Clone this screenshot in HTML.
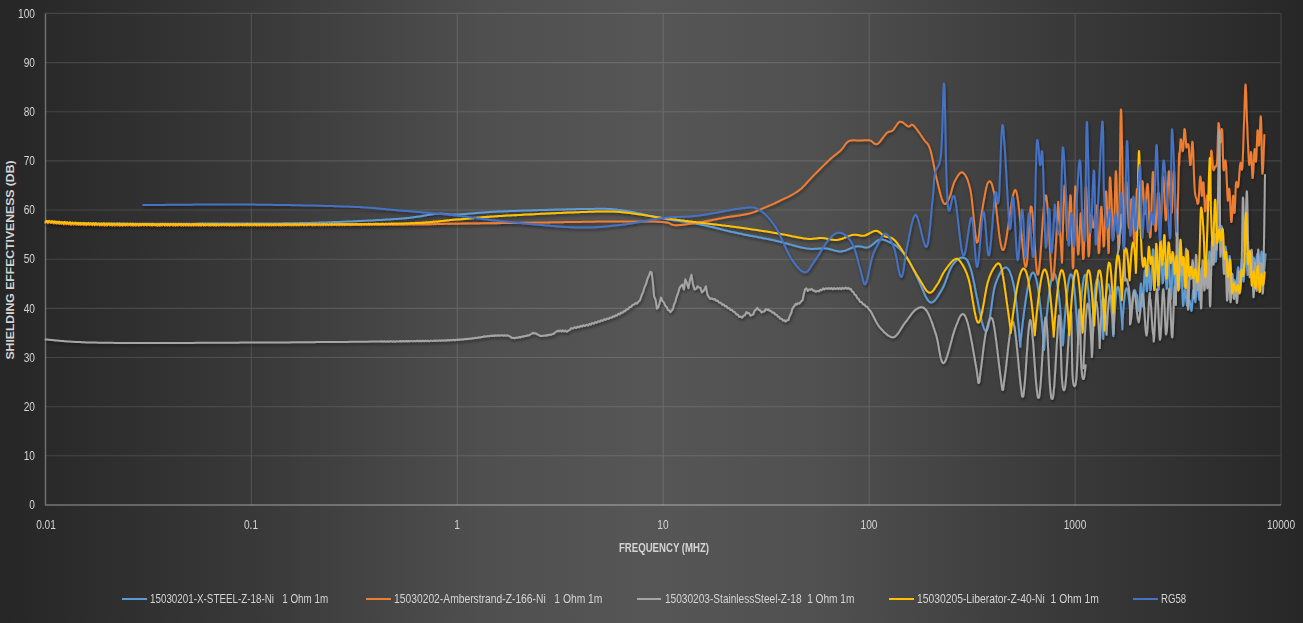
<!DOCTYPE html>
<html><head><meta charset="utf-8"><style>
html,body{margin:0;padding:0;}
body{width:1303px;height:623px;overflow:hidden;position:relative;font-family:"Liberation Sans",sans-serif;color:#d4d4d4;
background:linear-gradient(to right,#262626 0%,#393939 20%,#4f4f4f 37%,#565656 50%,#505050 63%,#3b3b3b 80%,#272727 100%);}
svg{position:absolute;left:0;top:0;}
.yl{position:absolute;left:-65px;width:100px;text-align:right;font-size:13px;line-height:16px;transform:scaleX(0.78);transform-origin:100% 50%;}
.xl{position:absolute;top:516.5px;width:100px;text-align:center;font-size:13px;line-height:16px;transform:scaleX(0.78);}
.xt{position:absolute;left:563.5px;top:539.75px;width:200px;text-align:center;font-size:13px;font-weight:bold;line-height:16px;transform:scaleX(0.74);}
.yt{position:absolute;left:-90.3px;top:251.5px;width:200px;height:16px;text-align:center;font-size:12.2px;font-weight:bold;line-height:16px;transform:rotate(-90deg) scaleY(0.9);}
.lgl{position:absolute;top:597.5px;height:2px;}
.lgt{position:absolute;top:590.5px;font-size:13.5px;line-height:16px;white-space:nowrap;transform:scaleX(0.78);transform-origin:0 50%;}
</style></head><body>
<svg width="1303" height="623" viewBox="0 0 1303 623">
<path d="M45.5 455.8H1281M45.5 406.7H1281M45.5 357.5H1281M45.5 308.4H1281M45.5 259.2H1281M45.5 210.0H1281M45.5 160.9H1281M45.5 111.7H1281M45.5 62.6H1281M45.5 13.4H1281M251.4 13.4V505M457.3 13.4V505M663.2 13.4V505M869.2 13.4V505M1075.1 13.4V505M1281.0 13.4V505" stroke="#fff" stroke-opacity="0.13" stroke-width="1.1" fill="none"/>
<path d="M45.5 13.4V505.5M45 505H1281" stroke="#fff" stroke-opacity="0.35" stroke-width="1.4" fill="none"/>
<defs><filter id="sh" x="-5%" y="-5%" width="110%" height="110%"><feGaussianBlur in="SourceAlpha" stdDeviation="1.6"/><feOffset dx="0.5" dy="2" result="b"/><feComponentTransfer><feFuncA type="linear" slope="0.45"/></feComponentTransfer><feMerge><feMergeNode/><feMergeNode in="SourceGraphic"/></feMerge></filter></defs>
<g fill="none" stroke-width="2" stroke-linejoin="round" stroke-linecap="round" filter="url(#sh)"><path d="M45.5 221.5l1 0 1.1 .1 1 0 1.2 .1 1.1 .1 1.2 0 .6 .1 .7 0 .6 .1 .7 0 .7 0 .7 .1 .7 0 .8 .1 .7 0 .8 .1 .8 0 .8 .1 .9 0 .9 .1 .9 0 .9 0 1 .1 .9 0 1 .1 1.1 0 1.1 .1 1.1 0 1.1 .1 1.1 0 1.2 .1 1.3 0 1.2 0 1.3 .1 1.4 0 1.3 .1 1.4 0 1.5 0 1.5 .1 1.5 0 1.5 0 1.7 .1 1.6 0 1.7 0 1.7 0 1.8 .1 1.8 0 1.9 0 .7 0 .7 0 .7 0 .7 0 .8 0 .7 0 .8 0 .7 0 .8 .1 .8 0 .8 0 .8 0 .8 0 .9 0 .8 0 .8 0 .9 0 .9 0 .8 0 .9 0 .9 0 .9 0 .9 0 1 0 .9 0 .9 0 1 0 .9 0 1 0 1 0 .9 0 1 0 1 .1 1 0 1 0 1 0 1 0 1.1 0 1 0 1 0 1.1 0 1 0 1.1 0 1 0 1.1 0 1.1 0 1 0 1.1 0 1.1 0 1.1 0 1.1 0 1.1 0 1.1 0 1.1 0 1.1 0 1.1 0 1.1 0 1.1 0 1.1 0 1.2 0 1.1 0 1.1 0 1.1 0 1.2 0 1.1 0 1.1 0 1.2 0 1.1 0 1.2 0 1.1 0 1.2 0 1.1 0 1.1 0 1.2 0 1.1 0 1.2 0 1.1 0 1.2 0 1.1 0 1.2 0 1.1 0 1.2 0 1.1 0 1.1 0 1.2 0 1.1 0 1.2 0 1.1 0 1.1 0 1.2 0 1.1 0 1.1 0 1.2 0 1.1 0 1.1 0 1.1-.1 1.2 0 1.1 0 1.1 0 1.1 0 1.1 0 1.1 0 1.1 0 1.1 0 1.1 0 1.1 0 1 0 1.1 0 1.1 0 1 0 1.1 0 1.1 0 1 0 1.1 0 1 0 1 0 1.1 0 1 0 1 0 1 0 1 0 1 0 1 0 1 0 .9 0 1 0 .9 0 1 0 .9 0 1 0 .9 0 .9 0 .9 0 .9-.1 .9 0 .9 0 .9 0 .8 0 .9 0 .8 0 .9 0 .8 0 .8 0 .8 0 .8 0 .8 0 .7 0 .8 0 .8 0 .7 0 1.6 0 1.5 0 1.5 0 1.4 0 1.4 0 1.4 0 1.4 0 1.3 0 1.3-.1 1.3 0 1.3 0 1.2 0 1.2 0 1.2 0 1.1 0 1.1 0 1.1 0 1.1 0 1.1 0 1 0 1.1 0 1 0 1 0 .9 0 1 0 .9 0 1 0 .9-.1 .9 0 .9 0 .9 0 .8 0 .9 0 .8 0 .9 0 .8 0 .8 0 .9 0 .8 0 .8-.1 .8 0 .8 0 .8 0 .8 0 .8 0 .8 0 .9 0 .8-.1 .8 0 .8 0 .8 0 .9 0 .8-.1 .8 0 .9 0 .8 0 .9 0 .9-.1 .9 0 .9 0 .9 0 .9-.1 1 0 .9 0 1 0 1-.1 1 0 1 0 1-.1 1.1 0 .9 0 1-.1 1 0 .9 0 1-.1 1 0 1 0 1-.1 1 0 1 0 1-.1 1.1 0 1-.1 1 0 1.1 0 1-.1 1.1 0 1.1-.1 1 0 1.1 0 1.1-.1 1.1 0 1-.1 1.1 0 1.1-.1 1.1 0 1.1-.1 1.1 0 1.1-.1 1.1 0 1.1 0 1-.1 1.1 0 1.1-.1 1.1 0 1.1-.1 1.1 0 1.1-.1 1.1 0 1.1-.1 1-.1 1.1 0 1.1-.1 1.1 0 1-.1 1.1 0 1.1-.1 1 0 1.1-.1 1 0 1-.1 1.1 0 1-.1 1-.1 1 0 1-.1 1 0 1-.1 1 0 1-.1 1 0 .9-.1 1-.1 .9 0 .9-.1 .9 0 .9-.1 .9 0 .9-.1 .9 0 .8-.1 .9-.1 .8 0 .9-.1 .8 0 .8-.1 .7 0 .8-.1 .8 0 .7-.1 1.6-.1 1.5-.1 1.4-.2 1.4-.1 1.4-.2 1.3-.1 1.3-.1 1.3-.2 1.2-.1 1.1-.2 1.2-.2 1.1-.1 1.1-.2 1-.1 1-.2 1-.1 1-.2 .9-.2 .9-.1 .9-.2 .9-.1 .8-.2 .9-.1 .8-.2 .8-.1 .8-.1 .8-.2 .7-.1 .8-.1 .8-.1 .7-.1 .8-.1 .8-.1 .7-.1 .8-.1 .7 0 .8-.1 1.4-.1 1.2 0 1.1-.1 1 0 1 .1 .8 0 .8 .1 .8 .1 .8 0 .7 .1 .8 .1 .8 .1 .8 .1 .8 .1 1 .1 1 0 1.1 0 1.2 .1 1.4-.1 1.5 0 .7 0 .8-.1 .7 0 .8 0 .7-.1 .8 0 .7-.1 .8 0 .8-.1 .8-.1 .8 0 .8-.1 .8-.1 .8 0 .9-.1 .8-.1 .9 0 .9-.1 .9-.1 .9-.1 .9-.1 1 0 .9-.1 1-.1 1-.1 1.1-.1 1-.1 1.1 0 1-.1 1.1-.1 1.2-.1 1.1-.1 1.2-.1 1.2 0 1.2-.1 1.3-.1 1.3-.1 1.3-.1 1.3 0 1.4-.1 1.4-.1 1.4 0 1.5-.1 .8 0 .7-.1 .8 0 .9 0 .8-.1 .9 0 .8 0 .9-.1 .9 0 .9 0 .9-.1 1 0 .9 0 1-.1 1 0 .9-.1 1 0 1.1 0 1-.1 1 0 1 0 1.1-.1 1 0 1.1-.1 1.1 0 1.1 0 1-.1 1.1 0 1.1 0 1.1-.1 1.2 0 1.1 0 1.1-.1 1.1 0 1.1-.1 1.2 0 1.1 0 1.1-.1 1.1 0 1.2 0 1.1-.1 1.1 0 1.2 0 1.1-.1 1.1 0 1.2 0 1.1-.1 1.1 0 1.1 0 1.1-.1 1.2 0 1.1 0 1.1-.1 1.1 0 1.1 0 1 0 1.1-.1 1.1 0 1 0 1.1-.1 1 0 1.1 0 1 0 1-.1 1 0 1 0 1 0 1 0 1-.1 .9 0 .9 0 1 0 .9 0 .9-.1 .8 0 .9 0 .9 0 .8 0 .8 0 .8-.1 .8 0 .7 0 .8 0 .7 0 1.6 0 1.6 0 1.5-.1 1.4 0 1.3 0 1.3 0 1.2 0 1.2-.1 1.1 0 1.1 0 1 0 1 0 .9 0 1 0 .8 0 .9 0 .8 0 .9 0 .8 0 .8 0 .7 .1 .8 0 .8 0 .8 .1 .7 0 .8 .1 .8 0 .9 .1 .8 .1 .9 .1 .8 0 1 .1 .9 .1 1 .2 1 .1 1.1 .1 .9 .1 1 .1 .9 .2 1 .1 .9 .2 1 .1 1 .2 1 .2 1 .1 1 .2 1 .2 1 .2 1 .2 1 .2 1.1 .2 1 .2 1 .3 1.1 .2 1 .2 1.1 .2 1 .2 1.1 .3 1 .2 1 .2 1.1 .3 1 .2 1 .2 1.1 .3 1 .2 1 .2 1 .2 1.1 .2 1 .3 1 .2 1 .2 1 .2 .9 .2 1 .2 1 .2 .9 .2 1 .2 .9 .1 .9 .2 1.1 .2 1.1 .2 1.1 .2 1.1 .2 1 .1 1.1 .2 1 .2 1.1 .1 1 .2 1 .1 1 .2 1 .1 1 .1 1 .2 1 .1 1 .2 .9 .1 1 .1 1 .2 1 .1 .9 .2 1 .1 1 .1 1 .2 1 .1 .9 .2 1 .2 1 .1 1 .2 1 .2 1.1 .1 1 .2 1 .2 1 .2 1.1 .2 1 .2 .9 .2 1 .2 .9 .2 1 .2 1 .2 .9 .2 1 .2 1 .3 1 .2 .9 .2 1 .2 1 .3 1 .2 1 .2 1 .3 1 .2 1 .3 1 .2 1 .2 1 .3 1 .2 .9 .3 1 .2 1 .3 1 .2 1 .2 1 .3 1 .2 1 .3 1 .2 1 .2 1 .3 1 .2 1 .2 1 .2 1 .3 1 .2 1 .2 1 .2 1 .2 1 .2 1 .2 1 .2 1 .3 1 .2 1 .2 1.1 .2 1 .2 1 .2 1 .2 1 .2 1.1 .2 1 .1 1 .2 1 .2 1.1 .2 1 .2 1 .2 1 .2 1 .2 1 .2 1 .2 1 .2 1 .2 1 .2 1 .2 1 .2 .9 .1 1 .2 .9 .2 1 .2 .9 .2 1 .2 .9 .2 .9 .2 .9 .2 .9 .2 1.1 .3 1.1 .2 1.1 .3 1.1 .2 1.1 .3 1.1 .3 1.1 .3 1.1 .3 1.1 .3 1 .3 1.1 .2 1 .3 1.1 .3 1 .3 1 .3 1 .3 1 .2 1 .3 1 .3 .9 .2 1 .3 .9 .2 1 .3 .9 .2 .9 .2 .9 .2 .8 .2 .9 .2 .9 .1 .8 .2 .8 .1 1.3 .2 1.2 .1 1.2 .1 1.2 .1 1.1 0 1.1 0 1-.1 1 0 1-.1 1 0 .9-.1 1-.1 .9-.1 .9 0 .9-.1 .9 0 .9 0 .9 0 .9 .1 1.1 .1 1.1 .2 1.1 .2 1.1 .3 1 .3 1 .3 1 .3 1 .3 1 .2 1 .3 1 .2 1 .2 1 .1 1 0 1 0 1-.1 1-.2 .9-.2 1-.3 1-.4 1-.3 1-.4 1-.5 1-.4 1-.4 1-.4 .9-.4 .9-.3 1-.3 .8-.2 .9-.2 1.2-.1 1.1 0 1.1 .1 1.1 .2 1 .2 1 .3 1 .2 1 .1 1 .1 1.1-.1 1-.2 .9-.3 .9-.5 .9-.6 .9-.6 .9-.7 .9-.8 .9-.7 .9-.8 .9-.7 .9-.6 .8-.5 .9-.4 .8-.3 1.1-.2 1.2 0 1 .1 1.1 .3 1 .3 1.1 .5 1 .4 1 .5 1.1 .5 .9 .4 .9 .4 .8 .4 .9 .5 .9 .4 .9 .6 .9 .5 .9 .6 .8 .7 .9 .7 .9 .8 .6 .6 .7 .7 .6 .6 .7 .7 .6 .7 .6 .8 .7 .7 .6 .8 .7 .9 .6 .8 .6 .9 .7 .9 .6 1 .7 1 .6 1 .5 .8 .4 .7 .4 .8 .5 .9 .4 .8 .5 .9 .4 .8 .4 .9 .5 .9 .4 1 .5 .9 .4 .9 .5 1 .4 1 .5 .9 .4 1 .5 1 .5 1 .5 1 .5 1 .5 1 .4 .9 .5 .9 .4 1 .5 1 .5 1.1 .4 1.1 .5 1.2 .5 1.1 .5 1.2 .5 1.1 .5 1.2 .5 1.1 .4 1.1 .5 1.1 .5 1.1 .5 1 .5 .9 .5 .9 .5 .8 .5 .8 .5 .6 1 1.1 1 .6 .7 .2 .7 0 .8-.3 .7-.3 .7-.6 .7-.6 .8-.8 .7-.9 .7-1 .7-1 .7-1.1 .7-1.2 .7-1.2 .7-1.1 .7-1.2 .7-1.1 .6-1.1 .4-.8 .5-.8 .4-.9 .4-.9 .4-1 .4-1 .4-1 .4-1 .4-1.1 .4-1.1 .4-1 .4-1.1 .4-1.1 .3-1 .4-1.1 .4-1 .4-1 .4-1 .4-.9 .4-.9 .4-.9 .4-.8 .4-.7 .4-.7 .8-1.2 .8-1.1 .9-1.1 .8-.9 .9-.9 .8-.9 .9-.7 .9-.6 .8-.5 .8-.3 .9-.3 .7-.1 .8 .1 .7 .1 .6 .1 1.1 .3 1 .7 1.1 1.2 .5 .9 .6 1.2 .6 1.4 .7 1.7 .7 2.1 .8 2.4 .2 .6 .2 .7 .2 .7 .2 .8 .2 .8 .2 .8 .2 .9 .2 1 .2 1 .2 1 .3 1 .2 1.1 .2 1.1 .3 1.1 .2 1.2 .2 1.2 .3 1.2 .2 1.2 .3 1.2 .2 1.3 .2 1.3 .3 1.3 .2 1.3 .3 1.3 .2 1.3 .3 1.3 .3 1.3 .2 1.3 .3 1.3 .2 1.4 .3 1.3 .2 1.3 .3 1.3 .2 1.2 .3 1.3 .3 1.2 .2 1.3 .3 1.2 .2 1.2 .3 1.2 .2 1.1 .3 1.1 .2 1.1 .3 1.1 .2 1 .3 1 .2 .9 .2 .9 .3 .9 .2 .8 .2 .8 .3 .7 .2 .7 .2 .7 .5 1.1 .4 .9 .4 .6 .7 .5 .7-.3 .5-.7 .4-1 .3-.7 .2-.7 .2-.8 .2-.9 .2-.9 .2-1 .2-1.1 .3-1.1 .2-1.1 .2-1.2 .1-1.2 .2-1.3 .2-1.3 .2-1.3 .2-1.4 .2-1.4 .2-1.3 .2-1.4 .2-1.4 .2-1.4 .2-1.4 .2-1.4 .1-1.4 .2-1.4 .2-1.3 .2-1.4 .2-1.3 .2-1.2 .2-1.3 .2-1.2 .2-1.1 .2-1.1 .2-1.1 .2-1 .2-.9 .3-.9 .2-.8 .2-.7 .5-1.5 .5-1.5 .5-1.4 .5-1.3 .6-1.4 .5-1.2 .5-1.2 .6-1.2 .5-1 .6-1 .5-1 .5-.8 .6-.8 .5-.7 1-1 1.1-.7 .9-.3 .9 .1 .8 .5 .8 .8 .8 1.1 .4 .7 .4 .7 .4 .8 .3 .9 .4 1 .3 1 .4 1.1 .4 1.1 .3 1.3 .3 1.3 .4 1.4 .3 1.4 .3 1.5 .4 1.6 .3 1.6 .3 1.7 .1 .7 .1 .7 .2 .8 .1 .8 .1 .9 .1 .9 .2 .9 .1 .9 .1 1 .1 .9 .2 1.1 .1 1 .1 1 .1 1.1 .2 1.1 .1 1.1 .1 1.1 .1 1.2 .2 1.1 .1 1.2 .1 1.2 .1 1.2 .1 1.1 .2 1.2 .1 1.2 .1 1.2 .1 1.2 .1 1.2 .1 1.2 .1 1.2 .1 1.2 .2 1.2 .1 1.2 .1 1.2 .1 1.1 .1 1.2 .1 1.1 .1 1.1 .1 1.1 .1 1.1 .1 1.1 0 1 .1 1.1 .1 1 .1 .9 .1 1 .1 .9 0 .9 .1 .9 .1 .8 .1 .8 0 .8 .1 .7 .1 .7 0 .6 .1 .6 .1 1.1 0-2.4 .3-3.4 .3-3 .3-2.8 .3-2.7 .3-2.7 .3-2.6 .3-2.5 .3-2.5 .3-2.5 .3-2.4 .3-2.4 .3-2.4 .3-2.3 .3-2.2 .3-2.2 .3-2.2 .3-2.1 .3-2 .3-2 .3-1.9 .3-1.9 .3-1.8 .3-1.8 .3-1.6 .3-1.6 .3-1.6 .3-1.4 .3-1.4 .3-1.3 .3-1.2 .3-1.2 .3-1 .3-1 .3-.8 .3-.8 .3-.7 .6-1.1 .6-.6 .9-.2 .9 .8 .6 1.1 .3 .7 .3 .9 .3 .9 .3 1.1 .3 1.2 .3 1.3 .3 1.4 .3 1.5 .3 1.7 .3 1.8 .3 1.9 .3 2 .3 2.1 .3 2.2 .3 2.4 .3 2.4 .3 2.6 .3 2.6 .3 2.8 .3 2.9 .3 3 .3 3.1 .3 3.2 .3 3.3 .3 3.4 .3 3.4 .3 3.6 .3 3.7 .3 3.8 .3 4.1 .3 4.5 .3-6.8 .3-4 .3-3.8 .3-3.7 .3-3.5 .3-3.5 .3-3.3 .3-3.3 .3-3.1 .3-3.1 .3-3 .3-2.9 .3-2.8 .3-2.7 .3-2.6 .3-2.5 .3-2.4 .3-2.2 .3-2.2 .3-2 .3-1.9 .3-1.7 .3-1.6 .3-1.5 .3-1.3 .3-1.2 .3-1.1 .3-.8 .3-.8 .6-.9 .9-.3 .6 .7 .6 1.4 .3 .9 .3 1.2 .3 1.2 .3 1.5 .3 1.6 .3 1.8 .3 1.9 .3 2.1 .3 2.3 .3 2.4 .3 2.6 .3 2.7 .3 2.9 .3 3 .3 3.1 .3 3.3 .3 3.5 .3 3.5 .3 3.7 .3 3.9 .3 4 .3 4.1 .3 4.4 .3 4.7 .3 3.4 .3-5.1 .3-4.7 .3-4.4 .3-4.3 .3-4.1 .3-4 .3-3.8 .3-3.8 .3-3.5 .3-3.5 .3-3.3 .3-3.1 .3-3 .3-2.7 .3-2.7 .3-2.4 .3-2.2 .3-2.1 .3-1.8 .3-1.6 .3-1.4 .3-1.2 .3-.9 .3-.8 .6-.7 .9 .7 .3 .8 .3 .9 .3 1.3 .3 1.4 .3 1.7 .3 2 .3 2.2 .3 2.4 .3 2.6 .3 2.9 .3 3.1 .3 3.3 .3 3.5 .3 3.7 .3 3.9 .3 4.1 .3 4.3 .3 4.5 .3 4.7 .3 4.9 .3 5.2 .3 5.8 .3-5.3 .3-5.3 .3-5 .3-4.8 .3-4.5 .3-4.4 .3-4.2 .3-4 .3-3.9 .3-3.6 .3-3.4 .3-3.2 .3-2.9 .3-2.8 .3-2.4 .3-2.2 .3-1.9 .3-1.7 .3-1.3 .3-1.1 .3-.8 .6-.6 .9 1.4 .3 1 .3 1.4 .3 1.7 .3 2 .3 2.2 .3 2.6 .3 2.8 .3 3.1 .3 3.4 .3 3.6 .3 3.8 .3 4.1 .3 4.4 .3 4.6 .3 4.8 .3 5 .3 5.3 .3 5.9 .3-3.2 .3-5.6 .3-5.3 .3-4.9 .3-4.6 .3-4.4 .3-4.2 .3-3.9 .3-3.7 .3-3.3 .3-3.1 .3-2.8 .3-2.4 .3-2.2 .3-1.8 .3-1.4 .3-1.1 .3-.8 .9-.1 .3 .6 .3 1.1 .3 1.4 .3 1.7 .3 2 .3 2.4 .3 2.8 .3 3 .3 3.3 .3 3.6 .3 3.8 .3 4.1 .3 4.3 .3 4.6 .3 4.8 .3 5.1 .3 5.5 .3 5.8 .3-6.2 .3-5.6 .3-5.3 .3-5 .3-4.7 .3-4.3 .3-4.1 .3-3.7 .3-3.4 .3-3 .3-2.6 .3-2.2 .3-1.8 .3-1.4 .3-.9 .6-.6 .6 1.1 .3 1.2 .3 1.6 .3 2.1 .3 2.4 .3 2.7 .3 3.2 .3 3.5 .3 3.8 .3 4.2 .3 4.5 .3 4.7 .3 5.1 .3 5.4 .3 5.8 .3 .7 .3-6.3 .3-5.7 .3-5.3 .3-5 .3-4.6 .3-4.2 .3-3.8 .3-3.4 .3-2.9 .3-2.6 .3-2.1 .3-1.6 .3-1.2 .3-.7 .9 .6 .3 1.1 .3 1.5 .3 1.9 .3 2.4 .3 2.6 .3 3.1 .3 3.3 .3 3.6 .3 3.9 .3 4.1 .3 4.4 .3 4.7 .3 5.4 .3-10.1 .3-4.4 .3-4.1 .3-3.8 .3-3.4 .3-3.1 .3-2.9 .3-2.4 .3-2.1 .3-1.8 .3-1.3 .3-1 .6-.8 .6 .7 .3 1 .3 1.3 .3 1.6 .3 1.9 .3 2.2 .3 2.6 .3 2.7 .3 3 .3 3.2 .3 3.4 .3 3.6 .3 4 .3-4.5 .3-4.1 .3-3.7 .3-3.4 .3-3 .3-2.7 .3-2.4 .3-1.9 .3-1.6 .3-1.2 .3-.8 .9 .1 .3 .8 .3 1.1 .3 1.5 1.1 1.5 .1 1.2 .1 .9 .1 1 0 1 .1 1.2 .1 1.2 .1 1.2 .1 1.3 .1 1.2 .1 1.2 .1 1 .1 1 .1 .9 .1 .7 .3 .8 .3-.6 .1-1 .1-.6 0-.8 .1-.7 0-.9 .1-.9 .1-1 0-1 .1-1.1 .1-1 0-1.2 .1-1.1 .1-1.1 0-1.2 .1-1.1 .1-1.2 0-1.1 .1-1.1 0-1 .1-1.1 .1-.9 0-.9 .1-.9 .1-.8 0-.7 .1-.7 .1-1 .2-.7 .2 .6 .1 1.3 .1 .8 0 .9 .1 1 .1 1.2 0 1.1 .1 1.3 0 1.3 .1 1.3 .1 1.3 0 1.3 .1 1.3 0 1.2 .1 1.2 .1 1.2 0 1 .1 1 0 .8 .1 .7 .1 1.1 .4-1.1 .1-1 .1-.6 0-.7 .1-.8 0-.8 0-.8 .1-.9 0-.9 .1-1 0-1 .1-1 0-1 .1-1.1 0-1.1 .1-1.1 0-1.1 .1-1.1 0-1.1 .1-1.1 0-1.2 .1-1.1 0-1.1 .1-1 0-1.1 .1-1 0-1 .1-1 0-.9 .1-.9 0-.9 .1-.8 0-.7 .1-.7 0-.7 .1-1.1 .1-.8 .2-.7 .2 .8 .1 .6 .1 .8 .1 1 .1 1 .1 1.2 .1 1.2 .1 1.3 .1 1.3 0 1.3 .1 1.4 .1 1.3 .1 1.2 .1 1.3 .1 1.1 .1 1 0 .9 .1 .8 .1 .6 .2 .7 .2-.8 .2-1.2 0-.8 .1-.8 0-.9 .1-1 0-1 .1-1.1 .1-1.2 0-1.1 .1-1.2 0-1.2 .1-1.2 0-1.2 .1-1.2 0-1.2 .1-1.1 .1-1.1 0-1 .1-.9 0-.9 .1-.8 0-.7 .1-1.1 .2-.7 .2 .7 .1 1.2 .1 .8 .1 .8 0 1 .1 1 0 1.1 .1 1.2 .1 1.2 0 1.2 .1 1.3 0 1.3 .1 1.2 .1 1.3 0 1.2 .1 1.2 .1 1.1 0 1.1 .1 1 .1 1 0 .8 .1 .7 .1 1.1 .5-.9 .1-1.1 0-.6 0-.6 .1-.7 0-.8 .1-.8 0-.9 .1-.8 0-1 .1-.9 0-1 .1-1.1 0-1 .1-1.1 0-1.1 0-1.1 .1-1.1 0-1.1 .1-1.2 0-1.1 .1-1.1 0-1.2 .1-1.1 0-1.1 .1-1.2 0-1.1 .1-1 0-1.1 .1-1 0-1.1 0-.9 .1-1 0-.9 .1-.9 0-.8 .1-.8 0-.8 .1-.6 0-.7 .1-1.1 .1-.8 .1-.8 .3 .9 .1 1.3 0 .8 .1 .9 0 .9 .1 1 0 1.1 .1 1.2 0 1.2 .1 1.2 0 1.3 .1 1.2 0 1.3 .1 1.3 0 1.2 .1 1.3 0 1.2 .1 1.1 0 1.1 .1 1.1 0 1 0 .9 .1 .8 0 .7 .1 1 .2 .7 .2-.7 .1-1.1 0-.7 .1-.8 0-.8 .1-1 0-1 .1-1.1 .1-1.2 0-1.1 .1-1.3 0-1.2 .1-1.3 0-1.2 .1-1.3 0-1.2 .1-1.3 .1-1.2 0-1.2 .1-1.1 0-1 .1-1.1 0-.9 .1-.8 .1-.8 0-.7 .1-1 .4 .8 .1 1 0 .6 0 .7 .1 .7 0 .8 0 .8 .1 .9 0 .9 .1 1 0 1 0 1 .1 1.1 0 1.1 0 1.1 .1 1.1 0 1.2 0 1.1 .1 1.2 0 1.2 0 1.2 .1 1.2 0 1.1 0 1.2 .1 1.2 0 1.1 .1 1.2 0 1.1 0 1.1 .1 1.1 0 1 0 1 .1 1 0 .9 0 .9 .1 .8 0 .8 .1 .7 0 .7 0 .6 .1 1.1 .1 .7 .4-1 .1-1.1 0-.6 0-.7 .1-.7 0-.8 .1-.8 0-.9 0-.9 .1-1 0-1 .1-1 0-1.1 0-1 .1-1.1 0-1.2 .1-1.1 0-1.2 .1-1.2 0-1.1 0-1.2 .1-1.2 0-1.2 .1-1.2 0-1.2 .1-1.2 0-1.1 0-1.2 .1-1.1 0-1.1 .1-1.1 0-1.1 0-1 .1-1.1 0-.9 .1-1 0-.9 .1-.8 0-.8 0-.8 .1-.7 0-.6 .1-1.1 .1-.9 .1-.8 .2 .7 .1 .9 .1 1.2 0 .7 .1 .8 0 .8 0 .8 .1 .9 0 1 .1 1 0 1 0 1 .1 1.1 0 1.1 0 1.2 .1 1.1 0 1.2 0 1.2 .1 1.1 0 1.2 .1 1.2 0 1.2 0 1.1 .1 1.2 0 1.1 0 1.1 .1 1.1 0 1 0 1.1 .1 .9 0 1 .1 .9 0 .8 0 .8 .1 .8 0 .6 .1 .7 0 1 .1 .7 .4-.8 .1-.8 .1-.9 .1-1.1 .1-1.1 0-1.3 .1-1.2 .1-1.4 .1-1.3 .1-1.3 0-1.4 .1-1.3 .1-1.2 .1-1.1 .1-1.1 .1-.9 0-.7 .1-.7 .2-.6 .3 .9 .1 1.2 .1 .7 .1 .9 0 .9 .1 1 .1 1.1 0 1.1 .1 1.2 .1 1.2 0 1.2 .1 1.2 .1 1.2 .1 1.2 0 1.3 .1 1.1 .1 1.2 0 1.1 .1 1.1 .1 .9 .1 1 0 .8 .1 .7 .1 .7 .1 .9 .4-.8 .1-1.2 0-.7 .1-.8 0-.8 .1-1 0-.9 0-1.1 .1-1.1 0-1.1 .1-1.1 0-1.2 .1-1.2 0-1.2 0-1.2 .1-1.2 0-1.3 .1-1.2 0-1.2 .1-1.1 0-1.1 0-1.1 .1-1.1 0-1 .1-1 0-.8 .1-.9 0-.7 .1-.7 .1-1.1 .1-.7 .3 .9 0 .9 .1 1.3 .1 .7 0 .7 .1 .9 0 .8 0 .9 .1 1 0 1 .1 1 0 1 .1 1.1 0 1.1 .1 1.2 0 1.1 0 1.2 .1 1.1 0 1.2 .1 1.2 0 1.2 .1 1.2 0 1.2 .1 1.1 0 1.2 .1 1.2 0 1.1 0 1.1 .1 1.1 0 1 .1 1 0 1 .1 .9 0 .9 .1 .9 0 .8 .1 .7 0 .7 0 .7 .1 1 .1 .8 .2 .6 .2-.7 0-.8 .1-1.1 .1-.6 0-.7 0-.8 .1-.8 0-.8 .1-.9 0-.9 0-1 .1-1 0-1.1 .1-1 0-1.1 0-1.2 .1-1.1 0-1.2 .1-1.1 0-1.2 0-1.2 .1-1.2 0-1.2 .1-1.2 0-1.2 0-1.1 .1-1.2 0-1.2 .1-1.1 0-1.1 0-1.1 .1-1 0-1.1 0-1 .1-.9 0-.9 .1-.9 0-.8 0-.8 .1-.7 0-.7 .1-.6 0-1 .1-.7 .4 .8 .1 1.1 0 .7 .1 .8 0 .8 .1 .8 0 .9 .1 1 0 1 0 1.1 .1 1 0 1.1 .1 1.2 0 1.1 .1 1.2 0 1.2 .1 1.2 0 1.2 0 1.2 .1 1.2 0 1.2 .1 1.2 0 1.2 .1 1.1 0 1.1 .1 1.1 0 1 0 1.1 .1 .9 0 .9 .1 .9 0 .8 .1 .7 0 .7 .1 .6 0 1 .1 .7 .4-.9 .1-1.2 .1-.7 0-.7 .1-.9 0-.9 .1-1 0-1 .1-1 0-1.2 .1-1.1 0-1.2 .1-1.2 .1-1.2 0-1.2 .1-1.2 0-1.2 .1-1.3 0-1.2 .1-1.2 0-1.1 .1-1.2 0-1.1 .1-1 0-1 .1-1 0-.9 .1-.8 .1-.8 0-.7 .1-.6 .1-.9 .1-.6 .2 .8 .1 1.1 .1 .7 0 .7 .1 .9 0 .9 .1 1 0 1 .1 1.1 0 1.1 .1 1.2 0 1.2 .1 1.2 0 1.2 .1 1.3 0 1.2 .1 1.2 0 1.2 0 1.2 .1 1.1 0 1.1 .1 1.1 0 1 .1 .9 0 .9 .1 .8 0 .7 .1 .6 .1 .9 .4-1 0-.7 .1-.7 0-.9 .1-.9 0-1 0-1 .1-1.1 0-1.1 .1-1.2 0-1.2 .1-1.3 0-1.2 .1-1.3 0-1.2 .1-1.3 0-1.2 .1-1.3 0-1.2 .1-1.1 0-1.1 .1-1.1 0-1 .1-.9 0-.9 .1-.8 0-.7 .1-.6 .1-.9 .3 .8 0 .8 .1 1.1 0 .6 .1 .7 0 .7 0 .7 .1 .8 0 .8 0 .9 .1 .8 0 .9 0 1 .1 .9 0 1 0 1 .1 1.1 0 1 0 1.1 .1 1 0 1.1 0 1.1 .1 1.1 0 1.1 0 1.1 .1 1.1 0 1.1 0 1.1 .1 1.1 0 1.1 0 1.1 .1 1.1 0 1 0 1 .1 1 0 1 0 1 .1 .9 0 .9 0 .9 .1 .9 0 .8 0 .8 .1 .7 0 .7 0 .6 .1 .7 0 1 .1 .9 .1 .6 .1 .8 .3-1.2 .1-.8 .1-1.1 .1-1.2 .1-1.3 .1-1.4 .1-1.4 .1-1.4 .1-1.4 .1-1.3 .1-1.3 .1-1 .1-.9 .1-.7 .6 .9 .1 .7 .1 .9 .1 .9 .1 1 .1 1.1 .1 1.1 .1 1.1 .1 1.1 .1 1.1 .1 1.1 .2 1 .1 1 .1 .8 .1 .8 .1 .7 .2 .8 .6-.6 .4-1.3 .3-1.5 .3-1.4 .4-1 .6 .9 .2 1 .2 1.1 .1 1.3 .2 1.3 .2 1.3 .1 1.2 .2 1.1 .2 .9 .3 .8 .3-.8 .1-1.2 .1-.7 .1-.8 .1-.9 0-.9 .1-1.1 .1-1 0-1.1 .1-1.1 .1-1.1 0-1.2 .1-1.1 .1-1.1 0-1 .1-1 .1-1 0-.8 .1-.8 .1-.8 0-.6 .2-.8 .5 .6 .1 1 .1 1.1 .2 1.3 .1 1.4 .1 1.4 .2 1.3 .1 1.3 .2 1.1 .1 .8 .3 .9 .2-.9 .1-1.1 .1-.7 0-.8 .1-.8 .1-1 0-1 .1-1 0-1.1 .1-1.1 0-1.2 .1-1.1 .1-1.2 0-1.2 .1-1.1 0-1.1 .1-1.1 0-1 .1-1 0-.9 .1-.9 .1-.8 0-.7 .1-1 .2-.7 .3 .6 .1 1.3 .1 .9 .1 .9 .1 1 .1 1.2 0 1.1 .1 1.3 .1 1.2 .1 1.3 .1 1.3 .1 1.3 .1 1.2 0 1.2 .1 1.1 .1 1.1 .1 1 .1 .8 .1 .8 .1 .6 .1 .8 .4-.8 .1-1 .1-1.2 0-.7 .1-.8 0-.9 .1-.9 0-.9 .1-1 .1-1 0-1 .1-1.1 0-1.1 .1-1.1 0-1.1 .1-1.1 0-1.1 .1-1.2 0-1.1 .1-1.1 0-1.1 .1-1 0-1.1 .1-1 0-.9 .1-1 .1-.8 0-.9 .1-.7 0-.8 .1-.6 .1-1.1 .1-.7 .5 1 .1 .9 .1 1 .1 1.2 .1 1.2 .1 1.3 .1 1.3 .1 1.3 .1 1.2 .1 1.2 .1 1.1 .1 1 .1 .9 .1 .7 .2 .7 .4-1 .1-.9 .2-1 .2-1.2 .1-1.3 .2-1.2 .1-1.2 .2-1.2 .1-1 .2-.8 .2-.8 .4 1 .2 1.2 .2 1.5 .1 1.6 .2 1.5 .2 1.2 .2 .8 .4-.7 .1-1 .1-1.2 .1-.7 .1-.8 0-.8 .1-.9 0-.9 .1-1 .1-1 0-1 .1-1.1 0-1.1 .1-1 .1-1.1 0-1.1 .1-1.1 .1-1.1 0-1.1 .1-1.1 0-1 .1-1 .1-1 0-.9 .1-.9 0-.8 .1-.8 .1-.7 0-.7 .2-1.1 .1-.7 .5 1 .2 1 .1 1.1 .1 1.4 .1 1.4 .2 1.4 .1 1.5 .1 1.4 .1 1.3 .1 1.1 .2 1 .1 .7 .5-.8 .1-1.1 0-.7 0-.8 .1-.8 0-.9 .1-.9 0-1 .1-1 0-1 .1-1.1 0-1.1 0-1.2 .1-1.1 0-1.2 .1-1.1 0-1.2 .1-1.1 0-1.2 0-1.1 .1-1.1 0-1.1 .1-1 0-1 .1-.9 0-.9 0-.9 .1-.8 0-.7 .1-.6 .1-1.1 .1-.7 .4 1.1 .1 .7 0 .8 .1 .8 .1 1 0 1 .1 1 .1 1.2 0 1.1 .1 1.3 .1 1.2 .1 1.2 0 1.3 .1 1.3 .1 1.2 0 1.2 .1 1.2 .1 1.2 .1 1.1 0 1.1 .1 1 .1 .9 0 .8 .1 .7 .1 .7 .1 .9 .4-.7 0-1 .1-.6 0-.7 .1-.7 0-.8 .1-.8 0-.9 0-.9 .1-1 0-1 .1-1 0-1.1 .1-1.1 0-1.1 0-1.1 .1-1.1 0-1.1 .1-1.2 0-1.1 0-1.1 .1-1.2 0-1.1 .1-1 0-1.1 0-1 .1-1 0-1 .1-.9 0-.9 0-.9 .1-.8 0-.7 .1-.7 0-.6 .1-1 .1-.7 .3-.6 .3 1.1 .1 1.1 .2 1.2 .1 1.4 .2 1.4 .2 1.5 .1 1.3 .2 1.2 .1 .9 .3 .8 .3-.8 .1-.9 .2-1 .1-1.3 .1-1.4 .1-1.4 .2-1.3 .1-1.3 .1-1.2 .2-1 .1-.6 .5 .8 .1 .9 .1 1.3 .1 .7 0 .7 .1 .8 0 .8 .1 .9 0 .9 .1 1 0 1 .1 1 0 1 .1 1.1 0 1 .1 1.1 0 1.1 .1 1.1 0 1.1 .1 1 .1 1.1 0 1.1 .1 1 0 1.1 .1 1 0 .9 .1 1 0 .9 .1 .9 0 .8 .1 .8 0 .7 .1 .7 0 .6 .1 1.1 .1 .8 .2 .6 .3-1.4 .2-1 .1-1.3 .1-1.4 .1-1.5 .1-1.5 .1-1.5 .1-1.4 .1-1.2 .1-1.1 .2-.7 .4 1 .1 1.1 .1 .7 0 .7 .1 .7 0 .9 .1 .8 0 .9 .1 1 0 1 .1 1 0 1 .1 1.1 0 1.1 .1 1.1 0 1.1 .1 1.2 0 1.1 .1 1.1 0 1.2 0 1.1 .1 1.1 0 1.1 .1 1.1 0 1 .1 1.1 0 1 .1 .9 0 .9 .1 .9 0 .9 .1 .7 0 .8 .1 .6 0 .6 .1 1.1 .1 .7 .4-.9 0-.6 .1-.8 0-.8 .1-1 0-1 .1-1.1 0-1.1 .1-1.2 0-1.2 .1-1.3 0-1.2 .1-1.3 0-1.3 .1-1.2 0-1.3 .1-1.2 0-1.1 .1-1.1 0-1.1 .1-.9 .1-.9 0-.8 .1-.6 .1-1 .3 .6 .1 1 .1 .6 0 .7 .1 .8 0 .8 .1 .8 0 .9 .1 .9 0 1 .1 1 0 1.1 .1 1 .1 1.1 0 1.1 .1 1.1 0 1.2 .1 1.1 0 1.1 .1 1.1 0 1.1 .1 1.1 0 1.1 .1 1 0 1.1 .1 1 0 .9 .1 .9 .1 .9 0 .8 .1 .7 0 .7 .1 .7 .1 1 .1 .8 .2 .7 .4-.6 .2-1.1 .2-1.3 .3-1.5 .2-1.6 .2-1.4 .2-1.2 .2-.9 .6 .6 .1 1.1 .2 1.3 .2 1.4 .2 1.4 .1 1.1 .2 .8 .6-.7 .2-1.3 0-.7 .1-.9 .1-.9 .1-1 .1-1.1 .1-1 .1-1.2 .1-1.1 .1-1.1 .1-1.1 .1-1.1 .1-1.1 0-1 .1-1 .1-.9 .1-.8 .1-.8 .1-.6 .2-.9 .4 1.1 .1 .8 .1 .9 .1 1.1 0 1.1 .1 1.2 .1 1.3 .1 1.3 0 1.3 .1 1.2 .1 1.3 0 1.1 .1 1.1 .1 1 0 .9 .1 .7 .2 1 .3-.8 .1-1.1 .1-.8 0-.8 .1-.9 0-.9 .1-1 .1-1.1 0-1.1 .1-1.1 0-1.2 .1-1.2 .1-1.1 0-1.2 .1-1.2 0-1.2 .1-1.1 .1-1.1 0-1 .1-1 0-.9 .1-.9 0-.8 .1-.7 .1-1.1 .1-.6 .3 1 .1 .7 .1 .8 0 .9 .1 1.1 .1 1.1 0 1.1 .1 1.2 0 1.3 .1 1.3 .1 1.3 0 1.2 .1 1.3 0 1.2 .1 1.1 .1 1.1 0 1 .1 .9 .1 .8 0 .7 .2 .8 .3-.6 .1-1 .1-.7 0-.7 .1-.8 0-.9 .1-.9 .1-1 0-1 .1-1 .1-1.1 0-1.1 .1-1.2 0-1.1 .1-1.2 .1-1.1 0-1.2 .1-1.1 .1-1.1 0-1.1 .1-1.1 .1-1 0-1 .1-.9 0-.8 .1-.8 .1-.7 0-.7 .2-1 .1-.6 .3 .6 .2 1.3 .1 .8 0 .9 .1 .9 .1 1 .1 1.1 0 1.2 .1 1.1 .1 1.2 .1 1.2 0 1.2 .1 1.2 .1 1.1 .1 1.1 0 1.1 .1 1 .1 .9 .1 .8 0 .8 .1 .6 .1 .9 .5-1.2 .1-.9 .1-1 .1-1.2 .1-1.2 .1-1.3 .1-1.3 .1-1.2 .1-1.3 .1-1.1 .1-1 .1-.8 .1-.7 .6 1.3 .1 1 .1 1 .1 1.2 .1 1.2 .1 1.2 .2 1.2 .1 1.2 .1 1.1 .1 1.1 .1 .8 .1 .8 .2 .8 .4-.9 .1-.7 .1-.8 .1-.9 0-1 .1-1.1 .1-1.1 .1-1.1 .1-1.2 .1-1.2 .1-1.1 .1-1.1 .1-1.1 .1-.9 .1-.9 .1-.8 .1-.6 .2-.8 .6 1.1 .2 1.2 .2 1.3 .2 1.3 .2 1.3 .2 1 .2 .6 .5-.8 .1-.8 .1-1 .2-1.1 .1-1.2 .1-1.3 .2-1.2 .1-1.2 .2-1 .1-.9 .1-.6 .6 .8 .1 .8 .1 .8 .2 1 .1 1.1 .1 1.1 .1 1.2 .1 1.2 .1 1.2 .1 1.1 .1 1.1 .1 1 .1 .9 .1 .8 .1 .6 .3 .8 .3-1 .1-.6 .1-.8 .1-.9 .1-1 .1-1.1 .1-1.2 .1-1.1 .1-1.2 .1-1.2 .1-1.2 .1-1.2 .1-1.1 .1-1 .1-1 0-.8 .1-.7 .2-1 .4 .7 .1 1.3 .1 .8 .1 .9 0 1 .1 1.1 .1 1.1 0 1.1 .1 1.2 0 1.2 .1 1.2 .1 1.2 0 1.2 .1 1.1 .1 1.1 0 1.1 .1 1 .1 .8 0 .8 .1 .7 .1 1 .5-.7 .1-.6 .1-.7 .1-.8 .1-1 .1-1 .2-1 .1-1.1 .1-1.2 .1-1.1 .1-1.2 .1-1.1 .1-1.2 .1-1.1 0-1 .1-1 .1-.9 .1-.8 0-.8 .1-.6" stroke="#5B9BD5"/><path d="M45.5 223.0l1.4-1.8 1.1 1.9 1.6-1.7 1.4 1.6 1.4-1.3 1.3 1.8 1.4-1.7 1.5 1.8 1.1-1.6 1.5 2 1-1.7 1.2 1.7 1.5-1.5 1 1.9 1.5-2 1.1 1.8 1.1-1.7 1.1 1.8 1.2-1.6 1.1 2.1 1.2-1.9 1.2 1.7 1.5-1.8 1.1 1.9 1.1-1.4 1.2 1.6 1.4-1.6 1.1 1.7 1.2-1.6 1.6 1.7 1-1.9 1.5 1.9 1.6-1.4 1.5 1.3 1.5-1.5 1.5 1.7 1.4-1.7 1.1 1.7 1.4-1.3 1 1.2 1.2-1.4 1.3 1.7 1.1-1.4 1.3 1.3 1.1-1.2 1.3 1.6 1.3-1.6 1.2 1.5 1.4-1.5 1.3 1.2 1.3-1.5 1.3 1.8 1.2-1.7 1.3 1.7 1.1-1.6 1.3 1.4 1.4-1.2 1.2 1.6 1.4-1.7 1.5 1.6 1.3-1.6 1.5 1.5 1.3-1.4 1.1 1.3 1.3-1.4 1.5 1.5 1.2-1.5 1.2 1.7 1.4-1.6 1.3 1.6 1.5-1.7 1.5 1.7 1.2-1.6 1.3 1.3 1.4-1.3 1.4 1.4 1.6-1.5 1.3 1.4 1.5-1.3 1.4 1.3 1.1-1.1 1.5 1.2 1.5-1.4 1.4 1.4 1.2-1.5 1.1 1.8 1.2-1.4 1.2 1.3 1.3-1.4 1 1.1 1.4-1.1 1.4 1.1 1.2-1.2 1.2 1.4 1.2-1.5 1.3 1.4 1.4-1.2 1.6 1.4 1.1-1.6 1.4 1.6 1.4-1.6 1.3 1.4 1.5-1.4 1.3 1.5 1.3-1.3 1.2 1.3 1.1-1.3 1.5 1.2 1.2-1.4 1.4 1.5 1.1-1.4 1.2 1.4 1.6-1.4 1.1 1.5 1.4-1.3 1.1 1.1 1.3-1.2 1.1 1.4 1-1.5 1.3 1.4 1.5-1.4 1.2 1.3 1.2-1.1 1 1.1 1.5-1.3 1.1 1.3 1.3-1.2 1.3 1.3 1.1-1.3 1.4 1 1.1-.9 1.4 1.2 1.5-1.4 1.3 1.3 1.4-1.1 1.3 1 1.2-1 1.5 1 1.3-.9 1.1 1 1.3-1.2 1.6 1.2 1.4-1.3 1.1 1.4 1.1-1.4 1.4 1.4 1.5-1.1 1.1 .9 1.1-1.2 1.1 1.2 1.4-.9 1.5 .9 1.3-1.2 1.1 1.2 1.2-1.1 1.2 1.1 1.2-1.1 1.2 1.2 1.1-1.2 1.5 1.1 1.2-1.1 1.1 1.1 1.2-.9 1.2 1 1.4-1.1 1.4 1.2 1.1-1.3 1.1 1 1.1-1 1.4 1.2 1.3-1.2 1.2 1 1.1-1.1 1.1 1.3 1.2-1.2 1.3 1.2 1.4-1.2 1.1 1.1 1-1.1 1.3 1 1.2-.9 1.3 1 1.1-1 1.3 1.1 1.5-1.1 1.2 .9 1.3-1 1.4 .9 1.5-.9 1.5 1 1-1 1.2 1.1 1.1-1 1.1 .9 1.1-.8 1.5 .9 1.4-1 1.2 .9 1.2-1 1.1 .9 1.2-.8 1.3 .9 1.4-.9 1.5 .9 1.3-.9 1.4 .7 1.4-.8 1.6 1 1.3-1 1.3 .9 1.5-.8 1.4 .7 1.1-.8 1.4 .9 1.3-.8 1.3 .8 1.3-1 1.3 1 1.4-.8 1.5 .7 1.6-.9 1.2 1 1.4-.9 1.1 .7 1.2-.6 1.5 .7 1.4-.9 1.1 .9 1.6-.8 1.4 .8 1.5-.7 1.3 .7 1.2-.7 1.4 .6 1.4-.8 1.5 .9 1.1-.8 1.4 .7 1.4-.8 1.6 .8 1.4-.8 1.3 .8 1.2-.6 1.5 .7 1.3-.9 1.5 .7 1.2-.7 1.4 .7 1.3-.6 1.1 .7 1.4-.9 1.4 .8 1.4-.6 1.2 .5 1.3-.6 1.3 .6 1.1-.6 1.4 .7 1.1-.6 1.4 .5 1.3-.7 1.1 .8 1.2-.8 1.4 .7 1.5-.7 1.5 .6 1.4-.5 1.2 .6 1.2-.7 1.2 .6 1-.6 1.5 .7 1.3-.7 1.3 .5 1.1-.5 1.4 .5 1.3-.5 1 .5 1.2-.6 1.5 .6 1.3-.6 1.3 .5 1.5-.5 1.4 .6 1.6-.6 1.2 .4 1.1-.4 1.2 .5 1.2-.6 1.2 .5 1-.5 1.6 .5 1.2-.5 1.5 .5 1.5-.5 1.1 .5 1.2-.5 1.4 .3 1.1-.4 1.2 .4 1.1-.5 1.4 .4 1.2-.5 1.1 .5 1.2-.5 1.5 .4 1.3-.4 1.4 .3 1.2-.4 1.3 .3 1.2-.3 1.5 .4 1.2-.5 1.6 .4 1-.4 1.5 .4 1.2-.4 1.2 .3 1.5-.3 1.2 .2 1.1-.3 1.4 .3 1.1-.4 1.1 .4 1.5-.4 1.2 .4 1.2-.4 1.2 .3 1.4-.4 1.4 .4 1.2-.4 1.1 .3 1.3-.3 1.1 .3 1.2-.3 1.5 .2 1.4-.3 1.2 .3 1.2-.3 1.4 .2 1.4-.2 1.2 .2 1.3-.2 1.5 .2 1.4-.3 1.4 .3 1.2-.3 1.3 .2 1.3-.2 1.2 .2 1.1-.3 1.1 .3 1.3-.3 1.4 .2 1.6-.3 1.1 .3 1.3-.3 1.2 .2 1.3-.2 1.5 .2 1.1-.2 1.2 .2 1.5-.3 1.5 .2 1.6-.2 1.2 .2 1.5-.2 1.2 .1 1.3-.1 1.5 .1 1.4-.2 1.2 .1 1.2-.1 1.3 .1 1.4-.1 1.3 .1 1.1-.1 1.1 0 1.5-.1 1.5 .1 1.5-.1 1.5 0 1.1-.1 1.1 .1 1.3-.1 1.5 .1 1.2-.1 1.4 0 1.1-.1 1.2 .1 1.6-.1 1.4 0 1.1 0 1.2 0 1.5-.1 1.3 0 1.2 0 .6 0 1.1 0 1.1 0 1 0 1.1-.1 1.1 0 1.1 0 1 0 1.1 0 1.1-.1 1.1 0 1 0 1.1 0 1.1 0 1.1 0 1-.1 1.1 0 1.1 0 1 0 1.1 0 1 0 1.1-.1 1.1 0 1 0 1 0 1.1 0 1 0 1.1-.1 1 0 1 0 1 0 1 0 1.1 0 1 0 1-.1 .9 0 1 0 1 0 1 0 1 0 .9 0 1 0 .9-.1 1 0 .9 0 .9 0 .9 0 .9 0 .9 0 .9 0 .9 0 .9 0 .9-.1 .8 0 .9 0 .8 0 .8 0 .8 0 .8 0 .8 0 .8 0 .8 0 1.4 0 1.4 0 1.4 0 1.3 0 1.4 0 1.3 0 1.3 0 1.2 0 1.3 0 1.2 0 1.2 0 1.1 0 1.2 0 1.1 0 1.1 0 1.1 0 1.1 0 1.1 0 1 0 1 0 1 0 1 0 1 0 .9 .1 .9 0 1 0 .9 0 .8 0 .9 .1 .8 0 .9 0 .8 0 .8 0 .7 .1 .8 0 .8 0 .7 .1 .7 0 .7 0 .7 .1 .7 0 .6 .1 .7 0 2.1 .2 1.6 .3 1.3 .3 1 .3 .8 .3 .6 .4 1.2 .7 .7 .3 .8 .2 1 .1 1.3 .1 .8 0 .8 0 .9 0 .8-.1 .9-.1 1 0 .9-.1 1-.1 1-.1 1-.1 1-.2 1.1-.1 1-.2 1.1-.1 1.1-.2 1-.1 1.1-.2 1.1-.2 1.1-.1 1.1-.2 1.1-.2 1.1-.1 1.1-.2 .9-.1 1-.2 1-.2 .9-.1 1-.2 1-.2 1-.2 1-.1 1.1-.2 1-.2 1-.2 1-.2 1.1-.2 1-.2 1.1-.2 1-.2 1-.2 1-.2 1.1-.2 1-.2 1-.2 1-.2 1-.2 .9-.2 1-.2 1-.1 .9-.2 1.1-.2 1.1-.2 1.1-.1 1-.2 1.1-.2 1.1-.1 1.1-.2 1-.1 1.1-.2 1-.1 1.1-.2 1-.1 1-.2 1-.1 1-.2 1-.1 .9-.2 1-.2 .9-.1 .9-.2 .9-.2 .9-.2 .8-.2 1.2-.3 1.1-.3 1.1-.3 1-.4 1-.3 .9-.4 1-.3 .9-.4 .9-.4 .9-.4 .8-.3 .9-.4 .9-.4 .9-.4 .9-.4 1-.4 1-.4 .9-.4 .9-.4 1-.4 .9-.4 .9-.4 1-.4 .9-.4 1-.4 .9-.4 1-.4 1-.5 1-.5 1-.5 1-.5 1.1-.5 .8-.4 .9-.4 .9-.5 .9-.4 .9-.4 .9-.5 1-.4 .9-.5 1-.4 .9-.5 1-.5 1-.5 .9-.5 1-.5 .9-.6 .9-.5 .9-.5 .9-.6 .9-.6 .9-.6 .8-.6 .8-.6 .8-.7 .8-.6 .8-.7 .7-.7 .7-.8 .8-.7 .7-.7 .7-.8 .7-.8 .7-.7 .7-.8 .7-.8 .7-.8 .7-.7 .7-.8 .7-.8 .7-.7 .7-.8 .8-.8 .7-.7 .7-.7 .8-.8 .7-.8 .8-.7 .8-.8 .8-.8 .7-.8 .8-.7 .8-.8 .8-.8 .7-.8 .8-.7 .8-.8 .7-.7 .7-.7 .8-.7 .7-.7 .7-.7 .7-.7 .6-.6 .7-.6 1-.9 .9-.8 .9-.8 .9-.7 .8-.7 .9-.7 .8-.6 .8-.6 .8-.7 .7-.6 .8-.6 .7-.6 .7-.6 .7-.7 .8-.9 .8-.9 .7-.9 .6-.9 .7-1 .6-.8 .6-.9 .7-.8 .7-.7 .8-.6 .8-.5 .9-.4 1-.2 1-.2 1.1-.1 1.1 0 1.1 0 1.2 .1 1.1 0 1.1 .1 1 0 1 0 1.2-.1 1.1 0 1.1-.1 1.1 0 1.1-.1 1.1 0 1 0 .9 .1 1 .2 1 .4 .9 .6 .9 .7 .8 .8 .8 .7 .9 .4 .9 .2 1-.2 .6-.4 .7-.5 .7-.7 .7-.7 .7-.9 .7-1 .8-1 .7-1 .7-.9 .7-1 .7-.9 .7-.8 .6-.7 1.8-1.5 1.1-.4 .9-.3 .9-.2 1-.3 1-.7 .6-.6 .6-.8 .6-.9 .6-.9 .7-1 .6-1 .7-.9 .6-.9 .7-.7 .7-.5 .7-.3 .9 0 1 .3 1 .5 1 .8 1 .7 1 .9 .9 .7 .9 .6 .8 .3 1.3-.2 1-1 1-.7 1.5 .7 1 .9 .5 .7 .6 .7 .6 .7 .6 .9 .7 .8 .6 .9 .7 1 .7 .9 .7 1 .6 .9 .7 1 .6 .9 .6 .9 .6 .8 .5 .8 .5 .7 .7 1 .7 .8 .6 .6 1.1 1.2 1 1.2 .4 .9 .5 1 .5 1.3 .6 1.6 .2 .7 .2 .7 .2 .8 .2 .8 .3 .9 .2 .9 .2 .9 .2 1 .2 .9 .2 1.1 .2 1 .3 1.1 .2 1 .2 1.1 .2 1.1 .2 1.1 .2 1.1 .3 1.1 .2 1.2 .2 1.1 .2 1.1 .2 1.1 .3 1 .2 1.1 .2 1.1 .2 1 .2 1 .3 .9 .2 1 .2 .9 .3 1.1 .3 1.2 .2 1.1 .3 1.2 .3 1.2 .3 1.2 .3 1.2 .3 1.2 .3 1.2 .3 1.1 .3 1.2 .3 1.1 .2 1.1 .3 1 .3 1 .3 1 .3 .9 .3 .9 .3 .8 .2 .8 .3 .6 .3 .6 .5 1 .9 .9 .8 .2 .8-.4 .8-.9 .7-1.3 .8-1.5 .8-1.5 .3-.7 .3-.8 .4-.8 .3-1 .3-1 .3-1.1 .3-1.1 .3-1.1 .3-1.1 .3-1.2 .4-1.1 .3-1.1 .3-1.1 .4-1 .3-1 .4-.9 .4-.8 .6-1.2 .7-1.3 .7-1.3 .7-1.2 .7-1.1 .8-1.1 .7-.8 .8-.7 .7-.4 .8-.1 .7 .2 .8 .6 .9 .8 .8 1.1 .5 .7 .4 .7 .4 .9 .5 .9 .4 1 .4 1 .4 1.2 .4 1.3 .4 1.3 .4 1.5 .4 1.6 .4 1.6 .4 1.8 .1 .7 .2 .7 .1 .8 .1 .9 .2 .9 .1 .9 .1 1 .2 1 .1 1.1 .1 1 .2 1.1 .1 1.2 .1 1.2 .1 1.1 .2 1.2 .1 1.3 .1 1.2 .2 1.3 .1 1.2 .1 1.3 .1 1.3 .2 1.3 .1 1.3 .1 1.2 .1 1.3 .1 1.3 .2 1.3 .1 1.2 .1 1.3 .1 1.2 .1 1.2 .2 1.2 .1 1.1 .1 1.2 .1 1.1 .1 1.1 .1 1 .1 1 .2 1 .1 .9 .1 .9 .1 .8 .1 .8 .1 .8 .1 .7 .1 .6 .3 1.1 .2 .8 .4 .9 .7-.5 .3-1.2 .2-.8 .2-.9 .1-.9 .2-1.1 .2-1.2 .1-1.2 .2-1.3 .1-1.3 .2-1.4 .1-1.5 .2-1.4 .2-1.5 .1-1.5 .2-1.4 .2-1.5 .1-1.4 .2-1.4 .2-1.3 .1-1.3 .2-1.3 .2-1.1 .2-1.1 .2-1 .2-1 .2-1.1 .1-1.1 .2-1.1 .2-1.1 .2-1.2 .2-1.2 .2-1.1 .2-1.2 .2-1.2 .2-1.2 .3-1.2 .2-1.2 .2-1.2 .2-1.1 .2-1.2 .2-1.1 .2-1 .2-1.1 .2-.9 .2-1 .3-.9 .2-.9 .2-.7 .2-.8 .2-.7 .2-.6 .4-.9 .8-1.2 1-.6 1 .6 .5 .8 .6 1.2 .5 1.6 .6 2 .6 2.5 .7 2.8 .1 .6 .2 .7 .1 .7 .1 .8 .2 .8 .1 .9 .1 1 .2 1 .1 1 .1 1 .2 1.2 .1 1.1 .2 1.2 .1 1.2 .1 1.2 .2 1.3 .1 1.2 .2 1.3 .1 1.3 .2 1.4 .1 1.3 .2 1.4 .1 1.3 .1 1.4 .2 1.4 .1 1.3 .2 1.4 .2 1.3 .1 1.4 .2 1.3 .1 1.4 .2 1.3 .1 1.3 .2 1.2 .1 1.3 .2 1.2 .2 1.2 .1 1.2 .2 1.1 .2 1.1 .1 1 .2 1.1 .2 .9 .1 1 .2 .8 .2 .9 .1 .7 .2 .8 .2 .6 .3 1.2 .4 .8 .5 .8 .8-.1 .3-.7 .4-.9 .2-.6 .2-.7 .2-.7 .2-.9 .2-.8 .2-1 .2-1 .2-1.1 .2-1.1 .2-1.2 .2-1.2 .2-1.2 .2-1.3 .2-1.4 .2-1.3 .2-1.4 .2-1.4 .2-1.5 .3-1.4 .2-1.5 .2-1.5 .2-1.5 .2-1.5 .2-1.5 .2-1.5 .3-1.5 .2-1.5 .2-1.5 .2-1.5 .2-1.4 .2-1.5 .2-1.4 .3-1.3 .2-1.4 .2-1.3 .2-1.3 .2-1.2 .2-1.2 .2-1.1 .2-1.1 .2-1.1 .2-.9 .3-1 .2-.8 .2-.8 .2-.7 .2-.6 .4-1.1 .3-.6 .8-.3 .4 .6 .3 .8 .3 1 .3 1.2 .2 .7 .1 .7 .1 .8 .2 .8 .1 .9 .2 .9 .1 1 .2 1 .1 1.1 .2 1.1 .1 1.1 .1 1.1 .2 1.2 .1 1.2 .2 1.3 .1 1.3 .2 1.2 .1 1.4 .1 1.3 .2 1.4 .1 1.3 .1 1.4 .2 1.4 .1 1.4 .2 1.5 .1 1.4 .1 1.4 .2 1.5 .1 1.4 .1 1.5 .2 1.4 .1 1.5 .1 1.4 .2 1.4 .1 1.4 .1 1.5 .2 1.4 .1 1.3 .1 1.4 .2 1.4 .1 1.3 .1 1.3 .1 1.3 .2 1.3 .1 1.2 .1 1.2 .1 1.2 .2 1.2 .1 1.1 .1 1.1 .1 1 .1 1 .2 1 .1 .9 .1 .9 .1 .8 .1 .8 .1 .8 .1 .7 .1 .6 .3 1.1 .2 .8 .2 .7 .7 0 .2-.7 .2-1.1 .2-.7 .1-.7 .1-.8 .1-.9 .1-1 .1-1 .1-1.1 .1-1.1 .1-1.2 0-1.2 .1-1.3 .1-1.3 .1-1.4 .1-1.4 .1-1.4 .1-1.4 .1-1.5 0-1.5 .1-1.5 .1-1.5 .1-1.6 .1-1.5 0-1.5 .1-1.6 .1-1.5 .1-1.6 .1-1.5 0-1.5 .1-1.5 .1-1.4 .1-1.5 .1-1.4 0-1.4 .1-1.3 .1-1.3 .1-1.3 .1-1.2 0-1.2 .1-1.1 .1-1 .1-1 .1-.9 .1-.9 .1-.8 0-.7 .1-.6 .2-1.1 .2-.6 .7 .6 .2 .9 .1 1.3 .1 .7 .1 .7 .1 .9 .1 .9 .1 .9 .1 1 .1 1.1 .1 1.1 .1 1.1 .1 1.2 .1 1.3 .1 1.2 .1 1.3 .1 1.4 .1 1.3 .1 1.4 .1 1.5 .1 1.4 .1 1.5 .1 1.4 .1 1.5 .1 1.5 .1 1.5 .1 1.5 .1 1.6 .1 1.5 .1 1.5 .1 1.5 .1 1.5 .1 1.5 .1 1.5 .1 1.5 .1 1.4 .1 1.5 .1 1.4 .1 1.3 .1 1.4 .1 1.3 .1 1.3 .1 1.2 .1 1.3 .1 1.1 .1 1.2 .1 1 .1 1.1 .1 .9 .1 1 .1 .8 .1 .8 .1 .8 .1 .6 .1 .6 .3 1 .2 .7 .6 .1 .3-.9 .1-1 .2-1.1 .1-.7 .1-.7 .1-.8 .1-.8 .1-.9 .1-.9 .1-1 .1-1 .1-1.1 .1-1.1 .1-1.1 .1-1.2 .1-1.2 .1-1.2 .1-1.2 .1-1.3 .1-1.3 .1-1.4 .1-1.3 .1-1.4 .1-1.4 .1-1.4 .1-1.5 .1-1.4 .1-1.5 .1-1.4 .1-1.5 .1-1.5 .1-1.5 .1-1.5 .1-1.5 .1-1.4 .1-1.5 .1-1.5 .1-1.5 .1-1.4 .1-1.5 .1-1.4 .1-1.5 .1-1.4 .1-1.4 .1-1.3 .1-1.4 .1-1.3 .1-1.3 .1-1.3 .1-1.2 .1-1.3 .1-1.1 .1-1.2 .1-1.1 .1-1.1 .1-1 .1-1 .1-.9 .1-.9 .1-.9 .1-.8 .1-.8 .1-.7 .1-.6 .2-1.1 .1-.9 .2-.7 .7 0 .2 1 .2 .9 .2 1.2 0 .7 .1 .7 .1 .7 .1 .8 .1 .9 .1 .9 0 .9 .1 1 .1 1.1 .1 1 .1 1.1 .1 1.2 0 1.1 .1 1.2 .1 1.3 .1 1.2 .1 1.3 .1 1.3 0 1.3 .1 1.4 .1 1.4 .1 1.4 .1 1.4 0 1.4 .1 1.4 .1 1.5 .1 1.4 .1 1.5 .1 1.5 0 1.5 .1 1.5 .1 1.4 .1 1.5 .1 1.5 0 1.5 .1 1.5 .1 1.5 .1 1.4 .1 1.5 0 1.5 .1 1.4 .1 1.4 .1 1.4 .1 1.4 0 1.4 .1 1.4 .1 1.3 .1 1.3 0 1.3 .1 1.2 .1 1.3 .1 1.2 .1 1.1 0 1.2 .1 1.1 .1 1.1 .1 1 0 1 .1 .9 .1 .9 .1 .9 0 .8 .1 .8 .1 .7 .1 .7 0 .6 .2 1 .1 .9 .3 .8 .6-.7 .2-.8 .1-1 .2-1.2 .1-.6 .1-.8 0-.7 .1-.8 .1-.9 .1-.9 .1-.9 .1-1 0-1 .1-1 .1-1.1 .1-1.1 .1-1.1 .1-1.2 0-1.2 .1-1.2 .1-1.3 .1-1.2 .1-1.3 .1-1.3 0-1.3 .1-1.4 .1-1.3 .1-1.4 .1-1.4 0-1.4 .1-1.4 .1-1.4 .1-1.4 .1-1.4 0-1.4 .1-1.4 .1-1.4 .1-1.4 0-1.4 .1-1.5 .1-1.3 .1-1.4 0-1.4 .1-1.4 .1-1.3 0-1.4 .1-1.3 .1-1.3 0-1.3 .1-1.3 .1-1.2 0-1.2 .1-1.2 0-1.2 .1-1.1 0-1.1 .1-1.1 .1-1.1 0-1 .1-1 0-.9 .1-.9 0-.9 .1-.8 0-.7 0-.8 .1-.7 0-.6 .1-1.1 3.8 61 0-.8 .1-1 0-1.1 0-1.2 0-.7 .1-.6 0-.7 0-.7 0-.8 0-.7 .1-.8 0-.8 0-.8 0-.9 .1-.8 0-.9 0-.9 0-.9 .1-.9 0-1 0-.9 0-1 .1-1 0-1 0-1 0-1 .1-1 0-1 0-1.1 0-1 .1-1.1 0-1 0-1.1 .1-1.1 0-1.1 0-1 0-1.1 .1-1.1 0-1.1 0-1.1 .1-1.1 0-1 0-1.1 .1-1.1 0-1.1 0-1.1 .1-1 0-1.1 0-1.1 .1-1 0-1.1 0-1 0-1 .1-1 0-1 0-1 .1-1 0-1 0-1 .1-.9 0-.9 0-1 .1-.9 0-.9 0-.8 .1-.9 0-.8 0-.8 .1-.8 0-.8 0-.7 .1-.8 0-.7 0-.6 .1-.7 0-.6 0-.6 .1-1.2 .1-1 0-.9 .1-.8 0-.6 .1-.8 .4 .7 .1 .9 .1 1.1 0 .7 .1 .6 0 .8 .1 .7 0 .9 0 .8 .1 .9 0 .9 .1 1 0 1 .1 1 0 1.1 .1 1.1 0 1.1 0 1.1 .1 1.2 0 1.1 .1 1.2 0 1.2 .1 1.2 0 1.2 0 1.2 .1 1.2 0 1.3 .1 1.2 0 1.2 .1 1.2 0 1.3 0 1.2 .1 1.1 0 1.2 .1 1.2 0 1.1 .1 1.2 0 1.1 .1 1.1 0 1 0 1.1 .1 1 0 .9 .1 1 0 .9 .1 .8 0 .9 0 .8 .1 .7 0 .7 .1 .6 .1 1.1 .1 1 0 .6 .5-.6 .1-1.1 .1-.6 0-.7 .1-.8 0-.8 .1-.9 0-1 .1-1 0-1 .1-1.1 .1-1.1 0-1.2 .1-1.2 0-1.2 .1-1.2 0-1.3 .1-1.2 0-1.3 .1-1.3 0-1.3 .1-1.3 .1-1.3 0-1.3 .1-1.3 0-1.2 .1-1.3 0-1.2 .1-1.2 0-1.2 .1-1.1 0-1.1 .1-1.1 .1-1 0-1 .1-.9 0-.8 .1-.8 0-.8 .1-.7 0-.6 .1-.9 .1-.7 .3 .6 .1 .7 .1 .8 0 1 .1 1.2 0 .6 0 .7 .1 .7 0 .7 0 .7 0 .8 .1 .8 0 .9 0 .9 0 .8 .1 1 0 .9 0 1 .1 1 0 1 0 1 0 1 .1 1.1 0 1.1 0 1.1 0 1.1 .1 1.1 0 1.1 0 1.2 0 1.1 .1 1.2 0 1.1 0 1.2 0 1.2 .1 1.1 0 1.2 0 1.2 0 1.2 .1 1.2 0 1.1 0 1.2 0 1.2 .1 1.2 0 1.1 0 1.2 0 1.1 .1 1.2 0 1.1 0 1.1 0 1.1 .1 1.1 0 1.1 0 1 0 1.1 .1 1 0 1 0 1 0 .9 .1 1 0 .9 0 .9 0 .9 .1 .8 0 .8 0 .8 0 .7 .1 .8 0 .7 0 .6 0 .6 .1 1.2 0 1 .1 .8 0 .6 .1 .7 .3-.8 0-.7 .1-.8 0-1 0-1 .1-1.2 0-.7 0-.7 .1-.7 0-.7 0-.8 0-.8 0-.8 .1-.8 0-.9 0-.9 0-.9 .1-.9 0-.9 0-1 0-1 0-1 .1-1 0-1 0-1.1 0-1 .1-1.1 0-1.1 0-1.1 0-1.1 0-1.1 .1-1.1 0-1.2 0-1.1 0-1.2 .1-1.1 0-1.2 0-1.2 0-1.1 0-1.2 .1-1.2 0-1.1 0-1.2 0-1.2 .1-1.2 0-1.1 0-1.2 0-1.1 .1-1.2 0-1.1 0-1.2 0-1.1 0-1.1 .1-1.2 0-1.1 0-1.1 0-1 .1-1.1 0-1.1 0-1 0-1 0-1 .1-1 0-1 0-.9 0-1 .1-.9 0-.9 0-.9 0-.8 .1-.8 0-.8 0-.8 0-.8 .1-.7 0-.7 0-.6 0-.7 0-.6 .1-1.1 0-1 .1-.8 0-.7 .1-.8 .3 .7 .1 .7 .1 1 0 1.1 0 .6 .1 .6 0 .7 0 .7 .1 .8 0 .8 0 .8 .1 .8 0 .9 0 .9 .1 .9 0 1 0 1 .1 1 0 1 0 1 .1 1.1 0 1.1 0 1.1 .1 1.1 0 1.1 0 1.1 .1 1.2 0 1.1 0 1.2 0 1.2 .1 1.2 0 1.1 0 1.2 .1 1.2 0 1.2 0 1.2 .1 1.2 0 1.2 0 1.2 .1 1.1 0 1.2 0 1.2 .1 1.1 0 1.2 0 1.1 .1 1.1 0 1.1 0 1.1 .1 1.1 0 1 0 1 .1 1.1 0 .9 0 1 .1 1 0 .9 0 .9 .1 .8 0 .9 0 .8 .1 .7 0 .8 0 .7 .1 .6 0 .6 .1 1.2 0 1 .1 .8 .1 .6 .1 .6 .3-1 .1-1.1 .1-.6 0-.8 .1-.8 .1-.8 0-.9 .1-1 0-1.1 .1-1 0-1.1 .1-1.2 .1-1.2 0-1.2 .1-1.3 0-1.2 .1-1.3 0-1.3 .1-1.3 .1-1.3 0-1.3 .1-1.3 0-1.2 .1-1.3 0-1.2 .1-1.3 .1-1.1 0-1.2 .1-1.1 0-1.1 .1-1 0-1 .1-.9 0-.8 .1-.8 .1-.8 0-.6 .1-1.1 .1-.7 .4 .9 .1 1.1 0 .6 .1 .6 0 .8 .1 .8 0 .8 .1 .9 0 .9 0 1 .1 1 0 1.1 .1 1.1 0 1.1 .1 1.1 0 1.2 .1 1.2 0 1.2 0 1.2 .1 1.3 0 1.2 .1 1.3 0 1.2 0 1.3 .1 1.2 0 1.2 .1 1.3 0 1.2 .1 1.2 0 1.1 0 1.2 .1 1.1 0 1.1 .1 1 0 1.1 0 .9 .1 1 0 .9 .1 .8 0 .8 .1 .7 0 .7 0 .6 .1 1.1 .1 .7 .4-.7 0-.7 .1-.9 0-1.1 .1-1.1 0-.7 0-.7 .1-.7 0-.7 0-.8 .1-.8 0-.8 0-.8 0-.9 .1-.9 0-.9 0-1 0-.9 .1-1 0-1 0-1 0-1.1 .1-1 0-1.1 0-1.1 .1-1.1 0-1.1 0-1.1 0-1.1 .1-1.2 0-1.1 0-1.2 0-1.1 .1-1.2 0-1.1 0-1.2 .1-1.2 0-1.1 0-1.2 0-1.2 .1-1.1 0-1.2 0-1.1 0-1.2 .1-1.1 0-1.1 0-1.2 0-1.1 .1-1.1 0-1.1 0-1 .1-1.1 0-1 0-1 0-1.1 .1-.9 0-1 0-1 0-.9 .1-.9 0-.9 0-.8 .1-.9 0-.8 0-.7 0-.8 .1-.7 0-.7 0-.6 .1-.7 0-1.1 .1-1 0-.8 .1-.7 .1-.7 .3 .9 0 .7 .1 .9 0 1 .1 1.2 0 .7 .1 .7 0 .7 0 .8 .1 .8 0 .8 0 .8 .1 .9 0 .9 0 .9 .1 .9 0 1 0 1 0 1 .1 1 0 1.1 0 1 .1 1.1 0 1.1 0 1.1 .1 1.1 0 1.1 0 1.2 .1 1.1 0 1.2 0 1.1 .1 1.2 0 1.1 0 1.2 .1 1.2 0 1.1 0 1.2 .1 1.2 0 1.1 0 1.2 .1 1.2 0 1.1 0 1.2 0 1.1 .1 1.1 0 1.1 0 1.1 .1 1.1 0 1.1 0 1 .1 1.1 0 1 0 1 .1 1 0 .9 0 1 .1 .9 0 .9 0 .8 .1 .9 0 .8 0 .7 0 .8 .1 .7 0 .7 0 .6 .1 .6 0 1.1 .1 1 0 .8 .1 .6 .1 .7 .3-.7 .1-.9 .1-1.2 0-.7 .1-.8 0-.8 .1-.9 0-.9 .1-1 0-1 .1-1.1 0-1.1 .1-1.1 0-1.2 0-1.2 .1-1.2 0-1.2 .1-1.2 0-1.2 .1-1.3 0-1.2 .1-1.2 0-1.3 0-1.2 .1-1.2 0-1.2 .1-1.1 0-1.1 .1-1.1 0-1.1 .1-1 0-1 .1-.9 0-.9 .1-.8 0-.8 0-.7 .1-.6 .1-1 .1-.8 .1-.6 .5 1.1 .2 1.1 .2 1.3 .1 1.5 .2 1.6 .2 1.5 .1 1.5 .2 1.3 .2 1.1 .2 .8 .6-.9 .1-.7 .2-.8 .1-1 .1-1 .1-1.1 .1-1.2 .1-1.2 .1-1.2 .1-1.3 .1-1.3 .1-1.3 .1-1.2 .2-1.2 .1-1.2 .1-1.1 .1-1 .1-.9 .1-.8 .1-.7 .2-1 .5 .8 .1 .8 .1 1 .1 1.2 0 .7 0 .8 .1 .7 0 .9 .1 .8 0 .9 .1 .9 0 1 0 1 .1 1 0 1 .1 1.1 0 1 0 1.1 .1 1.1 0 1.2 .1 1.1 0 1.1 0 1.2 .1 1.1 0 1.2 .1 1.1 0 1.1 0 1.2 .1 1.1 0 1.1 0 1.1 .1 1.1 0 1.1 .1 1.1 0 1 0 1 .1 1 0 .9 .1 1 0 .8 0 .9 .1 .8 0 .8 0 .7 .1 .7 0 .7 .1 1.1 .1 .9 .1 .7 .4-.7 0-1 .1-1.2 .1-.7 0-.7 0-.8 .1-.8 0-.9 .1-.9 0-1 0-1 .1-1 0-1 .1-1.1 0-1.1 0-1.1 .1-1.1 0-1.2 .1-1.1 0-1.2 0-1.2 .1-1.2 0-1.1 .1-1.2 0-1.2 0-1.2 .1-1.2 0-1.1 .1-1.2 0-1.1 0-1.1 .1-1.1 0-1.1 .1-1 0-1 .1-1 0-.9 0-.9 .1-.9 0-.8 .1-.8 0-.7 0-.7 .1-.6 .1-1.1 .1-.8 .1-.7 .3 .8 .1 1 0 .6 .1 .7 0 .7 .1 .9 0 .9 .1 .9 0 1 .1 1 .1 1.1 0 1.1 .1 1.2 0 1.1 .1 1.2 0 1.3 .1 1.2 0 1.3 .1 1.2 0 1.3 .1 1.2 0 1.3 .1 1.2 0 1.3 .1 1.2 .1 1.2 0 1.1 .1 1.2 0 1 .1 1.1 0 1 .1 1 0 .9 .1 .8 0 .8 .1 .7 0 .6 .1 1.1 .1 .7 .4-.7 0-.8 .1-1.1 .1-1.2 0-.7 0-.7 .1-.8 0-.8 0-.8 .1-.9 0-.9 0-1 .1-.9 0-1 0-1.1 .1-1 0-1.1 0-1.1 .1-1.1 0-1.1 0-1.2 0-1.1 .1-1.2 0-1.1 0-1.2 .1-1.2 0-1.2 0-1.2 .1-1.2 0-1.2 0-1.1 .1-1.2 0-1.2 0-1.1 0-1.1 .1-1.2 0-1.1 0-1.1 .1-1 0-1.1 0-1 .1-1 0-1 0-.9 .1-.9 0-.9 0-.8 .1-.8 0-.7 0-.7 .1-.7 0-.6 .1-1.1 0-.9 .1-.7 .1-.6 .2 .7 0 .6 .1 .9 .1 1.1 0 .6 0 .6 .1 .7 0 .8 0 .7 .1 .8 0 .9 0 .9 .1 .9 0 .9 0 1 .1 1 0 1 .1 1.1 0 1 0 1.1 .1 1.2 0 1.1 0 1.1 .1 1.2 0 1.2 0 1.1 .1 1.2 0 1.2 0 1.2 .1 1.3 0 1.2 0 1.2 .1 1.2 0 1.2 .1 1.2 0 1.2 0 1.2 .1 1.2 0 1.2 0 1.1 .1 1.2 0 1.1 0 1.1 .1 1.1 0 1.1 0 1 .1 1 0 1 0 1 .1 .9 0 1 0 .8 .1 .9 0 .8 0 .7 0 .8 .1 .7 0 .6 0 .6 .1 1.1 .1 .8 0 .7 .1 .6 .1-.7 .1-.9 0-.9 .1-.9 0-1.1 0-.6 0-.7 0-.6 0-.7 .1-.8 0-.7 0-.8 0-.8 0-.8 0-.9 0-.9 0-.9 .1-.9 0-1 0-.9 0-1 0-1 0-1 0-1.1 0-1 0-1.1 0-1.1 .1-1.1 0-1.1 0-1.1 0-1.1 0-1.1 0-1.2 0-1.1 0-1.1 0-1.2 0-1.2 .1-1.1 0-1.2 0-1.1 0-1.2 0-1.2 0-1.1 0-1.2 0-1.1 0-1.2 0-1.1 .1-1.1 0-1.1 0-1.2 0-1.1 0-1.1 0-1 0-1.1 0-1.1 0-1 .1-1 0-1 0-1 0-1 0-.9 0-1 0-.9 0-.9 .1-.8 0-.9 0-.8 0-.8 0-.7 0-.8 .1-.7 0-.6 0-.7 0-.6 0-1.1 .1-1 0-.8 .1-.7 0-.7 .4 .6 0 .8 .1 1 .1 1.3 .1 .7 0 .7 .1 .8 0 .8 0 .9 .1 .9 0 .9 .1 1 0 1 .1 1 0 1.1 .1 1.1 0 1.1 .1 1.1 .1 1.2 0 1.1 .1 1.2 0 1.2 .1 1.2 0 1.3 .1 1.2 0 1.2 .1 1.3 0 1.2 .1 1.3 0 1.2 .1 1.3 .1 1.2 0 1.3 .1 1.2 0 1.2 .1 1.2 0 1.2 .1 1.2 0 1.1 .1 1.1 0 1.1 .1 1.1 .1 1.1 0 1 .1 1 0 1 .1 .9 0 .9 .1 .9 0 .8 .1 .8 0 .7 .1 .7 0 .7 .1 1.1 .1 .9 .1 .7 .2 .7 .2-.6 0-.7 .1-.8 .1-1 0-1.2 .1-.6 0-.7 0-.8 0-.7 .1-.8 0-.9 0-.8 .1-.9 0-1 0-.9 .1-1 0-1 0-1.1 0-1 .1-1.1 0-1.1 0-1.1 .1-1.1 0-1.2 0-1.1 0-1.2 .1-1.2 0-1.2 0-1.2 .1-1.2 0-1.2 0-1.2 0-1.2 .1-1.2 0-1.2 0-1.2 0-1.2 .1-1.2 0-1.2 0-1.2 0-1.2 .1-1.1 0-1.2 0-1.1 .1-1.1 0-1.1 0-1.1 0-1.1 .1-1 0-1 0-1 0-1 .1-.9 0-.9 0-.9 0-.9 .1-.8 0-.8 0-.7 .1-.7 0-.7 0-.6 .1-1.1 0-.9 .1-.8 .1-.7 .2 .8 .1 .7 0 .9 .1 1.1 0 .6 .1 .7 0 .6 0 .8 0 .7 .1 .8 0 .8 0 .9 0 .9 .1 .9 0 1 0 1 .1 1 0 1 0 1 0 1.1 .1 1.1 0 1.1 0 1.2 .1 1.1 0 1.2 0 1.2 0 1.2 .1 1.2 0 1.3 0 1.2 .1 1.2 0 1.3 0 1.3 .1 1.2 0 1.3 0 1.3 0 1.3 .1 1.3 0 1.2 0 1.3 .1 1.3 0 1.3 0 1.2 0 1.3 .1 1.2 0 1.3 0 1.2 .1 1.2 0 1.3 0 1.2 0 1.1 .1 1.2 0 1.1 0 1.2 .1 1.1 0 1.1 0 1 0 1.1 .1 1 0 1 0 1 .1 .9 0 .9 0 .9 0 .8 .1 .8 0 .8 0 .7 .1 .8 0 .6 0 .6 .1 1.2 0 .9 .1 .8 .1 .8 .2-.7 .1-.7 0-.9 0-.7 .1-.8 0-.9 0-.9 0-1.1 .1-1.1 0-1.1 0-.6 0-.7 0-.6 0-.7 .1-.6 0-.7 0-.7 0-.8 0-.7 0-.8 0-.7 .1-.8 0-.8 0-.8 0-.8 0-.9 0-.8 0-.9 0-.9 .1-.9 0-.9 0-.9 0-.9 0-.9 0-1 0-.9 0-1 .1-1 0-.9 0-1 0-1 0-1 0-1.1 0-1 .1-1 0-1.1 0-1 0-1.1 0-1 0-1.1 0-1.1 0-1.1 .1-1.1 0-1.1 0-1.1 0-1.1 0-1.1 0-1.1 0-1.1 0-1.1 .1-1.2 0-1.1 0-1.1 0-1.2 0-1.1 0-1.1 0-1.2 0-1.1 .1-1.2 0-1.1 0-1.2 0-1.1 0-1.2 0-1.1 0-1.1 0-1.2 .1-1.1 0-1.2 0-1.1 0-1.2 0-1.1 0-1.2 0-1.1 0-1.1 .1-1.2 0-1.1 0-1.1 0-1.1 0-1.1 0-1.1 0-1.2 0-1.1 .1-1.1 0-1 0-1.1 0-1.1 0-1.1 0-1 0-1.1 0-1.1 .1-1 0-1 0-1.1 0-1 0-1 0-1 0-1 0-1 .1-1 0-.9 0-1 0-.9 0-1 0-.9 0-.9 .1-.9 0-.9 0-.9 0-.8 0-.9 0-.8 0-.9 0-.8 .1-.8 0-.8 0-.7 0-.8 0-.7 0-.8 0-.7 .1-.7 0-.7 0-.6 0-.7 0-.6 0-.6 0-1.2 .1-1.1 0-1 0-1 .1-.9 0-.8 0-.7 0-.6 .1-.8 0-.7 .3 .8 0 .9 .1 .7 0 .7 0 .9 .1 1 0 1.1 0 1.1 .1 .6 0 .6 0 .7 0 .6 0 .7 0 .7 .1 .7 0 .8 0 .7 0 .8 0 .8 .1 .8 0 .8 0 .8 0 .8 0 .9 0 .9 .1 .9 0 .9 0 .9 0 .9 0 .9 .1 1 0 1 0 .9 0 1 0 1 0 1 .1 1.1 0 1 0 1 0 1.1 0 1 .1 1.1 0 1.1 0 1 0 1.1 0 1.1 .1 1.1 0 1.1 0 1.1 0 1.2 0 1.1 0 1.1 .1 1.2 0 1.1 0 1.1 0 1.2 0 1.1 .1 1.2 0 1.1 0 1.2 0 1.1 0 1.2 0 1.2 .1 1.1 0 1.2 0 1.2 0 1.1 0 1.2 .1 1.1 0 1.2 0 1.1 0 1.2 0 1.2 .1 1.1 0 1.2 0 1.1 0 1.1 0 1.2 0 1.1 .1 1.1 0 1.1 0 1.2 0 1.1 0 1.1 .1 1.1 0 1.1 0 1 0 1.1 0 1.1 .1 1 0 1.1 0 1 0 1 0 1.1 0 1 .1 1 0 1 0 .9 0 1 0 1 .1 .9 0 .9 0 .9 0 1 0 .8 0 .9 .1 .9 0 .8 0 .9 0 .8 0 .8 .1 .8 0 .7 0 .8 0 .7 0 .7 0 .7 .1 .7 0 .7 0 .6 0 .6 0 .6 .1 1.2 0 1.1 0 .9 .1 .9 0 .8 0 .7 .1 .6 0 1.1 .1 .6 .3-.8 .1-1 0-.6 .1-.7 0-.7 .1-.8 0-.9 0-.9 .1-.9 0-1 0-1.1 .1-1 0-1.1 0-1.2 .1-1.2 0-1.2 .1-1.2 0-1.3 0-1.3 .1-1.3 0-1.3 0-1.3 .1-1.4 0-1.3 0-1.4 .1-1.3 0-1.3 .1-1.4 0-1.3 0-1.3 .1-1.3 0-1.3 0-1.3 .1-1.2 0-1.2 0-1.2 .1-1.2 0-1.1 .1-1.1 0-1 0-1 .1-1 0-.9 0-.9 .1-.8 0-.7 .1-.7 0-.6 .1-1 0-.8 .5 1 .1 1 0 .6 .1 .7 0 .7 .1 .7 0 .9 .1 .8 0 .9 .1 .9 0 1 .1 1 0 1 .1 1.1 0 1.1 .1 1.1 0 1.1 .1 1.1 0 1.2 .1 1.2 0 1.2 0 1.1 .1 1.2 0 1.2 .1 1.2 0 1.2 .1 1.2 0 1.1 .1 1.2 0 1.1 .1 1.1 0 1.1 .1 1.1 0 1.1 .1 1 0 1 .1 .9 0 1 .1 .8 0 .9 .1 .8 0 .7 .1 .7 0 .6 .1 1.1 .1 .9 .2 .8 .3-.7 .2-1.3 .1-.8 0-.9 .1-.9 .1-1.1 .1-1.1 0-1.2 .1-1.2 .1-1.3 .1-1.3 0-1.3 .1-1.3 .1-1.3 .1-1.3 0-1.3 .1-1.3 .1-1.2 0-1.2 .1-1.1 .1-1.1 .1-1 0-.9 .1-.8 .1-.7 .2-1 .5 .9 .1 1 .1 1.2 0 .7 .1 .7 0 .8 .1 .9 0 .9 .1 .9 0 1 .1 1 0 1 .1 1.1 0 1.1 .1 1.1 0 1.1 .1 1.2 0 1.1 .1 1.2 0 1.2 .1 1.2 0 1.2 .1 1.2 0 1.2 .1 1.1 0 1.2 .1 1.2 .1 1.1 0 1.2 .1 1.1 0 1.1 .1 1 0 1.1 .1 1 0 1 .1 .9 0 .9 .1 .8 0 .9 .1 .7 0 .7 .1 .7 .1 1.1 .1 .9 0 .6 .4-.8 .1-.8 .1-1.1 0-1.2 .1-.7 0-.7 0-.7 .1-.8 0-.8 0-.9 .1-.9 0-.9 0-1 .1-1 0-1 0-1 .1-1 0-1.1 0-1.1 .1-1.1 0-1.1 0-1.1 .1-1.2 0-1.1 0-1.2 .1-1.1 0-1.2 0-1.2 .1-1.1 0-1.2 0-1.2 .1-1.1 0-1.2 0-1.1 .1-1.1 0-1.1 0-1.1 .1-1.1 0-1.1 0-1 .1-1 0-1 0-1 .1-1 0-.9 0-.9 .1-.8 0-.8 0-.8 .1-.8 0-.7 0-.6 .1-.7 0-1.1 .1-.9 .1-.7 .1-.6 .3 .9 .1 1 .1 .7 0 .7 .1 .8 0 .8 .1 .9 .1 1 0 1 .1 1.1 0 1.1 .1 1.1 0 1.2 .1 1.2 .1 1.2 0 1.3 .1 1.2 0 1.3 .1 1.2 0 1.3 .1 1.3 .1 1.2 0 1.2 .1 1.3 0 1.2 .1 1.1 0 1.2 .1 1 .1 1.1 0 1 .1 .9 0 .9 .1 .9 0 .7 .1 .7 .1 .7 .1 1 .1 .6 .3-.6 .1-.8 .1-1 .1-.6 0-.7 0-.7 .1-.7 0-.8 .1-.9 0-.8 .1-.9 0-1 .1-1 0-1 0-1 .1-1 0-1.1 .1-1.1 0-1.1 .1-1.2 0-1.1 .1-1.1 0-1.2 .1-1.2 0-1.1 0-1.2 .1-1.1 0-1.2 .1-1.1 0-1.2 .1-1.1 0-1.1 0-1.1 .1-1 0-1.1 .1-1 0-1 .1-1 0-.9 .1-.9 0-.9 0-.8 .1-.8 0-.7 .1-.7 0-.6 .1-1.1 .1-.9 .1-.7 .4 .7 .1 1.2 .1 .7 0 .8 .1 .9 0 .9 .1 1 0 1 .1 1.1 .1 1.1 0 1.1 .1 1.2 0 1.2 .1 1.2 0 1.2 .1 1.3 0 1.2 .1 1.2 0 1.2 .1 1.2 .1 1.2 0 1.1 .1 1.1 0 1.1 .1 1 0 .9 .1 .9 .1 .9 0 .7 .1 .7 0 .6 .2 1 .2 .6 .3-.9 .1-1.3 .1-.7 .1-.9 0-.9 .1-1.1 .1-1 .1-1.2 .1-1.2 .1-1.2 0-1.3 .1-1.3 .1-1.3 .1-1.3 .1-1.3 .1-1.3 0-1.3 .1-1.2 .1-1.2 .1-1.2 .1-1.1 .1-1 0-1 .1-.9 .1-.8 .1-.7 .1-1 .3-.7 .2 .8 .1 .8 .1 .9 .1 1.2 0 .7 0 .7 .1 .7 0 .8 .1 .8 0 .9 0 .9 .1 1 0 .9 .1 1.1 0 1 0 1 .1 1.1 0 1.1 .1 1.2 0 1.1 0 1.1 .1 1.2 0 1.2 0 1.2 .1 1.2 0 1.2 .1 1.2 0 1.2 0 1.2 .1 1.2 0 1.1 0 1.2 .1 1.2 0 1.1 .1 1.2 0 1.1 0 1.1 .1 1.1 0 1.1 .1 1 0 1 0 1 .1 .9 0 .9 0 .9 .1 .8 0 .8 .1 .8 0 .7 0 .7 .1 .6 .1 1.1 0 .8 .1 .6 .4-.6 0-.8 .1-.9 .1-1.1 0-.6 0-.7 .1-.7 0-.7 0-.7 .1-.8 0-.9 0-.8 0-.9 .1-.9 0-.9 0-1 .1-1 0-1 0-1 .1-1.1 0-1 0-1.1 .1-1.1 0-1.1 0-1.2 .1-1.1 0-1.2 0-1.1 .1-1.2 0-1.1 0-1.2 .1-1.2 0-1.2 0-1.2 .1-1.1 0-1.2 0-1.2 .1-1.2 0-1.1 0-1.2 .1-1.2 0-1.1 0-1.1 .1-1.1 0-1.1 0-1.1 .1-1.1 0-1.1 0-1 .1-1 0-1 0-1 .1-.9 0-.9 0-.9 .1-.9 0-.8 0-.8 .1-.8 0-.7 0-.7 .1-.7 0-.6 .1-1.2 0-.9 .1-.8 .1-.8 .3 .7 .1 .9 .1 1 .1 1.2 0 .7 0 .7 .1 .7 0 .8 0 .8 .1 .9 0 .9 .1 .9 0 .9 0 1 .1 1 0 1 0 1.1 .1 1 0 1.1 0 1.1 .1 1.2 0 1.1 .1 1.1 0 1.2 0 1.2 .1 1.1 0 1.2 0 1.2 .1 1.2 0 1.2 0 1.2 .1 1.1 0 1.2 .1 1.2 0 1.2 0 1.1 .1 1.2 0 1.1 0 1.1 .1 1.1 0 1.1 .1 1.1 0 1 0 1 .1 1 0 1 0 1 .1 .9 0 .9 0 .8 .1 .8 0 .8 0 .8 .1 .7 0 .6 .1 .7 0 1.1 .1 .9 .1 .7 .1 .7 .4-1 .1-1.1 0-.7 .1-.7 0-.8 .1-.8 0-.9 .1-1 0-.9 .1-1.1 0-1.1 .1-1.1 0-1.1 .1-1.2 .1-1.2 0-1.2 .1-1.2 0-1.2 .1-1.2 0-1.3 .1-1.2 0-1.2 .1-1.2 0-1.2 .1-1.2 0-1.1 .1-1.1 0-1.1 .1-1 0-1 .1-1 0-.9 .1-.8 0-.8 .1-.7 0-.7 .1-1.1 .2-.7 .4 .7 .1 .6 .1 .8 0 .8 .1 1 .1 1 0 1.1 .1 1.2 .1 1.2 0 1.2 .1 1.3 .1 1.3 .1 1.3 0 1.3 .1 1.3 .1 1.3 0 1.3 .1 1.2 .1 1.2 0 1.2 .1 1 .1 1 0 .9 .1 .8 .1 .7 .1 1.1 .5-.8 .1-1 .1-1.2 0-.7 0-.8 .1-.8 0-.8 .1-.9 0-.9 .1-1 0-1 .1-1 0-1.1 0-1.1 .1-1.1 0-1.1 .1-1.1 0-1.2 .1-1.2 0-1.1 0-1.2 .1-1.2 0-1.2 .1-1.1 0-1.2 .1-1.1 0-1.2 .1-1.1 0-1.1 0-1.1 .1-1.1 0-1 .1-1 0-1 .1-.9 0-.9 .1-.9 0-.8 0-.7 .1-.7 0-.7 .1-1.1 .1-.9 .1-.6 .4 .7 .1 .9 .1 1.3 .1 .7 0 .7 .1 .9 0 .8 .1 .9 0 1 .1 1 0 1 .1 1.1 0 1.1 .1 1.1 0 1.2 .1 1.2 0 1.1 .1 1.3 0 1.2 .1 1.2 .1 1.2 0 1.2 .1 1.3 0 1.2 .1 1.2 0 1.2 .1 1.2 0 1.1 .1 1.2 0 1.1 .1 1.1 0 1 .1 1 0 1 .1 1 .1 .8 0 .9 .1 .8 0 .7 .1 .7 0 .6 .1 1 .1 .8 .5-1 .1-1 .1-1.3 .1-.6 0-.8 .1-.7 0-.9 .1-.8 0-.9 .1-.9 0-1 .1-1 0-1 .1-1.1 0-1.1 .1-1.1 0-1.1 .1-1.1 0-1.2 .1-1.1 0-1.2 .1-1.2 0-1.1 .1-1.2 0-1.2 .1-1.2 0-1.2 0-1.1 .1-1.2 0-1.1 .1-1.2 0-1.1 .1-1.1 0-1.1 .1-1 0-1.1 .1-1 0-.9 .1-1 0-.9 .1-.9 0-.8 .1-.8 0-.7 .1-.7 0-.6 .1-1.2 .1-.9 .1-.6 .4 .7 .1 1 .1 .6 0 .7 .1 .8 0 .8 .1 .8 0 .9 .1 1 0 1 .1 1 0 1.1 .1 1.1 0 1.1 .1 1.2 0 1.1 .1 1.2 0 1.2 .1 1.3 0 1.2 .1 1.2 0 1.2 .1 1.3 0 1.2 0 1.2 .1 1.2 0 1.1 .1 1.2 0 1.1 .1 1.1 0 1.1 .1 1 0 1 .1 .9 0 .9 .1 .8 0 .8 .1 .8 0 .6 .1 .6 0 1 .1 .7 .4-.7 .1-1 .1-.7 0-.7 0-.7 .1-.8 0-.9 .1-.9 0-1 .1-1 0-1.1 .1-1.1 0-1.1 0-1.2 .1-1.2 0-1.2 .1-1.2 0-1.3 .1-1.2 0-1.3 .1-1.2 0-1.3 .1-1.2 0-1.3 0-1.2 .1-1.2 0-1.2 .1-1.2 0-1.1 .1-1.1 0-1.1 .1-1 0-1 .1-.9 0-.9 0-.8 .1-.7 0-.7 .1-.7 .1-1 .1-.7 .3 .8 .1 .8 .1 1 0 1.1 0 .7 .1 .7 0 .7 0 .7 .1 .8 0 .8 0 .9 .1 .9 0 .9 0 1 .1 .9 0 1 0 1.1 .1 1 0 1.1 0 1 .1 1.1 0 1.2 0 1.1 .1 1.1 0 1.2 0 1.2 .1 1.1 0 1.2 0 1.2 .1 1.2 0 1.2 0 1.2 .1 1.2 0 1.2 0 1.2 .1 1.2 0 1.2 0 1.2 0 1.2 .1 1.1 0 1.2 0 1.1 .1 1.2 0 1.1 0 1.1 .1 1.1 0 1 0 1 .1 1.1 0 1 0 .9 .1 1 0 .9 0 .8 .1 .9 0 .8 0 .8 .1 .7 0 .7 0 .7 .1 .6 0 1.2 .1 .9 .1 .8 .1 .8 .2-.7 .1-.9 .1-.8 0-.8 .1-1 0-1.1 .1-1.2 0-.6 0-.7 .1-.7 0-.7 0-.7 .1-.7 0-.8 0-.8 0-.8 .1-.8 0-.8 0-.9 .1-.9 0-.8 0-.9 0-1 .1-.9 0-.9 0-1 .1-1 0-1 0-.9 0-1 .1-1.1 0-1 0-1 .1-1.1 0-1 0-1.1 0-1 .1-1.1 0-1 0-1.1 .1-1.1 0-1.1 0-1.1 0-1 .1-1.1 0-1.1 0-1.1 0-1.1 .1-1.1 0-1.1 0-1 0-1.1 .1-1.1 0-1.1 0-1 0-1.1 .1-1 0-1.1 0-1 0-1 .1-1.1 0-1 0-1 0-1 .1-.9 0-1 0-1 0-.9 0-.9 .1-.9 0-.9 0-.9 0-.9 0-.8 .1-.9 0-.8 0-.8 0-.8 0-.7 .1-.8 0-.7 0-.7 0-.6 0-.7 0-.6 .1-.6 0-1.1 0-1.1 0-.9 .1 12.3 0-.9 .1-1.3 0-.7 .1-.8 0-.9 0-.8 .1-1 0-.9 .1-1 0-1 .1-1.1 0-1 .1-1.1 0-1 .1-1.1 .1-1.1 0-1 .1-1 0-1 .1-1 0-.9 .1-.9 .1-.8 0-.8 .1-.7 0-.7 .2-1.1 .1-.8 .6 1.2 .1 1.1 .1 1.3 .2 1.5 .1 1.4 .2 1.4 .1 1.4 .1 1.1 .2 1 .1 .7 .5-1 0-.6 .1-.7 .1-.9 0-.8 .1-1 .1-1 0-1.1 .1-1.1 0-1.2 .1-1.1 .1-1.2 0-1.1 .1-1.2 .1-1.1 0-1.1 .1-1 0-1 .1-.9 .1-.8 0-.8 .1-.6 .1-1 .5 .7 0 .6 .1 .8 .1 .9 .1 1 .1 1 .1 1.1 0 1.2 .1 1.1 .1 1.2 .1 1.2 .1 1.1 .1 1.2 0 1 .1 1 .1 .9 .1 .9 .1 .7 .1 .9 1-1.7 .4-1.8 .6 .8 .1 1.2 .1 .7 .1 .9 .1 .9 .1 1 0 1.1 .1 1.1 .1 1.1 .1 1.2 .1 1.1 0 1.2 .1 1.1 .1 1.1 .1 1.1 .1 1 0 1 .1 .9 .1 .8 .1 .7 .1 1.1 .6-.9 0-.8 .1-.8 .1-.9 0-1.1 .1-1 .1-1.2 .1-1.2 0-1.3 .1-1.2 .1-1.3 0-1.3 .1-1.3 .1-1.2 .1-1.2 0-1.2 .1-1.1 .1-1 0-.9 .1-.8 .1-.7 .1-1 .4 .8 .1 .8 .1 .9 0 1.2 .1 .6 0 .6 0 .7 .1 .7 0 .8 0 .8 .1 .8 0 .8 0 .9 .1 .9 0 .9 0 .9 .1 1 0 .9 0 1 .1 1 0 1 .1 1 0 1 0 1 .1 1.1 0 1 0 1 .1 1.1 0 1 0 1 .1 1.1 0 1 0 1 .1 1 0 1 0 1 .1 1 0 .9 0 .9 .1 1 0 .8 0 .9 .1 .9 0 .8 0 .8 .1 .7 0 .8 .1 .7 0 .6 0 .7 .1 1.1 .2 2.4 .1 1.6 .2 1.4 .1 1.1 .2 .9 .1 .7 .3 1.1 .3 .8 .3 .7 .3 .9 .3 1.7 .3 1.8 .4 1.3 .6-1 .2-.9 .1-1.2 0-.7 .1-.8 .1-.9 0-.9 .1-.9 0-1 .1-1 .1-1.1 0-1.1 .1-1 .1-1.1 0-1.1 .1-1.1 0-1.1 .1-1.1 .1-1 0-1.1 .1-.9 .1-1 0-.9 .1-.8 0-.8 .1-.7 .1-.6 .1-1 .1-.6 .3 .8 .1 .7 .1 .8 0 .9 .1 1 .1 1.1 0 1.1 .1 1.2 .1 1.3 0 1.2 .1 1.2 .1 1.3 0 1.1 .1 1.1 0 1.1 .1 .9 .1 .8 0 .7 .2 1 .3-.8 .1-.9 .1-1.1 .1-1.3 0-1.3 .1-1.4 .1-1.4 .1-1.4 .1-1.2 .1-1.2 .1-.9 0-.7 .5 .7 .1 1.1 0 .7 .1 .7 0 .8 0 .8 .1 .9 0 1 .1 1 0 1 .1 1 0 1.1 .1 1.1 0 1 .1 1.2 0 1.1 .1 1.1 0 1 .1 1.1 .1 1.1 0 1 .1 1 0 1 .1 .9 0 .9 .1 .8 0 .8 .1 .7 0 .6 .1 1.1 .1 .7 .5-1.1 .1-.8 .1-1 .1-1.1 .1-1.2 .1-1.2 .1-1.2 .1-1.3 .1-1.2 .1-1.3 .1-1.1 .1-1 .1-1 .1-.8 .1-.6 .6 .1 .5 2.9 .6 2 .5-2.3 0-.9 .1-1 .1-1.2 0-.6 0-.7 .1-.7 0-.8 0-.8 .1-.8 0-.8 0-.9 .1-.9 0-.9 0-.9 .1-1 0-.9 0-1 .1-1 0-1 0-1 .1-1.1 0-1 0-1 .1-1.1 0-1 0-1.1 .1-1 0-1.1 0-1 .1-1 0-1.1 0-1 .1-1 0-1 0-.9 .1-1 0-.9 0-1 .1-.9 0-.8 0-.9 .1-.8 0-.8 0-.8 .1-.7 0-.7 0-.6 .1-.7 0-1.1 .1-1 .1-.7 .1-1.1 .5 1.2 .1 .8 .1 .9 0 1.1 .1 1.1 .1 1.3 .1 1.2 .1 1.3 .1 1.4 .1 1.3 .1 1.3 .1 1.2 .1 1.1 0 1.1 .1 .9 .1 .8 .1 .6 .5 1.3 .5-.9 .4-1.5 .5-1.4 .8 .2 .8-1.2 .4-3.1 0-1 .1-1.2 0-.7 .1-.7 0-.7 0-.8 .1-.8 0-.9 0-.9 .1-.9 0-.9 0-1 0-1 .1-1 0-1 0-1 .1-1 0-1.1 0-1 0-1.1 .1-1 0-1.1 0-1.1 .1-1 0-1 0-1.1 0-1 .1-1 0-1 0-.9 .1-.9 0-.9 0-.9 .1-.9 0-.8 0-.8 0-.7 .1-.7 0-.7 0-.6 .1-1.1 .1-.9 0-.6 .5 1.2 .1 .8 .1 .9 .1 1.1 .1 1.1 .1 1.2 0 1.2 .1 1.3 .1 1.2 .1 1.3 .1 1.3 .1 1.2 0 1.1 .1 1.1 .1 1 .1 .8 .1 .7 .1 1 .4-1 .1-1 .1-1.3 .1-1.4 .1-1.5 .1-1.5 .1-1.5 .1-1.4 0-1.2 .1-1 .1-.7 .3 .6 .1 .8 .1 1 0 1.1 0 .7 .1 .7 0 .8 0 .8 0 .8 .1 .8 0 .9 0 .9 .1 1 0 .9 0 1 0 1 .1 1 0 1.1 0 1 .1 1.1 0 1 0 1.1 0 1 .1 1.1 0 1.1 0 1 0 1.1 .1 1 0 1 0 1 .1 1 0 .9 0 1 .1 .9 0 .9 0 .8 0 .8 .1 .8 0 .7 0 .7 .1 .7 0 .6 .1 1.1 0 .8 .3 1.3 .3-1 .2-1.5 .2-1.7 .2-1.9 .2-1.8 .2-1.4 .2-.9 .4 .6 .1 .8 .1 1 .1 1.1 0 .7 .1 .7 0 .7 .1 .8 0 .8 .1 .9 0 .8 0 .9 .1 1 0 .9 .1 1 0 1 .1 1 0 1 .1 1.1 0 1 .1 1.1 0 1 0 1.1 .1 1 0 1.1 .1 1 0 1 .1 1 0 1.1 .1 .9 0 1 0 1 .1 .9 0 .9 .1 .8 0 .9 0 .8 .1 .7 0 .8 .1 .6 0 .7 .1 1.1 .1 .9 0 .7 .2 .7 .2-.7 .2-1.1 .1-1.5 .1-1.6 .1-1.8 .1-1.7 .1-1.5 .2-1.3 .1-.8 .3 1 .1 1 .1 .7 0 .7 .1 .7 0 .8 .1 .9 0 .9 .1 .9 0 1 .1 1.1 0 1 .1 1.1 0 1.1 0 1.1 .1 1.1 0 1.2 .1 1.1 0 1.1 .1 1.2 0 1.1 .1 1.1 0 1 .1 1.1 0 1 .1 1 0 1 .1 .9 0 .8 .1 .8 0 .8 .1 .7 0 .6 .1 1 .1 .7 .4-.8 .1-1.3 .1-.8 0-.8 .1-1 0-1 .1-1 0-1.1 .1-1.2 0-1.1 .1-1.2 0-1.2 .1-1.2 0-1.2 .1-1.2 0-1.2 .1-1.1 0-1.1 .1-1 0-1 .1-.9 0-.9 .1-.7 0-.7 .1-1 .2-.6 .2 .6 0 .7 .1 .9 .1 1 0 1.2 .1 1.2 .1 1.3 0 1.4 .1 1.4 .1 1.3 .1 1.3 0 1.2 .1 1.2 .1 .9 0 .9 .1 .6 .4-1 0-1.1 .1-.7 0-.7 0-.8 .1-.8 0-.9 0-.9 .1-.9 0-1 0-1 .1-1 0-1.1 .1-1 0-1.1 0-1.1 .1-1 0-1.1 0-1.1 .1-1 0-1 .1-1 0-1 0-1 .1-.9 0-.9 .1-.8 0-.8 0-.7 .1-.6 0-.6 .1-1 .5-1.4 .4 1.4 .4 2.3 .5 1.6 .5-.8 .1-1 .1-.7 .1-.7 .1-.8 0-.9 .1-.9 .1-.9 .1-1 0-1 .1-1 .1-1.1 .1-1.1 0-1 .1-1.1 .1-1 .1-1.1 0-1 .1-.9 .1-1 .1-.9 0-.8 .1-.8 .1-.7 .1-.6 .1-1 .4-.7 .2 1.2 .3 2.1 .3 2.2 .3 1.6 .5-1.4 .1-.8 0-.9 .1-1 .1-1.1 0-.6 0-.7 .1-.6 0-.7 0-.7 .1-.7 0-.8 0-.8 0-.7 .1-.8 0-.9 0-.8 .1-.8 0-.9 0-.9 .1-.9 0-.9 0-.9 .1-.9 0-.9 0-1 .1-.9 0-1 0-.9 0-1 .1-.9 0-1 0-.9 .1-1 0-1 0-.9 .1-1 0-.9 0-1 0-.9 .1-.9 0-.9 0-1 .1-.9 0-.9 0-.8 .1-.9 0-.9 0-.8 0-.8 .1-.8 0-.8 0-.8 .1-.8 0-.7 0-.9 .1-1 0-.9 0-1 .1-1 0-1.1 0-1 .1-1.1 0-1 0-1.1 .1-1.1 0-1 0-1.1 .1-1.1 0-1.1 0-1.1 .1-1.1 0-1 0-1.1 .1-1 0-1 0-1.1 .1-1 0-.9 0-1 .1-.9 0-.9 0-.9 0-.8 .1-.9 0-.7 0-.8 .1-.7 0-.7 0-.6 .1-1.1 .1-.9 0-.7 .1-.7 .3 .7 0 .8 .1 .9 0 1.2 .1 .6 0 .7 0 .8 .1 .7 0 .8 0 .9 .1 .8 0 .9 0 1 0 .9 .1 1 0 1 0 1 .1 1 0 1.1 0 1.1 .1 1 0 1.1 0 1.1 .1 1.1 0 1.1 0 1 .1 1.1 0 1.1 0 1.1 .1 1 0 1.1 0 1 .1 1.1 0 1 0 .9 .1 1 0 .9 .1 1 0 .8 0 .8 .1 .8 0 .8 0 .9 .1 .8 0 .9 .1 .9 0 .9 0 1 .1 .9 0 .9 0 1 .1 1 0 .9 .1 1 0 1 0 1 .1 1 0 1 .1 .9 0 1 .1 1 0 1 0 1 .1 .9 0 1 .1 1 0 .9 0 .9 .1 .9 0 .9 .1 .9 0 .9 .1 .8 0 .9 0 .8 .1 .8 0 .7 .1 .8 0 .7 .1 .7 0 .6 0 .7 .1 1.1 .1 1.1 .1 .9 .1 .7 .1 1 .4-1.1 .2-1.1 .1-1.4 .2-1.5 .1-1.6 .1-1.6 .2-1.5 .1-1.4 .1-1.1 .1-.7 .4 1 .1 1.3 .1 .8 0 .8 .1 .9 0 1 0 1 .1 1.1 0 1.1 .1 1.1 0 1.1 .1 1.2 0 1.1 0 1.2 .1 1.1 0 1.2 .1 1.1 0 1 .1 1.1 0 .9 0 .9 .1 .9 0 .7 .1 .7 .1 1.1 .1 .7 .3-.9 .1-1.1 0-.6 .1-.8 0-.8 .1-.9 .1-.9 0-1 .1-1 0-1.1 .1-1.1 0-1.1 .1-1.1 .1-1.2 0-1.1 .1-1.2 0-1.1 .1-1.1 .1-1.2 0-1 .1-1.1 0-1 .1-1 0-.9 .1-.9 0-.8 .1-.7 .1-.6 .1-1.1 .1-.7 .4 1.5 .1 1.2 .1 1.4 .1 1.5 .1 1.5 0 1.5 .1 1.3 .1 1.2 .1 .9 .2 .7 .1-.6 .1-.9 .1-1.1 0-.6 .1-.8 0-.7 .1-.9 0-.8 0-1 .1-.9 0-1 0-1 .1-1.1 0-1 .1-1.1 0-1.1 0-1.1 .1-1.1 0-1.1 .1-1 0-1.1 0-1.1 .1-1 0-1 0-1 .1-.9 0-.9 .1-.9 0-.8 0-.7 .1-.7 0-.6 .1-1.1 .1-.7 .3 .7 .1 .8 .1 1 0 1.2 .1 1.2 .1 1.4 .1 1.3 0 1.4 .1 1.3 .1 1.3 .1 1.2 0 1 .1 .9 .1 .6 .4-.7 .1-1.3 0-.8 .1-.8 0-1 .1-1 0-1.1 .1-1.1 0-1.1 .1-1.2 0-1.3 .1-1.2 0-1.3 .1-1.2 0-1.3 .1-1.2 0-1.3 .1-1.2 0-1.1 .1-1.2 0-1 0-1 .1-1 0-.9 .1-.8 0-.7 .1-.6 .1-.9 .3 .9 0 .8 .1 1 0 1.2 0 .6 .1 .7 0 .7 0 .7 0 .8 .1 .8 0 .9 0 .9 0 .9 0 .9 .1 .9 0 1 0 1 0 1 0 1.1 .1 1 0 1.1 0 1.1 0 1.1 0 1.1 .1 1.1 0 1.1 0 1.1 0 1.2 0 1.1 .1 1.1 0 1.2 0 1.1 0 1.1 0 1.2 .1 1.1 0 1.1 0 1.1 0 1.1 0 1.1 .1 1 0 1.1 0 1 0 1 .1 1 0 1 0 .9 0 1 0 .8 .1 .9 0 .9 0 .8 0 .7 .1 .8 0 .7 0 .6 0 .7 .1 1.1 0 1 .1 .7 0 .8 .3-.7 .1-1 .1-1.2 .1-.7 0-.8 .1-.8 0-.9 0-.9 .1-.9 0-1 .1-1 0-1.1 .1-1.1 0-1.1 .1-1.1 0-1.1 .1-1.2 0-1.2 .1-1.1 0-1.2 .1-1.2 0-1.1 0-1.2 .1-1.2 0-1.1 .1-1.1 0-1.1 .1-1.1 0-1.1 0-1 .1-1 0-.9 0-.9 .1-.9 0-.8 0-.7 .1-.7 0-.7 0-1" stroke="#ED7D31"/><path d="M45.5 339.5l1 .1 1.1 0 1 .1 1.2 .1 1.1 .1 1.2 .2 .6 0 .7 .1 .6 0 .7 .1 .7 .1 .7 .1 .7 0 .8 .1 .7 .1 .8 0 .8 .1 .8 .1 .9 .1 .9 0 .9 .1 .9 .1 1 .1 .9 0 1 .1 1.1 .1 1.1 0 1.1 .1 1.1 .1 1.1 .1 1.2 0 1.3 .1 1.2 .1 1.3 0 1.4 .1 1.3 0 1.4 .1 1.5 .1 1.5 0 1.5 .1 1.5 0 1.7 .1 1.6 0 1.7 .1 1.7 0 1.8 0 1.8 .1 1.9 0 .7 0 .7 0 .7 0 .7 0 .7 0 .7 .1 .8 0 .7 0 .8 0 .7 0 .8 0 .8 0 .7 0 .8 0 .8 0 .8 0 .8 0 .9 0 .8 .1 .8 0 .9 0 .8 0 .9 0 .8 0 .9 0 .8 0 .9 0 .9 0 .9 0 .9 0 .9 0 .9 0 .9 0 .9 0 1 0 .9 0 .9 0 1 0 .9 0 1 0 .9 0 1 0 .9 0 1 0 1 .1 1 0 .9 0 1 0 1 0 1 0 1 0 1 0 1 0 1.1 0 1 0 1 0 1 0 1.1 0 1 0 1 0 1.1 0 1 0 1.1 0 1 0 1.1 0 1-.1 1.1 0 1 0 1.1 0 1.1 0 1 0 1.1 0 1.1 0 1.1 0 1 0 1.1 0 1.1 0 1.1 0 1.1 0 1.1 0 1 0 1.1 0 1.1 0 1.1 0 1.1 0 1.1 0 1.1 0 1.1 0 1.1 0 1.1 0 1.1 0 1.1 0 1.1 0 1.1 0 1.1 0 1.1 0 1.1 0 1.2 0 1.1-.1 1.1 0 1.1 0 1.1 0 1.1 0 1.1 0 1.1 0 1.1 0 1.1 0 1.1 0 1.1 0 1.1 0 1.1 0 1.1 0 1.1 0 1.1 0 1.1 0 1.1 0 1.1 0 1.1 0 1.1 0 1.1-.1 1.1 0 1 0 1.1 0 1.1 0 1.1 0 1.1 0 1 0 1.1 0 1.1 0 1.1 0 1 0 1.1 0 1.1 0 1 0 1.1 0 1 0 1.1 0 1 0 1.1 0 1-.1 1 0 1.1 0 1 0 1 0 1 0 1.1 0 1 0 1 0 1 0 1 0 1 0 1 0 1 0 1 0 1.1 0 1 0 1 0 1 0 1.1 0 1-.1 1 0 1.1 0 1 0 1.1 0 1 0 1.1 0 1.1 0 1 0 1.1 0 1.1 0 1 0 1.1 0 1.1 0 1.1 0 1.1 0 1-.1 1.1 0 1.1 0 1.1 0 1.1 0 1.1 0 1.1 0 1.1 0 1.1 0 1.1 0 1.1 0 1.1 0 1.1 0 1.1-.1 1.1 0 1.1 0 1.1 0 1.1 0 1.1 0 1.1 0 1.2 0 1.1 0 1.1 0 1.1 0 1.1-.1 1.1 0 1.1 0 1.1 0 1.1 0 1.2 0 1.1 0 1.1 0 1.1 0 1.1 0 1.1 0 1.1-.1 1.1 0 1.1 0 1.1 0 1.1 0 1.1 0 1.1 0 1.1 0 1.1 0 1.1 0 1.1 0 1.1-.1 1.1 0 1.1 0 1 0 1.1 0 1.1 0 1.1 0 1.1 0 1 0 1.1 0 1.1-.1 1 0 1.1 0 1.1 0 1 0 1.1 0 1 0 1.1 0 1 0 1 0 1.1-.1 1 0 1 0 1.1 0 1 0 1 0 1 0 1 0 1 0 1 0 1-.1 1 0 1 0 1 0 .9 0 1 0 1 0 .9 0 1 0 .9 0 1-.1 .9 0 .9 0 1 0 .9 0 .9 0 .9 0 .9 0 .9 0 .9 0 .9-.1 .9 0 .8 0 1.7-.3 1.3 .5 1.5-.5 1.7 .5 1.7-.5 1.3 .5 1.7-.6 1.3 .6 1.6-.5 1.6 .5 1.6-.6 1.5 .5 1.7-.6 1.1 .6 1.6-.6 1.7 .5 1.6-.6 1.2 .6 1.3-.5 1.2 .4 1.3-.5 1.7 .5 1.2-.5 1.5 .4 1.6-.5 1.5 .5 1.2-.6 1.3 .5 1.5-.5 1.6 .5 1.3-.5 1.2 .5 1.2-.5 1.6 .5 1.4-.6 1.7 .5 1.4-.6 1.6 .5 1.2-.5 1.3 .4 1.2-.6 1.3 .6 1.4-.7 1.5 .5 1.6-.5 1.4 .5 1.4-.7 1.4 .5 1.3-.6 1.5 .5 1.3-.7 1.4 .6 1.4-.7 1.6 .4 1.4-.6 1.4 .3 1.2-.5 1.5 .4 1.3-.7 1.6 .4 1.2-.6 1.6 .3 1.3-.6 1.1 .4 1.2-.7 1.2 .3 1.6-.6 1.7 .3 1.4-.8 1.6 .3 1.4-.7 1.5 .1 1.6-.8 1.7 .4 1.5-.7 1.3 .4 1.4-.7 1.2 .4 1.4-.6 1.1 .6 1.3-.7 1.5 .5 1.2-.6 1.6 .5 1.6-.6 1.6 .6 1.4-.5 1.4 .6 1.7-.5 1.7 .8 1.3 .6 1.3 1.4 1.6-.4 1.5 .5 1.2-.7 1.6 .3 1.6-.8 1.2 .4 1.6-1 1.3 .4 1.2-.9 1.5 .2 1.2-.8 1.5 .2 1.6-1.1 1.4-.5 1.1-1.2 1.6 .8 1.4-.2 1.2 .9 1.5 .5 1.6 1.4 1.1-.3 1.2 .3 1.6-.7 1.5 .4 1.5-.8 1.2 .3 1.3-.7 1.4 .2 1.2-.8 1.5-.1 1.2-1.4 1.4-.9 1.3-.9 1.4 .5 1.2-.8 1.4 1 1.2-1.1 1.5 1.2 1.2-.9 1.4 1.1 1.7-1.3 1.4-.6 1.2-1.7 1.7 .5 1.6-1.4 1.6 .8 1.4-1.4 1.6 .7 1.6-1.5 1.5 .7 1.1-1.3 1.5 .9 1.5-1.4 1.6 .8 1.6-1.6 1.2 .7 1.2-1.6 1.7 .7 1.5-1.6 1.4 .8 1.6-1.6 1.6 .4 1.5-1.5 1.4 .7 1.6-1.7 1.2 .7 1.6-1.4 1.5 .4 1.6-1.5 1.6 .4 1.4-1.6 1.3 .5 1.2-1.5 1.3 .5 1.6-2 1.3 .7 1.3-2 1.4 .4 1.4-1.8 1.1 .3 1.6-2.1 1.5 0 1.4-2.1 1.6-.2 1.6-2.2 1.7-.3 1.2-1.4 1.4 .7 1.5-2.2 1.5-1.3 1.6-4.8 1.6-3.6 1.2-4.1 1.6-3.5 1.4-5.3 1.6-3.3 1.3-3.8 1.3 .7 1.2 9.1 1.3 14.7 1.6 3.8 1.2 8.6 1.3-1.2 1.4-4.4 1.4-5.7 1.5 3.7 1.2 .9 1.6 3.7 1.6 1.5 1.1 2.9 1.2 .3 1.2 1.8 1.2-1.5 1.4-1.9 1.2-4.7 1.2-2.5 1.2-4.7 1.5-3.8 1.4-5 1.4-2.2 1.5-1.4 1.5 5 1.4-10.2 1.6 3.7 1.6 5.1 1.4-8 1.6-5.3 1.5 9.6 1.5 5 1.6-.3 1.4-2.9 1.7 1.3 1.1 .2 1.7 4.7 1.1-1.2 1.2-1.3 1.6-3.7 1.5 8.3 1.4 2.4 1.5 2.1 1.5-.7 1.7 1.2 1.3-.5 1.6 1.9 1.2-.4 1.6 2.1 1.6 .1 1.6 2.1 1.2-.4 1.4 1.9 1.4-.2 1.4 2.1 1.5-.2 1.4 2.1 1.3-.3 1.1 1.8 1.7 .3 1.6 2.6 1.4 .1 1.4 2.3 1.5-.3 1.4 1.1 1.6-2.2 1.2-.2 1.6-3.3 1.4 1.3 1.1-.2 1.6 2.6 1.6-.8 1.1-.6 1.3-3.7 1.3-.8 1.4-2 1.6 2.2 1.1 .1 1.6 2.4 1.5-.9 1.3-.2 1.4-2.4 1.5 .9 1.2-.6 1.2 1.5 1.1-.1 1.6 2 1.6-.2 1.3 2.1 1.5 .1 1.2 2.1 1.1 .1 1.2 1.9 1.5 0 1.3 1.9 1.2-.6 1.2 1.4 1.5-1.3 1.4-.1 1.3-4.1 1.6-3.2 1.1-4.2 1.6-2.2 1.5-2.5 1.2 .6 1.2-1.4 1.4 .6 1.7-2.1 1.6-1.4 1.2-6.2 1.2-4.6 1.4-1 1.4 2.6 1.2-1.6 1.4 .4 1.2-1 1.7 1.9 1.1-.2 1.3 1.3 1.6-.9 1.6 .4 1.1-1.5 1.6 .4 1.5-1.8 1.3 1 1.6-1.2 1.5 .7 1.4-.9 1.3 1 1.2-1 1.5 1.2 1.2-1.1 1.6 1 1.6-1 1.2 1 1.3-1.1 1.5 1.1 1.1-1.3 1.7 1 1.6-1.2 1.4 1.1 1.2-.9 1.2 1.4 1.2-.4 1.3 2.5 1.5 .8 1.1 2.5 1.2 .4 1.6 3.4 1.2 .6 1.6 2.9 1.4 .2 1.5 2.3 1.3 0 1.3 2 1.6 .3 1.5 2.6 1.4 1.4 .5 .7 .5 .8 .5 .9 .5 .9 .4 .9 .5 .9 .5 1 .5 1 .5 1 .5 .9 .5 1 .5 1 .6 .9 .5 1 .5 .9 .6 .8 .5 .8 .6 .8 .6 .7 .8 .9 .7 .8 .9 .9 .8 .9 .8 .9 .9 .8 .9 .8 .9 .8 .9 .7 .8 .6 .9 .5 .9 .5 .8 .3 .9 .2 .8 .1 .8-.1 .7-.2 .7-.3 .6-.5 .7-.6 .6-.7 .7-.7 .6-.9 .6-.9 .7-.9 .6-1 .6-1 .6-1 .7-1.1 .6-1 .6-1 .6-.9 .7-.9 .6-.8 .6-.8 .7-.8 .7-.9 .6-.9 .7-.9 .6-.9 .7-.9 .7-.9 .6-.9 .7-.9 .6-.8 .7-.8 .6-.8 .7-.6 .6-.7 .6-.5 .6-.5 1.8-1 1.1-.6 1-.3 1.1-.2 1 0 1.1 .3 1 .6 1 .9 1.1 1.2 .8 1.1 .4 .7 .4 .7 .4 .8 .4 .8 .4 .9 .4 .9 .4 .9 .4 1 .4 1 .4 1 .4 1.1 .4 1 .4 1.1 .4 1.1 .3 1.1 .4 1.2 .4 1.1 .4 1.1 .4 1.1 .3 1.1 .4 1.1 .3 1.1 .4 1.1 .3 1 .3 1 .3 1.1 .2 1.2 .3 1.2 .3 1.2 .2 1.3 .3 1.4 .2 1.3 .3 1.4 .2 1.4 .2 1.3 .3 1.4 .2 1.3 .3 1.3 .2 1.2 .2 1.2 .3 1.2 .2 1.1 .3 1 .3 .9 .2 .8 .3 .8 .3 .6 .6 .9 .6 .4 .9-.4 .5-.8 .6-1.1 .4-.7 .3-.8 .3-.9 .3-.9 .4-1 .3-1 .3-1.1 .4-1.1 .3-1.2 .4-1.2 .3-1.2 .4-1.2 .3-1.3 .4-1.3 .3-1.3 .3-1.2 .4-1.3 .3-1.3 .4-1.2 .3-1.3 .3-1.2 .3-1.1 .4-1.2 .3-1.1 .3-1 .3-1 .3-.9 .3-.9 .2-.8 .3-.7 .6-1.5 .5-1.5 .6-1.3 .5-1.4 .5-1.2 .4-1.2 .5-1.1 .4-.9 .5-1 .4-.8 .4-.7 .9-1.1 .8-.6 .9-.1 1 .4 .9 1.1 .4 .7 .4 1 .5 1.1 .4 1.2 .5 1.5 .5 1.6 .5 1.9 .5 2 .2 .7 .1 .7 .2 .7 .2 .8 .2 .9 .2 .8 .1 1 .2 .9 .2 1 .2 1 .2 1 .2 1.1 .2 1 .2 1.1 .2 1.1 .3 1.2 .2 1.1 .2 1.1 .2 1.2 .2 1.2 .2 1.1 .2 1.2 .2 1.2 .2 1.1 .2 1.2 .2 1.1 .2 1.2 .2 1.1 .2 1.1 .2 1.1 .2 1.1 .1 1.1 .2 1 .2 1 .2 1 .1 .9 .2 1 .1 .8 .2 .9 .1 .8 .2 .8 .1 .7 .1 .7 .3 2 .3 1.8 .2 1.6 .2 1.5 .2 1.4 .1 1.2 .2 1 .1 1 0 .7 .1 .7 .2 .8 .7-.4 .3-1.3 .1-.8 .1-1 .2-1.1 .1-1.3 .2-1.3 .1-1.5 .2-1.5 .3-1.7 .2-1.8 .1-.7 .1-.8 .1-.8 .1-.8 .1-.9 .1-1 .2-.9 .1-1 .1-1 .1-1.1 .2-1.1 .1-1.1 .1-1.1 .1-1.1 .2-1.1 .1-1.2 .2-1.2 .1-1.1 .1-1.2 .2-1.1 .1-1.2 .2-1.1 .1-1.2 .2-1.1 .1-1.1 .2-1.1 .1-1.1 .2-1 .1-1 .2-1 .1-.9 .2-1 .2-.8 .1-.9 .2-.8 .1-.7 .2-.7 .4-1.8 .5-1.9 .4-1.8 .5-1.9 .4-1.7 .5-1.6 .5-1.4 .5-1.1 .5-.9 1-.7 1 1 .5 1.3 .3 .9 .2 1.1 .2 .6 .1 .7 .2 .7 .1 .8 .2 .8 .1 .9 .1 .9 .2 .9 .2 .9 .1 1 .2 1.1 .1 1 .2 1.1 .1 1.1 .2 1.1 .1 1.2 .2 1.1 .1 1.2 .2 1.2 .2 1.2 .1 1.3 .2 1.2 .1 1.2 .2 1.3 .1 1.2 .2 1.3 .1 1.3 .2 1.2 .1 1.3 .2 1.2 .1 1.3 .2 1.2 .1 1.2 .2 1.2 .1 1.2 .1 1.2 .2 1.1 .1 1.2 .1 1.1 .2 1.1 .1 1.1 .1 1 .2 1 .1 1 .1 .9 .1 .9 .1 .9 .1 .8 .1 .8 .1 .7 .1 .7 .1 .7 .3 2.4 .3 2.1 .2 1.8 .2 1.6 .2 1.4 .1 1.1 .2 1 .1 .8 0 .6 .2 .8 .7 .2 .2-.6 .1-1.1 .1-.8 .2-1 .1-1.2 .1-1.3 .2-1.6 .3-1.8 .3-2.1 .3-2.3 .1-.7 .1-.7 .1-.8 .1-.8 .1-.9 .1-1 .2-1 .1-1.1 .1-1.1 .1-1.1 .2-1.2 .1-1.2 .1-1.2 .2-1.3 .1-1.3 .2-1.3 .1-1.4 .2-1.3 .1-1.4 .2-1.4 .1-1.4 .2-1.4 .1-1.3 .2-1.4 .1-1.4 .2-1.4 .2-1.4 .1-1.4 .2-1.3 .2-1.3 .1-1.3 .2-1.3 .2-1.3 .1-1.2 .2-1.2 .2-1.1 .1-1.1 .2-1.1 .2-1 .1-1 .2-.9 .1-.9 .2-.8 .2-.8 .1-.6 .2-.7 .3-1 .3-.7 .7-.4 .4 .7 .3 .8 .2 1 .2 .7 .1 .6 .2 .7 .1 .8 .1 .8 .2 .9 .1 .9 .1 1 .2 1 .1 1 .1 1.1 .2 1.1 .1 1.1 .2 1.2 .1 1.2 .1 1.2 .2 1.2 .1 1.3 .1 1.3 .2 1.3 .1 1.3 .1 1.3 .2 1.3 .1 1.4 .1 1.3 .2 1.4 .1 1.3 .1 1.4 .2 1.3 .1 1.4 .1 1.3 .1 1.4 .2 1.3 .1 1.3 .1 1.3 .1 1.3 .1 1.2 .1 1.2 .1 1.2 .2 1.2 .1 1.2 .1 1.1 .1 1.1 .1 1 .1 1.1 .1 .9 .1 1 .1 .9 .1 .8 0 .8 .1 .8 .1 .7 .1 .6 .3 2.5 .3 2.2 .2 1.9 .2 1.6 .2 1.4 .1 1.2 .1 .9 .1 .7 .2 1 .6 .6 .6-.9 .2-1.3 .1-.9 .2-1.1 .1-1.4 .2-1.7 .2-1.9 .2-2.2 .3-2.6 .1-.6 0-.7 .1-.8 .1-.8 0-.8 .1-.9 .1-.9 0-1 .1-1 .1-1.1 .1-1.1 0-1.1 .1-1.2 .1-1.1 .1-1.3 .1-1.2 0-1.3 .1-1.2 .1-1.3 .1-1.3 .1-1.4 .1-1.3 0-1.4 .1-1.3 .1-1.4 .1-1.4 .1-1.3 .1-1.4 .1-1.4 .1-1.3 .1-1.4 .1-1.3 .1-1.4 .1-1.3 0-1.3 .1-1.3 .1-1.3 .1-1.2 .1-1.3 .1-1.2 .1-1.1 .1-1.2 .1-1.1 .1-1.1 .1-1 .1-1 .1-1 .1-.9 .1-.9 .1-.8 .1-.8 .1-.7 .1-.7 .1-.6 .2-1.1 .1-.8 .3-.8 .7 .8 .1 .9 .2 1 .1 .7 .1 .6 .1 .8 .1 .7 .1 .9 .1 .8 .1 .9 .1 1 .1 1 .1 1 .1 1.1 .1 1.1 .1 1.1 .1 1.2 .1 1.2 .1 1.2 .1 1.3 .2 1.2 .1 1.3 .1 1.3 .1 1.3 .1 1.3 .1 1.4 .1 1.3 .1 1.4 .1 1.4 .1 1.3 .1 1.4 0 1.4 .1 1.3 .1 1.4 .1 1.3 .1 1.4 .1 1.3 .1 1.3 .1 1.3 .1 1.3 .1 1.3 .1 1.2 .1 1.3 0 1.2 .1 1.1 .1 1.2 .1 1.1 .1 1.1 .1 1 0 1 .1 1 .1 .9 .1 .9 0 .8 .1 .8 .1 .8 0 .7 .1 .6 .3 2.6 .2 2.3 .2 1.9 .2 1.7 .2 1.3 .1 1.2 .1 .9 .2 .7 .2 .9 .7 .5 .5-.8 .2-1.1 .2-.9 .1-1.1 .2-1.4 .1-1.7 .2-2 .3-2.3 .2-2.7 .1-.6 0-.7 .1-.7 0-.8 .1-.8 .1-.9 0-.9 .1-1 0-1 .1-1 .1-1.1 .1-1.1 0-1.1 .1-1.1 .1-1.2 0-1.2 .1-1.3 .1-1.2 .1-1.3 0-1.3 .1-1.3 .1-1.3 .1-1.4 0-1.3 .1-1.4 .1-1.3 .1-1.4 .1-1.4 .1-1.3 0-1.4 .1-1.4 .1-1.3 .1-1.4 .1-1.3 .1-1.4 0-1.3 .1-1.3 .1-1.3 .1-1.3 .1-1.3 .1-1.2 0-1.2 .1-1.2 .1-1.2 .1-1.1 .1-1.1 .1-1.1 0-1 .1-1 .1-1 .1-.9 .1-.9 0-.8 .1-.8 .1-.8 .1-.7 .1-.6 .1-1.1 .2-.9 .1-.7 .6 .4 .2 .8 .1 1 .2 1.2 0 .7 .1 .7 .1 .8 0 .9 .1 .8 .1 1 0 .9 .1 1 .1 1 0 1.1 .1 1.1 .1 1.1 0 1.2 .1 1.2 .1 1.2 0 1.2 .1 1.2 .1 1.3 0 1.3 .1 1.3 .1 1.3 0 1.4 .1 1.3 0 1.3 .1 1.4 .1 1.4 0 1.3 .1 1.4 .1 1.4 0 1.3 .1 1.4 0 1.3 .1 1.4 .1 1.3 0 1.3 .1 1.4 0 1.3 .1 1.2 .1 1.3 0 1.3 .1 1.2 0 1.2 .1 1.2 0 1.1 .1 1.1 0 1.1 .1 1.1 .1 1 0 1 .1 .9 0 .9 .1 .9 0 .8 .1 .8 0 .7 .1 .7 0 .6 .2 2.7 .2 2.4 .2 2 .2 1.6 .1 1.4 .2 1.1 .1 .9 .2 .7 .2 .8 .8 .4 .5-.6 .2-1.2 .2-.8 .1-1.1 .2-1.4 .1-1.7 .2-2 .3-2.4 .2-2.8 .1-.6 0-.7 .1-.7 0-.8 .1-.8 0-.8 .1-.9 .1-.9 0-1 .1-1 0-1 .1-1.1 .1-1.1 0-1.1 .1-1.1 .1-1.2 .1-1.2 0-1.2 .1-1.3 .1-1.2 0-1.3 .1-1.3 .1-1.3 .1-1.3 0-1.3 .1-1.3 .1-1.4 .1-1.3 .1-1.4 0-1.3 .1-1.4 .1-1.3 .1-1.4 0-1.3 .1-1.4 .1-1.3 .1-1.3 .1-1.3 0-1.3 .1-1.3 .1-1.2 .1-1.3 .1-1.2 0-1.2 .1-1.2 .1-1.2 .1-1.1 0-1.1 .1-1.1 .1-1.1 .1-1 0-1 .1-.9 .1-.9 .1-.9 0-.8 .1-.8 .1-.8 0-.7 .1-.6 .1-.6 .1-1.1 .1-.8 .1-.6 .6 .9 .1 1 .1 .7 0 .6 .1 .8 0 .7 .1 .9 0 .9 .1 .9 0 1 0 1 .1 1.1 0 1.1 .1 1.1 0 1.2 .1 1.2 0 1.2 0 1.3 .1 1.2 0 1.4 .1 1.3 0 1.3 0 1.4 .1 1.3 0 1.4 .1 1.4 0 1.4 0 1.4 .1 1.4 0 1.4 .1 1.4 0 1.4 0 1.3 .1 1.4 0 1.3 0 1.4 .1 1.3 0 1.3 0 1.3 .1 1.2 0 1.2 0 1.2 .1 1.2 0 1.1 .1 1.1 0 1 0 1 .1 1 0 .9 0 .9 .1 .8 0 .7 .1 .8 0 .6 .2 2.5 .1 2.2 .2 1.9 .2 1.7 .1 1.3 .2 1.2 .1 .9 .2 .7 .3 1 .6 .6 .7-.8 .2-1.3 .2-.9 .1-1.1 .2-1.4 .2-1.6 .2-2 .2-2.3 .2-2.6 .1-.6 0-.7 .1-.8 0-.7 .1-.9 0-.8 .1-1 .1-.9 0-1 .1-1.1 .1-1 0-1.1 .1-1.2 .1-1.1 .1-1.2 0-1.2 .1-1.2 .1-1.3 .1-1.3 0-1.3 .1-1.3 .1-1.3 .1-1.3 .1-1.4 0-1.3 .1-1.4 .1-1.3 .1-1.4 .1-1.4 0-1.3 .1-1.4 .1-1.3 .1-1.4 .1-1.3 0-1.3 .1-1.3 .1-1.3 .1-1.3 .1-1.2 0-1.3 .1-1.2 .1-1.2 .1-1.1 .1-1.1 0-1.1 .1-1.1 .1-1 .1-1 0-1 .1-.9 .1-.8 0-.9 .1-.7 .1-.8 0-.6 .1-.7 .1-1 .1-.9 .1-.6 .5 .8 .1 .9 0 1.2 .1 .7 0 .7 0 .8 .1 .9 0 .9 0 .9 0 1 .1 1 0 1.1 0 1.1 0 1.1 .1 1.2 0 1.2 0 1.2 0 1.3 .1 1.3 0 1.2 0 1.4 0 1.3 0 1.3 .1 1.4 0 1.4 0 1.3 0 1.4 0 1.4 .1 1.4 0 1.3 0 1.4 0 1.4 0 1.4 0 1.3 .1 1.3 0 1.4 0 1.3 0 1.2 0 1.3 .1 1.2 0 1.2 0 1.2 0 1.2 0 1.1 .1 1 0 1.1 0 1 0 .9 .1 .9 0 .9 0 .8 0 .8 .1 .7 0 .6 .1 2.5 .2 2.2 .1 1.9 .2 1.6 .1 1.4 .2 1.2 .2 .9 .1 .7 .4 1 .6 .6 .6-.5 .3-1 .2-.7 .1-.9 .2-1.1 .1-1.4 .2-1.7 .2-1.9 .1-2.2 .2-2.6 0-.6 .1-.7 0-.8 .1-.8 0-.8 0-.9 .1-.9 0-1 .1-1 0-1 0-1.1 .1-1.1 0-1.1 .1-1.2 0-1.2 0-1.2 .1-1.2 0-1.3 .1-1.3 0-1.3 .1-1.3 0-1.3 0-1.3 .1-1.4 0-1.3 .1-1.4 0-1.3 .1-1.4 0-1.3 .1-1.4 0-1.3 0-1.3 .1-1.4 0-1.3 .1-1.3 0-1.2 .1-1.3 0-1.3 0-1.2 .1-1.2 0-1.1 .1-1.2 0-1.1 .1-1.1 0-1 0-1 .1-1 0-1 .1-.9 0-.8 0-.8 .1-.8 0-.7 .1-.6 0-1.2 .1-.9 .1-.6 .3 .7 .1 1 0 .6 .1 .7 0 .7 .1 .8 0 .9 0 .9 .1 1 0 1 0 1.1 .1 1.1 0 1.1 0 1.2 .1 1.3 0 1.2 0 1.3 .1 1.3 0 1.3 0 1.4 .1 1.3 0 1.4 0 1.4 .1 1.4 0 1.4 0 1.4 .1 1.4 0 1.5 0 1.4 0 1.3 .1 1.4 0 1.4 0 1.3 .1 1.4 0 1.3 0 1.2 .1 1.3 0 1.2 0 1.2 .1 1.1 0 1.1 0 1.1 .1 1 0 .9 .1 1 0 .8 0 .8 .1 .7 0 .7 .1 2.4 .2 2 .2 1.9 .1 1.6 .2 1.3 .1 1.2 .2 1 .1 .8 .2 .6 .3 .8 .7 .2 .3-1.2 .2-1 .2-1.1 .2-1.3 .1-1.3 .2-1.4 .2-1.4 .1-1.3 .2-1.2 .1-1.1 .1-.9 .1-.6-2.2 3 .3-8.7 .3-7.5 .3-6.9 .3-6.5 .3-6 .3-5.5 .3-5 .3-4.4 .3-3.9 .3-3.3 .3-2.7 .3-2 .3-1.4 .3-.7 .9 1.8 .3 2 .3 2.5 .3 3.2 .3 3.7 .3 4.3 .3 4.8 .3 5.3 .3 5.7 .3 6.1 .3 6.6 .3 7.4 .3-3.7 .3-7.8 .3-7.2 .3-6.5 .3-6 .3-5.3 .3-4.8 .3-4.1 .3-3.5 .3-2.8 .3-2.1 .3-1.3 .3-.7 .6 .7 .3 1.3 .3 2 .3 2.6 .3 3.1 .3 3.6 .3 4.1 .3 4.5 .3 4.8 .3 5.2 .3 5.6 .3 9.3 .3-8 .3-6.6 .3-6.2 .3-5.6 .3-5.1 .3-4.6 .3-3.9 .3-3.4 .3-2.6 .3-2 .3-1.3 .9 .5 .3 1.6 .3 2.2 .3 2.9 .3 3.5 .3 4.1 .3 4.6 .3 5 .3 5.6 .3 6 .3-7.2 .3-5.5 .3-4.8 .3-4.5 .3-4 .3-3.5 .3-3.1 .3-2.7 .3-2.1 .3-1.5 .3-1 .9 .7 .3 1.5 .3 2 .3 2.6 .3 3.1 .3 3.7 .3 4 .3 4.6 .3 5 .3 12 .3-7.4 .3-8.2 .3-10.3 .3-9.2 .3-8.2 .3-7.3 .3-6.3 .3-5.4 .3-4.5 .3-3.8 .3-3.1 .3-2.6 .3-2.2 .3-1.8 .3-1.7 .3-1.6 .3-1.6 .3-1.9 .3-2 .3-2.3 .3-8.2 .3-5.9 .3-5.2 .3-4.7 .3-4.3 .3 3.1 .3 2.9 .3 2.9 .3 2.9 .3 3.1 .3 3.4 .3 3.7 .3 4.3 .3 4.8 .3 5.4 .3 6.2 .3 7 .3 7.7 .3 8.9 .3-1.5 .9-.2 .9 1.5 .3 1.4 .3 2.2 .3 1.1 .3 .9 .3 1.8 .3 2.7 .3 3.5 .3 4.3 .3 5 0 21.1 .6-1.7 .3-1.9 .3-2.6 .3-3 .3-3.3 .3-3.6 .3-3.5 .3-3.4 .3-3.1 .3-2.7 .3-2.1 .3-1.4 .3-.7 .3 .9 .3 .8 .3 1.5 .3 2.1 .3 2.6 .3 2.9 .3 3.2 .3 3.2 .3 3.1 .3 2.8 .3 2.4 .3 1.9 .3 1.2 .6 2.1 .3-.9 .3-1.7 .3-2.3 .3-2.8 .3-2.9 .3-3.1 .3-3.2 .3-3.2 .3-3 .3-2.5 .3-1.9 .3-1.1 .9 2.4 .3 2.8 .3 3.6 .3 4.3 .3 4.8 .3 4.9 .3 4.9 .3 4.4 .3 3.8 .3 2.9 .3 1.7 .3 1.5 .3-.9 .3-2.3 .3-3.5 .3-4.6 .3-5.2 .3-5.7 .3-5.7 .3-5.3 .3-4.4 .3-3.3 .3-1.8 .3 6 .3 1.1 .3 2.4 .3 3.4 .3 4.2 .3 4.8 .3 4.9 .3 4.7 .3 4.2 .3 3.3 .3 2.3 .3 .9 .3 6.5 .3-2.5 .3-4.1 .3-5.6 .3-6.6 .3-7 .3-7.1 .3-6.5 .3-5.4 .3-3.9 .3-2.1 .3-1.5 .3 2 .3 3.9 .3 5.5 .3 6.7 .3 7.3 .3 7.3 .3 6.7 .3 5.5 .3 3.8 .3 1.8 .3-1.5 .3-2.4 .3-4.4 .3-5.9 .3-6.9 .3-7.4 .3-7.1 .3-6.3 .3-4.9 .3-3 .3-.8 .3 1.4 .3 3.4 .3 5.2 .3 6.5 .3 7.2 .3 7.1 .3 6.4 .3 5 .3 3.1 .9-3.9 .3-5.2 .3-6.5 .3-7.3 .3-7.3 .3-6.5 .3-5.1 .3-3 .3-1.2 .3 1.8 .3 4.2 .3 6.2 .3 7.4 .3 8 .3 7.6 .3 6.4 .3 4.5 .3 2 .3 .8 .3-3.6 .3-6 .3-7.9 .3-8.8 .3-8.7 .3-7.5 .3-5.6 .3-2.8 .3 2.3 .3 3.1 .3 5.6 .3 7.5 1.1-95.8 0 .8 0 1 .1 1.1 0 1.2 0 .7 0 .7 0 .7 0 .7 .1 .7 0 .8 0 .8 0 .8 0 .8 0 .8 0 .9 .1 .8 0 .9 0 .9 0 .9 0 1 0 .9 .1 1 0 .9 0 1 0 1 0 1 .1 1 0 1 0 1 0 1 0 1 .1 1.1 0 1 0 1 0 1 0 1 .1 1.1 0 1 0 1 0 1 0 1 .1 1 0 1 0 1 0 1 0 1 .1 1 0 .9 0 1 0 .9 0 .9 .1 .9 0 .9 0 .9 0 .8 0 .9 .1 .8 0 .8 0 .8 0 .7 .1 .8 0 .7 0 .7 0 .7 0 .6 .1 .7 0 1.1 0 1.1 .1 .9 0 .8 0 .7 .1 1 .2 .6 .1-.9 .1-.9 .1-1.1 0-1.3 .1-1.5 .1-1.5 .1-1.6 0-1.6 .1-1.5 .1-1.5 .1-1.2 0-1.1 .1-.7 .2-.7 .2 1.1 .1 .6 .1 .9 0 .9 .1 1 .1 1.1 .1 1.1 .1 1.2 .1 1.2 0 1.2 .1 1.2 .1 1.2 .1 1 .1 1 .1 .9 0 .8 .1 .7 .2 .8 .3-.9 0-.7 .1-.8 .1-1 .1-1.1 0-1.1 .1-1.3 .1-1.2 .1-1.3 0-1.2 .1-1.3 .1-1.1 0-1.1 .1-1 .1-.8 0-.7 .2-.9 .3 1.1 0 1.2 .1 .7 0 .8 .1 .9 0 .9 0 1 .1 1.1 0 1.1 .1 1.1 0 1.2 0 1.2 .1 1.2 0 1.2 .1 1.2 0 1.2 .1 1.2 0 1.2 0 1.1 .1 1.1 0 1 .1 1 0 1 0 .8 .1 .8 0 .7 .1 .7 0 .9 .3-.6 .1-1.1 0-.7 .1-.7 0-.8 0-.9 0-.9 .1-1 0-1 0-1.1 .1-1.1 0-1.1 0-1.2 .1-1.2 0-1.2 0-1.2 .1-1.3 0-1.2 0-1.3 .1-1.2 0-1.2 0-1.3 0-1.2 .1-1.2 0-1.1 0-1.2 .1-1.1 0-1 0-1 .1-1 0-.9 0-.9 .1-.8 0-.7 0-.7 .1-1.1 .1-.7 .2 .8 .1 .8 0 .9 .1 1.2 0 .6 0 .6 0 .7 .1 .8 0 .7 0 .8 0 .9 .1 .8 0 .9 0 .9 0 .9 .1 1 0 1 0 1 0 1 .1 1 0 1.1 0 1 0 1.1 0 1.1 .1 1.1 0 1.1 0 1.1 0 1.2 .1 1.1 0 1.1 0 1.2 0 1.1 .1 1.2 0 1.1 0 1.1 0 1.2 .1 1.1 0 1.1 0 1.1 0 1.1 .1 1.1 0 1.1 0 1 0 1.1 .1 1 0 1 0 1 0 1 .1 .9 0 .9 0 .9 0 .9 .1 .9 0 .8 0 .7 0 .8 .1 .7 0 .7 0 .6 0 .6 .1 1.1 0 1 .1 .7 0 .8 .3-.7 .1-1 0-1.2 .1-.7 0-.7 0-.8 .1-.9 0-.9 0-.9 .1-1 0-1 .1-1.1 0-1.1 0-1.1 .1-1.1 0-1.2 0-1.1 .1-1.2 0-1.2 0-1.2 .1-1.2 0-1.2 0-1.2 .1-1.1 0-1.2 0-1.2 .1-1.1 0-1.1 0-1.1 .1-1.1 0-1 0-1 0-1 .1-.9 0-.9 0-.8 .1-.8 0-.7 0-.7 .1-.6 0-1 .1-.8 .1-.7 .3 1 .1 1.1 .1 1.4 .1 1.5 .1 1.6 .1 1.5 .1 1.4 .1 1.2 .1 .9 .4-.9 .1-.8 0-1 .1-1 .1-1.2 0-1.2 .1-1.3 .1-1.3 0-1.3 .1-1.3 .1-1.3 0-1.2 .1-1.1 .1-1.1 .1-.9 0-.7 .2-1 .2 .7 .1 .9 .1 1.1 0 .7 0 .8 0 .8 .1 .8 0 .9 0 .9 .1 1 0 1 0 1.1 .1 1 0 1.1 0 1.2 .1 1.1 0 1.2 0 1.1 0 1.2 .1 1.2 0 1.1 0 1.2 .1 1.1 0 1.2 0 1.1 .1 1.1 0 1.1 0 1 0 1 .1 1 0 1 0 .9 .1 .8 0 .8 0 .8 .1 .7 0 .6 .1 1 0 .8 .3-.8 .1-1 .1-1.2 0-.7 0-.7 0-.8 .1-.8 0-.9 0-1 .1-.9 0-1 0-1 .1-1.1 0-1.1 0-1.1 .1-1.1 0-1.1 0-1.2 .1-1.2 0-1.1 .1-1.2 0-1.2 0-1.2 .1-1.1 0-1.2 0-1.1 .1-1.2 0-1.1 0-1.1 .1-1.1 0-1.1 0-1 .1-1 0-1 0-.9 .1-.9 0-.9 0-.8 .1-.7 0-.7 0-.7 .1-1.1 .1-.9 0-.6 .3 .9 .1 1.1 0 .6 .1 .8 0 .7 .1 .9 0 .9 0 .9 .1 1 0 1 0 1.1 .1 1.1 0 1.1 .1 1.2 0 1.1 0 1.2 .1 1.2 0 1.2 0 1.2 .1 1.1 0 1.2 .1 1.2 0 1.1 0 1.1 .1 1.1 0 1 0 1.1 .1 .9 0 1 .1 .8 0 .9 0 .7 .1 .7 0 .7 .1 1 .1 .7 .4-1.1 0-.9 .1-1 .1-1.1 0-1.2 .1-1.3 .1-1.3 .1-1.4 0-1.4 .1-1.4 .1-1.3 .1-1.3 0-1.2 .1-1 .1-1 0-.8 .1-.7 .1-.7 .2 .7 .1 .9 .1 1.2 0 .7 .1 .7 0 .8 0 .9 .1 .9 0 .9 0 1 .1 1.1 0 1 0 1.1 .1 1.1 0 1.2 0 1.1 0 1.2 .1 1.2 0 1.2 0 1.2 .1 1.2 0 1.1 0 1.2 .1 1.2 0 1.1 0 1.1 .1 1.1 0 1.1 0 1 .1 1 0 .9 0 .9 .1 .9 0 .8 0 .7 .1 .7 0 .6 .1 1 0 .7 .3-.9 0-.9 .1-1.1 0-.7 0-.7 0-.7 .1-.8 0-.8 0-.8 0-.9 .1-.9 0-1 0-.9 0-1 .1-1.1 0-1 0-1.1 0-1.1 .1-1.1 0-1.1 0-1.1 0-1.1 .1-1.2 0-1.1 0-1.2 0-1.1 .1-1.2 0-1.1 0-1.1 0-1.2 .1-1.1 0-1.1 0-1 0-1.1 .1-1.1 0-1 0-1 0-.9 .1-1 0-.9 0-.9 0-.8 .1-.8 0-.8 0-.7 .1-.7 0-.6 0-1.1 .1-.9 0-.7 .4 .7 0 .6 .1 .7 0 .8 .1 .9 0 .9 0 1 .1 1.1 0 1.2 .1 1.2 0 1.2 .1 1.2 0 1.3 .1 1.3 0 1.3 .1 1.3 0 1.3 .1 1.2 0 1.3 .1 1.2 0 1.1 .1 1.2 0 1 .1 1 0 .9 .1 .9 0 .7 .1 .7 0 .9 .4-.8 0-1.3 .1-.7 0-.8 .1-.8 0-.9 0-1 .1-1 0-1 0-1.1 .1-1.2 0-1.1 0-1.2 .1-1.1 0-1.2 .1-1.2 0-1.2 0-1.2 .1-1.2 0-1.1 0-1.1 .1-1.1 0-1.1 0-1 .1-1 0-.9 0-.8 .1-.8 0-.8 0-.6 .1-1.1 .1-.7 .2 1.1 .1 1.3 0 .8 .1 .8 0 .9 .1 1 0 1 0 1.1 .1 1.2 0 1.1 0 1.2 .1 1.2 0 1.2 .1 1.3 0 1.2 0 1.2 .1 1.2 0 1.2 0 1.1 .1 1.1 0 1.1 .1 1 0 .9 0 .9 .1 .8 0 .8 0 .6 .1 1 .1 .6 .2-1.1 .1-1.2 0-.8 0-.9 .1-1 0-1 .1-1.1 0-1.2 0-1.2 .1-1.3 0-1.2 .1-1.3 0-1.3 0-1.3 .1-1.3 0-1.2 .1-1.3 0-1.1 0-1.2 .1-1.1 0-1 0-.9 .1-.9 0-.7 .1-.7 0-.9 .3 1 .1 1 0 .6 0 .6 0 .8 .1 .7 0 .8 0 .9 0 .9 0 .9 .1 1 0 1 0 1.1 0 1.1 .1 1.1 0 1.1 0 1.1 0 1.2 .1 1.2 0 1.2 0 1.2 0 1.2 .1 1.2 0 1.2 0 1.2 0 1.2 .1 1.2 0 1.2 0 1.2 0 1.1 .1 1.1 0 1.2 0 1 0 1.1 .1 1 0 1 0 1 0 .9 .1 .8 0 .9 0 .7 0 .8 .1 .6 0 .7 0 1 .1 .8 .1 .6 .1-.6 .1-.9 0-.9 .1-1 0-1.1 0-.7 .1-.6 0-.7 0-.7 0-.8 0-.8 .1-.8 0-.8 0-.9 0-.8 .1-1 0-.9 0-.9 0-1 0-1 .1-1 0-1 0-1 0-1.1 .1-1 0-1.1 0-1.1 0-1.1 .1-1.1 0-1.1 0-1.1 0-1.1 .1-1.1 0-1.1 0-1.1 0-1.2 0-1.1 .1-1.1 0-1.1 0-1.1 0-1.1 .1-1.1 0-1.1 0-1 0-1.1 .1-1.1 0-1 0-1 0-1 0-1 .1-1 0-.9 0-1 0-.9 .1-.9 0-.8 0-.9 0-.8 .1-.8 0-.7 0-.8 0-.7 0-.6 .1-.7 0-1.1 .1-1 0-.9 0-.7 .1-.9 .3 .7 .1 .7 .1 .9 0 1 .1 1.1 0 1.3 .1 1.3 .1 1.4 0 1.4 .1 1.4 0 1.5 .1 1.4 0 1.4 .1 1.3 .1 1.3 0 1.2 .1 1 0 1 .1 .7 .1 .6 .1 .7 .2-.8 0-1 .1-1.2 .1-.7 0-.8 .1-.9 0-.9 0-.9 .1-1 0-1 .1-1 0-1.1 .1-1.1 0-1.1 0-1.1 .1-1.1 0-1.1 .1-1.1 0-1.1 0-1.1 .1-1.1 0-1 .1-1 0-1 .1-.9 0-.8 0-.9 .1-.7 0-.7 .1-.6 .1-1 0-.7 .4 1.9 .1 2 .1 2.3 .1 2.4 .2 2.4 .1 2.2 .1 1.7 .1 1.2 .4-1.7 .2-3 0-.8 0-.9 .1-.9 0-1 0-1.2 .1-1.2 0-.6 0-.6 0-.7 0-.7 0-.7 .1-.7 0-.7 0-.8 0-.8 0-.8 0-.8 .1-.8 0-.8 0-.9 0-.8 0-.9 0-.9 .1-.9 0-.9 0-.9 0-1 0-.9 .1-1 0-.9 0-1 0-1 0-1 0-1 .1-1 0-1.1 0-1 0-1.1 0-1 .1-1.1 0-1 0-1.1 0-1.1 0-1.1 0-1.1 .1-1.1 0-1.1 0-1.1 0-1.1 0-1.1 .1-1.1 0-1.1 0-1.1 0-1.2 0-1.1 .1-1.1 0-1.1 0-1.2 0-1.1 0-1.1 0-1.2 .1-1.1 0-1.1 0-1.1 0-1.1 0-1.2 .1-1.1 0-1.1 0-1.1 0-1.1 0-1.1 .1-1.1 0-1.1 0-1.1 0-1.1 0-1.1 0-1 .1-1.1 0-1 0-1.1 0-1 0-1.1 .1-1 0-1 0-1 0-1 0-1 0-1 .1-.9 0-1 0-.9 0-1 0-.9 0-.9 .1-.9 0-.8 0-.9 0-.9 0-.8 .1-.8 0-.8 0-.8 0-.8 0-.8 0-.7 .1-.7 0-.7 0-.7 0-.7 0-.7 0-.6 0-.6 .1-1.2 0-1.1 0-1 .1-.9 0-.8 0-.8 0-.6 .1-.8 0-.7 .2 .8 0 .8 0 .6 0 .8 .1 .8 0 .9 0 .9 0 1.1 0 1.1 0 1.2 0 .7 .1 .6 0 .7 0 .6 0 .7 0 .8 0 .7 0 .7 0 .8 0 .8 0 .8 0 .8 0 .8 0 .8 0 .9 0 .8 0 .9 0 .9 .1 .9 0 .9 0 .9 0 .9 0 1 0 .9 0 1 0 1 0 .9 0 1 0 1 0 1 0 1 0 1.1 0 1 0 1 0 1.1 0 1 0 1.1 0 1.1 0 1 0 1.1 .1 1.1 0 1.1 0 1.1 0 1.1 0 1.1 0 1.1 0 1.1 0 1.1 0 1.1 0 1.1 0 1.1 0 1.1 0 1.1 0 1.2 0 1.1 0 1.1 0 1.1 0 1.1 0 1.2 0 1.1 0 1.1 0 1.1 0 1.1 0 1.1 0 1.1 0 1.1 .1 1.1 0 1.1 0 1.1 0 1.1 0 1.1 0 1.1 0 1.1 0 1 0 1.1 0 1.1 0 1 0 1 0 1.1 0 1 0 1 0 1.1 0 1 0 1 0 1 0 .9 0 1 0 1 0 .9 .1 1 0 .9 0 .9 0 .9 0 .9 0 .9 0 .9 0 .8 0 .9 0 .8 0 .8 0 .8 0 .8 0 .8 0 .7 0 .8 0 .7 0 .7 .1 .7 0 .7 0 .6 0 .7 0 .6 0 .6 0 1.2 0 1.1 0 1 0 .9 .1 .9 0 .7 0 2.3 .1 1.3 .1 .8 .2-1 .1-1.1 .1-1.4 .1-1.5 0-1.7 .1-1.8 .1-1.9 .1-1.9 .1-1.9 0-1.8 .1-1.7 .1-1.6 .1-1.4 .1-1.2 .1-.8 .1-.8 .2 .8 0 .8 .1 1.1 0 .6 .1 .6 0 .7 0 .8 .1 .8 0 .8 .1 .9 0 .9 0 .9 .1 1 0 1 0 1 .1 1 0 1.1 .1 1.1 0 1 0 1.1 .1 1.1 0 1.1 0 1.1 .1 1.1 0 1.1 .1 1.1 0 1.1 0 1 .1 1.1 0 1 0 1 .1 1 0 .9 0 .9 .1 .9 0 .9 .1 .8 0 .7 0 .8 .1 .6 0 .7 .1 1 0 .9 .2 .9 .2-.9 .1-.9 .1-1 0-1.3 .1-1.3 .1-1.5 .1-1.5 0-1.5 .1-1.6 .1-1.4 .1-1.3 0-1.2 .1-1.1 .1-.8 .1-.8 .2 .8 .1 .8 0 1 .1 1.2 0 .6 0 .7 .1 .8 0 .8 0 .8 .1 .9 0 .9 0 .9 0 1 .1 1 0 1 0 1 .1 1.1 0 1.1 0 1.1 .1 1 0 1.2 0 1.1 0 1.1 .1 1.1 0 1.1 0 1.1 .1 1.1 0 1.1 0 1.1 .1 1.1 0 1.1 0 1 .1 1 0 1 0 1 0 .9 .1 1 0 .9 0 .8 .1 .8 0 .8 0 .7 .1 .7 0 .6 0 1.2 .1 .9 .1 .7 .3-.9 .1-.6 0-.7 .1-.8 0-.9 0-1 .1-1.1 0-1.1 .1-1.1 0-1.2 .1-1.2 0-1.3 .1-1.2 0-1.3 .1-1.2 0-1.3 .1-1.2 0-1.2 .1-1.2 0-1.1 .1-1 0-1 .1-1 0-.8 .1-.8 0-.6 .1-1 .4 .9 0 .7 .1 .7 0 .7 .1 .9 0 .9 .1 1 0 1.1 .1 1 0 1.2 .1 1.1 0 1.2 .1 1.2 0 1.2 .1 1.2 0 1.2 .1 1.2 0 1.2 .1 1.1 0 1.2 .1 1.1 0 1 .1 1 0 .9 0 .9 .1 .8 0 .7 .1 .6 .1 .9 .1 .7 .2-1 .1-1.1 .1-.8 0-.8 .1-.8 0-1 0-1 .1-1.1 0-1.1 .1-1.1 0-1.2 .1-1.2 0-1.2 .1-1.2 0-1.2 .1-1.2 0-1.2 .1-1.2 0-1.1 .1-1.1 0-1 0-1 .1-.9 0-.9 .1-.8 0-.6 .1-1.1 .1-.6 .3 .8 .1 1.2 0 .8 .1 .8 0 .9 .1 1 .1 1.1 0 1.1 .1 1.1 0 1.2 .1 1.2 0 1.2 .1 1.2 0 1.1 .1 1.2 0 1.2 .1 1.1 .1 1 0 1 .1 1 0 .8 .1 .8 0 .7 .1 1 .2 .7 .2-1.3 0-.7 .1-1 .1-1 0-1.2 .1-1.2 .1-1.2 0-1.3 .1-1.3 0-1.2 .1-1.2 .1-1.1 0-.9 .1-.9 .1-.6 .1-.8 .3 1 0 .7 .1 .8 .1 .9 0 1 .1 1.1 .1 1.1 0 1.2 .1 1.3 .1 1.2 0 1.3 .1 1.2 .1 1.2 .1 1.2 0 1.1 .1 1.1 .1 .9 0 .9 .1 .7 .2 1.1 .3-1.1 .1-1.1 .1-.7 0-.7 .1-.8 0-.8 .1-1 0-.9 .1-1 0-1 .1-1.1 0-1 .1-1.1 0-1.1 0-1.2 .1-1.1 0-1.1 .1-1.2 0-1.1 .1-1.1 0-1.1 .1-1 0-1 .1-1 0-1 0-.9 .1-.9 0-.8 .1-.8 0-.7 .1-.6 0-1 .1-.7 .4 1.2 0 .9 .1 1 .1 1.1 0 1.2 .1 1.3 0 1.3 .1 1.3 .1 1.4 0 1.3 .1 1.2 0 1.1 .1 1.1 0 .9 .1 .8 0 .6 .4-.7 .1-.8 .1-1 .1-1.1 .1-.6 0-.7 .1-.7 0-.7 0-.8 .1-.8 0-.9 .1-.8 0-1 .1-.9 0-1 .1-1 0-1.1 0-1.1 .1-1.1 0-1.1 .1-1.2 0-1.2 .1-1.3 0-1.2 .1-1.3 0-1.4 0-1.3 .1-1.2 0-.6 0-.7 0-.7 0-.7 .1-.8 0-.8 0-.8 0-.8 0-.8 0-.9 0-.9 .1-.9 0-.9 0-.9 0-1 0-.9 0-1 .1-1 0-1 0-1 0-1 0-1.1 0-1 0-1 .1-1.1 0-1.1 0-1 0-1.1 0-1.1 0-1 0-1.1 .1-1.1 0-1.1 0-1 0-1.1 0-1.1 0-1.1 0-1 .1-1.1 0-1 0-1.1 0-1 0-1 0-1 0-1 .1-1 0-1 0-.9 0-1 0-.9 0-.9 0-.9 .1-.9 0-.8 0-.9 0-.8 0-.8 0-.8 .1-.7 0-.7 0-.7 0-.7 0-.6 0-.6 .1-1.1 0-1.1 0-.8 .1-.8 0-.8 .3 .8 0 .9 0 1.1 .1 .7 0 .7 0 .7 0 .8 .1 .8 0 .9 0 .9 0 .9 .1 1 0 1 0 1 0 1.1 .1 1.1 0 1.1 0 1.1 0 1.2 .1 1.1 0 1.2 0 1.2 0 1.2 .1 1.2 0 1.3 0 1.2 .1 1.2 0 1.3 0 1.2 0 1.2 .1 1.3 0 1.2 0 1.2 0 1.2 .1 1.2 0 1.2 0 1.1 0 1.2 .1 1.1 0 1.1 0 1 .1 1.1 0 1 0 1 0 .9 .1 .9 0 .9 0 .8 0 .8 .1 .8 0 .7 0 .6 0 .6 .1 1.1 .1 .8 0 .8 .2-.7 .1-.7 0-1 .1-1 0-.7 0-.6 .1-.7 0-.7 0-.8 0-.8 .1-.8 0-.9 0-.9 0-.9 .1-.9 0-1 0-1 0-1 .1-1.1 0-1 0-1.1 .1-1.1 0-1.1 0-1.1 0-1.2 .1-1.1 0-1.2 0-1.1 0-1.2 .1-1.2 0-1.2 0-1.2 0-1.1 .1-1.2 0-1.2 0-1.2 0-1.2 .1-1.1 0-1.2 0-1.1 .1-1.2 0-1.1 0-1.1 0-1.1 .1-1.1 0-1 0-1.1 0-1 .1-1 0-1 0-.9 0-.9 .1-.9 0-.9 0-.8 0-.8 .1-.8 0-.7 0-.7 0-.6 0-.6 .1-1.1 0-.9 .1-.7 .1-.7 .2 .8 0 .6 .1 .9 0 1 0 1.2 .1 .6 0 .6 0 .7 0 .8 0 .7 .1 .8 0 .8 0 .8 0 .9 0 .9 .1 .9 0 .9 0 1 0 .9 0 1 .1 1 0 1 0 1.1 0 1 0 1 .1 1.1 0 1.1 0 1.1 0 1 0 1.1 .1 1.1 0 1.1 0 1.1 0 1.1 0 1.1 .1 1.1 0 1.1 0 1.1 0 1.1 0 1.1 0 1 .1 1.1 0 1 0 1.1 0 1 0 1 .1 1 0 1 0 .9 0 1 0 .9 .1 .9 0 .9 0 .8 0 .9 .1 .8 0 .7 0 .8 0 .7 0 .7 .1 .6 0 .7 0 1.2 .1 1.2 0 1.2 .1 1.2 0 1.1 .1 1.2 0 1.2 0 1.1 .1 1.2 0 1.1 .1 1.1 0 1.1 .1 1 0 1 .1 1.1 0 .9 .1 1 0 .9 .1 .9 0 .8 0 .8 .1 .8 0 .8 .1 .6 0 .7 .1 .6 .1 1 .1 .9 .1 .6 .4-1.1 .1-.7 0-.8 .1-.9 0-1 .1-1 0-1.1 .1-1.2 0-1.2 .1-1.2 0-1.3 .1-1.3 0-1.3 .1-1.2 0-1.3 .1-1.2 0-1.3 .1-1.1 0-1.2 .1-1 0-1 .1-.9 0-.9 .1-.7 0-.6 .2-1 .2 .7 .1 .8 .1 1.1 0 .6 0 .7 .1 .7 0 .7 0 .8 .1 .8 0 .9 0 .9 0 1 .1 .9 0 1 0 1 .1 1.1 0 1.1 0 1 .1 1.1 0 1.1 0 1.2 .1 1.1 0 1.2 0 1.1 .1 1.2 0 1.1 0 1.1 0 1.2 .1 1.1 0 1.2 0 1.1 .1 1.1 0 1.1 0 1 .1 1.1 0 1 0 1 0 1 .1 .9 0 .9 0 .9 .1 .8 0 .8 0 .8 .1 .7 0 .6 0 .7 .1 1 0 .9 .1 .6 .2-.7 .1-1.2 0-.7 .1-.7 0-.8 0-.9 .1-1 0-1 0-1 .1-1.1 0-1.1 0-1.1 .1-1.2 0-1.2 0-1.2 0-1.2 .1-1.3 0-1.2 0-1.2 .1-1.2 0-1.2 0-1.2 .1-1.1 0-1.1 0-1.1 .1-1 0-1 0-1 .1-.8 0-.8 0-.8 .1-.7 0-1.1 .1-.7 .3 .9 0 .6 .1 .7 0 .9 .1 .9 0 .9 .1 1.1 0 1.1 .1 1.1 .1 1.2 0 1.2 .1 1.3 0 1.3 .1 1.2 0 1.3 .1 1.3 0 1.2 .1 1.2 0 1.2 .1 1.1 0 1.1 .1 1 0 .9 .1 .9 0 .7 .1 .7 .1 1 .3-.6 0-1 .1-1.3 0-.7 .1-.7 0-.8 0-.9 0-.9 .1-.9 0-1 0-1 .1-1 0-1.1 0-1 0-1.2 .1-1.1 0-1.1 0-1.2 .1-1.1 0-1.2 0-1.1 0-1.2 .1-1.1 0-1.2 0-1.1 0-1.2 .1-1.1 0-1 0-1.1 .1-1 0-1 0-1 0-.9 .1-.9 0-.9 0-.8 0-.7 .1-.7 0-.6 .1-1.1 0-.9 .1-.7 .2 .8 .1 1.2 0 .7 .1 .8 0 .9 .1 .9 0 1 .1 1.1 0 1.1 0 1.1 .1 1.2 0 1.2 .1 1.2 0 1.3 .1 1.2 0 1.2 0 1.2 .1 1.2 0 1.2 .1 1.1 0 1.1 .1 1.1 0 .9 0 1 .1 .8 0 .8 .1 .6 .1 1.1 .1 .7 .3-1.1 0-.8 .1-1 .1-1.1 .1-1.2 .1-1.2 0-1.4 .1-1.3 .1-1.3 .1-1.3 .1-1.2 0-1.1 .1-1 .1-.8 .1-.6 .4 .8 0 .8 .1 .9 0 1 0 1.1 .1 1.3 0 1.3 .1 1.4 0 1.4 .1 1.5 0 1.5 .1 1.6 0 1.5 0 1.6 .1 1.5 0 1.5 .1 1.4 0 1.4 .1 1.3 0 1.2 .1 1.1 0 1 0 .9 .1 .7 .1 1 .2-.8 .1-.9 0-1.1 .1-.6 0-.8 0-.8 0-.8 .1-1 0-1 0-1 0-1.2 .1-1.2 0-.6 0-.6 0-.7 0-.6 0-.7 .1-.7 0-.7 0-.7 0-.7 0-.8 0-.7 .1-.8 0-.8 0-.8 0-.8 0-.8 0-.8 0-.8 .1-.9 0-.8 0-.9 0-.8 0-.9 0-.9 .1-.9 0-.9 0-.9 0-.9 0-1 0-.9 .1-.9 0-1 0-.9 0-1 0-1 0-1 0-.9 .1-1 0-1 0-1 0-1 0-1 0-1 .1-1 0-1 0-1 0-1 0-1.1 0-1 .1-1 0-1 0-1.1 0-1 0-1 0-1.1 0-1 .1-1 0-1 0-1.1 0-1 0-1 0-1.1 .1-1 0-1 0-1 0-1.1 0-1 0-1 0-1 .1-1 0-1 0-1 0-1 0-1 0-1 0-1 .1-1 0-.9 0-1 0-1 0-.9 0-1 0-.9 .1-1 0-.9 0-.9 0-.9 0-.9 0-.9 0-.9 .1-.9 0-.9 0-.8 0-.9 0-.8 0-.9 0-.8 0-.8 0-.8 .1-.8 0-.8 0-.7 0-.8 0-.7 0-.8 0-.7 0-.7 0-.7 .1-.7 0-.6 0-.7 0-.6 0-.6 0-.6 0-1.2 0-1.1 .1-1.1 0-.9 0-1 0-.8" stroke="#A5A5A5"/><path d="M45.5 221.9l1.2-1.1 1.2 1.5 1.4-1.5 1.4 1.6 1.5-1.4 1.1 1.6 1.3-1.4 1.2 1.7 1.1-1.4 1.2 1.4 1.1-1.4 1.4 1.4 1.3-.9 1.4 1.3 1.3-1.4 1.5 1.7 1.2-1.3 1.3 1.4 1.5-1.5 1.2 1.6 1.4-1.3 1.5 1.2 1.3-1.2 1.5 1.6 1.2-1.4 1.2 1.5 1.2-1.3 1.3 1.4 1.3-1.4 1.4 1.4 1-1.3 1.5 1.4 1.4-1.5 1.1 1.6 1.3-1.2 1.2 1.2 1.2-1.4 1.3 1.6 1.2-1.6 1.6 1.4 1.4-1 1.2 1.3 1.3-1.3 1 1.4 1.5-1.7 1.3 1.5 1.3-1.1 1.4 1 1.1-1.2 1.2 1.6 1.4-1.5 1.4 1.2 1.5-1 1.5 1.1 1.4-1.2 1.2 1.1 1.2-1.2 1.2 1.5 1.4-1.2 1.1 1.2 1.3-1.2 1.4 1.1 1.4-1.2 1.5 1 1.5-1.1 1.2 1.2 1.1-1.2 1.4 1.4 1.1-1.1 1.3 .9 1.2-.9 1.2 1.1 1.4-1.1 1.2 1 1.2-1.1 1 1.1 1.2-1.2 1.2 1.4 1.4-1.4 1.3 1.2 1.3-1 1.2 1.1 1.1-1.2 1.2 1.1 1.2-.9 1.3 1 1.6-1 1.3 1.1 1.2-1.2 1.3 1 1.3-1.1 1.5 1.4 1-1.4 1.5 1.2 1.1-1.1 1.3 1.3 1.2-1.4 1.4 1.2 1.4-1.2 1.4 1.2 1.1-1.1 1.4 1.2 1.2-1.2 1.4 1.1 1.4-1.1 1.5 1 1.6-1 1.1 1 1.2-1 1.4 1.1 1.4-1 1.4 1.1 1.5-1 1.1 .9 1.4-1.1 1.4 1 1.3-1 1.5 1 1-.9 1.2 1 1.4-1.1 1.3 1.3 1.5-1.1 1.2 .9 1.6-1 1.1 1.1 1.6-1 1.2 .9 1-1 1.1 1.2 1.4-1.1 1.4 1 1.1-1.1 1.5 1 1.5-.9 1 .8 1.6-.8 1.2 .8 1.2-.8 1.3 .8 1.1-.7 1.5 .9 1.2-1 1.2 .9 1.3-1 1.3 .9 1.4-.7 1.2 .7 1.3-.8 1.4 .8 1.4-.7 1.2 .8 1.3-.8 1.3 .8 1.5-1.1 1.4 1 1.4-.8 1.1 .9 1.2-.9 1.3 .8 1.5-.9 1.2 1.1 1.1-1.1 1.5 .9 1.5-.8 1.1 .9 1.3-1 1.5 .9 1.6-.9 1.4 .9 1.4-.8 1.2 .9 1.5-1 1.5 1 1.5-1 1.2 .8 1.2-.8 1.4 .8 1.2-.7 1.1 .8 1.2-.9 1.5 .8 1.1-.8 1.6 .9 1.1-.8 1.1 .7 1.1-.8 1.3 .8 1.4-.7 1.3 .6 1.6-.8 1.5 .9 1.1-.7 1.3 .7 1.3-.8 1.5 .8 1.5-.8 1.3 .8 1.2-.8 1.4 .8 1.1-.8 1.2 .7 1.3-.7 1.1 .8 1.1-.8 1.1 .8 1.2-.8 1.1 .7 1-.6 1.3 .5 1.3-.5 1.2 .5 1.3-.6 1.2 .7 1.1-.8 1.2 .7 1.4-.6 1.3 .8 1.3-.7 1.1 .6 1.4-.8 1.2 .9 1.4-.8 1.3 .6 1.3-.6 1.5 .6 1.3-.6 1.1 .5 1.4-.6 1.3 .6 1.5-.5 1.3 .5 1.1-.6 1.3 .7 1.4-.7 1.2 .7 1-.6 1.4 .6 1.4-.8 1.1 .7 1.4-.6 1.4 .6 1.4-.6 1.1 .5 1.5-.5 1.5 .5 1-.5 1.1 .5 1.4-.6 1.5 .6 1.1-.6 1.1 .5 1.2-.5 1.4 .6 1.1-.7 1.4 .6 1.2-.6 1.4 .6 1.1-.5 1.2 .4 1.1-.5 1.2 .4 1.4-.5 1.5 .5 1.4-.5 1.6 .4 1.2-.5 1.3 .4 1.2-.4 1.5 .4 1.1-.4 1.5 .4 1.2-.5 1.3 .4 1.1-.5 1.1 .5 1.2-.5 1.2 .3 1.1-.4 1.2 .4 1-.4 1.4 .3 1.5-.5 1.1 .4 1.1-.5 1.1 .4 1.1-.5 1.1 .4 1.1-.5 1.1 .4 1.3-.5 1.6 .4 1.3-.5 1.3 .2 1.3-.4 1.5 .3 1.2-.5 1.2 .3 1.2-.5 1.2 .3 1.4-.6 1.4 .3 1.2-.5 1.3 .3 1.5-.5 1.4 .1 1.2-.4 1.2 .2 1.5-.5 1.4 .2 1.5-.5 1.6 .1 1.5-.5 1.1 .2 1.5-.4 1.5 .1 1.5-.3 1.5 .1 1.4-.3 1.4 .1 1.1-.3 1.3 .1 1.2-.4 1.5 .2 1.4-.4 1.2 .2 1.4-.4 1.5 0 1.5-.3 1.3 .1 1.1-.4 1.3 .1 1.5-.3 1.2 .1 1.2-.3 1.2 .1 1.5-.4 1.1 .2 1.3-.4 1.2 .1 1.5-.3 1.1 .2 1.4-.4 1.2 .2 1.5-.3 1.6 .1 1.2-.3 1.4 .1 1.5-.3 1.2 .1 1.3-.2 1.3 0 1.4-.2 1.3 .1 1.5-.3 1.4 .1 1.5-.2 1.3 .1 1.4-.3 1.5 .1 1.3-.2 1.2 .1 1-.2 1.4 .1 1.2-.2 1.3 0 1.4-.2 1.2 .1 1.3-.2 1.3 0 1.3-.1 1.2 0 1.5-.2 1.4 .1 1.5-.2 1.5 0 1.1-.1 1.6 0 1.1-.2 1.1 .1 1.3-.2 1.3 0 1.5-.1 1.5 0 1.6-.1 1 0 1.3-.2 1.1 0 1.1-.1 1.6 0 1-.1 1.5 0 1.3-.1 1.1 0 1.4-.1 1.1 0 1-.1 1.1 0 1-.1 1.1 0 1-.1 1 0 1-.1 1 0 1 0 1-.1 1 0 .9-.1 .9 0 1 0 .9-.1 .9 0 .8 0 .9-.1 .9 0 .8 0 .8-.1 .8 0 .8 0 .7-.1 .8 0 .7 0 1.6-.1 1.6 0 1.5-.1 1.4 0 1.3-.1 1.3 0 1.2 0 1.2-.1 1.1 0 1.1-.1 1 0 1 0 .9 0 1-.1 .8 0 .9 0 .8 0 .9 0 .8 0 .8 0 .7 0 .8 0 .8 0 .8 0 .7 0 .8 .1 .8 0 .9 0 .8 .1 .9 0 .8 .1 1 0 .9 .1 1 0 1 .1 1.1 .1 .9 .1 1 .1 .9 0 1 .1 .9 .1 1 .1 1 .2 1 .1 1 .1 1 .1 1 .1 1 .2 1 .1 1 .2 1.1 .1 1 .2 1 .1 1.1 .2 1 .1 1.1 .2 1 .1 1.1 .2 1 .2 1 .1 1.1 .2 1 .2 1 .1 1.1 .2 1 .1 1 .2 1 .2 1.1 .1 1 .2 1 .1 1 .2 1 .1 .9 .2 1 .1 1 .2 .9 .1 1 .1 .9 .2 .9 .1 1.1 .1 1.1 .2 1.1 .1 1.1 .2 1 .1 1.1 .2 1 .1 1.1 .1 1 .2 1 .1 1 .1 1 .1 1 .2 1 .1 1 .1 1 .1 .9 .2 1 .1 1 .1 1 .1 .9 .2 1 .1 1 .1 1 .1 1 .1 .9 .2 1 .1 1 .1 1 .1 1 .2 1.1 .1 1 .1 1 .1 1 .2 1.1 .1 1 .1 1 .1 .9 .2 1 .1 1 .1 1 .1 1 .1 1 .2 1 .1 1 .1 1 .1 1 .1 1 .2 1.1 .1 1 .1 1 .1 1 .1 1 .1 1.1 .2 1 .1 1 .1 1 .1 1.1 .2 1 .1 1 .1 1 .1 1.1 .2 1 .1 1 .1 1 .1 1.1 .2 1 .1 1 .1 1 .2 1 .1 1.1 .1 1 .2 1 .1 1 .1 1 .2 1 .1 1 .1 1 .2 1 .1 1 .2 1 .1 1.1 .2 1 .1 1 .2 1 .1 1 .2 1.1 .1 1 .2 1 .1 1 .2 1.1 .1 1 .2 1 .1 1 .2 1 .1 1 .2 1 .1 1 .2 1 .1 1 .2 1 .1 1 .2 .9 .1 1 .2 .9 .2 1 .1 .9 .2 1 .1 .9 .2 .9 .1 .9 .2 .9 .1 1.1 .2 1.1 .2 1.2 .2 1.1 .2 1.1 .2 1.1 .2 1.1 .2 1.1 .2 1.1 .3 1.1 .2 1 .2 1.1 .2 1.1 .2 1 .2 1 .3 1.1 .2 1 .2 1 .2 1 .2 .9 .2 1 .1 .9 .2 .9 .2 .9 .1 .9 .2 .9 .1 .8 .2 .9 .1 .8 .1 .7 .1 .8 .1 1.5 .1 1.3 .1 1.3 0 1.1 0 1.1-.1 1 0 .9-.2 .9-.1 .9-.1 .8-.1 .9-.1 .9-.1 .9-.1 .9 0 1 0 1 .1 1.1 .1 1 .1 1 .2 1.1 .2 1 .2 1 .2 1.1 .2 1 .2 1 .2 1.1 .1 1 .1 1 .1 1.1 0 1-.1 1-.1 1-.2 .9-.3 1-.3 1.1-.3 1-.4 1-.4 .9-.4 1-.4 1-.4 1-.4 .9-.4 1-.3 .9-.3 .8-.2 .9-.2 1.2-.1 1.1 0 1.1 0 1.1 .2 1 .1 1 .2 1 .2 .9 .2 1 0 1.1 0 1-.1 1-.2 1-.4 1-.5 1-.5 1.1-.5 1-.6 1-.5 1-.5 1-.5 .9-.3 .9-.2 .9-.1 1.1 .2 1 .3 .9 .6 .9 .7 .9 .7 .8 .8 .9 .7 .9 .7 1 .6 .9 .4 .9 .2 .9 .2 1 .1 .9 .2 1 .2 1 .3 1 .5 1 .6 1.1 .9 1.1 1.1 .6 .7 .6 .7 .5 .7 .6 .8 .6 .8 .6 .8 .6 .9 .7 .8 .6 1 .6 .9 .6 .9 .6 1 .6 .9 .7 1 .6 1 .6 .9 .6 1 .6 .9 .5 .8 .5 .9 .6 .8 .5 .9 .5 .9 .6 .9 .5 .9 .5 1 .5 .9 .6 .9 .5 1 .5 .9 .6 .9 .5 1 .5 .9 .5 .9 .5 .9 .6 .9 .5 .9 .5 .8 .5 .9 .5 .8 .5 .8 .6 1 .6 1 .6 1 .6 1 .6 1.1 .6 1 .6 1 .6 1 .6 1 .6 1 .5 .9 .6 .8 .6 .8 .5 .7 .6 .7 1.1 1 1 .6 .9 .2 .8-.2 .8-.4 .8-.7 .8-.8 .7-1 .7-1.1 .8-1.1 .7-1.2 .7-1.1 .7-1 .5-.7 .5-.8 .5-.9 .4-.8 .5-.9 .5-.9 .4-1 .5-.9 .4-.9 .5-1 .4-.9 .5-.9 .5-.9 .6-.9 .5-.8 .6-.9 .7-.9 .7-1 .7-.9 .7-1 .7-1 .8-.9 .7-.9 .7-.8 .7-.8 .7-.7 .7-.6 .6-.5 1.8-1.1 1-.3 .9 0 .8 .4 1 .9 1.1 1.4 .8 1.1 .8 1.2 .4 .6 .5 .7 .4 .7 .4 .8 .5 .9 .5 .9 .4 .9 .5 1 .4 1.1 .5 1.1 .5 1.3 .5 1.3 .4 1.4 .5 1.4 .5 1.6 .2 .7 .2 .8 .2 .9 .2 .9 .2 1 .3 1 .2 1.1 .2 1.1 .2 1.1 .2 1.2 .2 1.2 .2 1.3 .3 1.2 .2 1.3 .2 1.3 .2 1.3 .2 1.3 .2 1.4 .3 1.3 .2 1.3 .2 1.3 .2 1.3 .3 1.3 .2 1.3 .2 1.2 .2 1.2 .2 1.2 .3 1.2 .2 1.1 .2 1.1 .2 1 .3 1 .2 .9 .2 .9 .2 .8 .2 .7 .3 .7 .4 1.1 .4 .8 .7 .5 .7-.4 .5-.7 .4-1.1 .3-.7 .2-.8 .2-.8 .3-.8 .2-1 .3-1 .2-1 .2-1.1 .3-1.2 .2-1.2 .2-1.2 .3-1.2 .2-1.3 .2-1.3 .3-1.3 .2-1.3 .3-1.3 .2-1.4 .2-1.3 .2-1.3 .3-1.3 .2-1.3 .2-1.3 .3-1.3 .2-1.2 .2-1.2 .2-1.2 .2-1.1 .3-1 .2-1.1 .2-.9 .2-1 .2-.8 .2-.8 .2-.7 .5-1.6 .5-1.5 .4-1.3 .5-1.3 .5-1.2 .4-1 .5-1 .4-.9 .4-.9 .4-.7 .4-.7 .4-.7 .4-.6 .8-1.2 .7-1 1.1-1.5 1.1-1 .9-.4 .9 .3 .8 .9 .5 .9 .4 .9 .4 1.2 .2 .7 .2 .8 .3 1 .2 1.1 .2 1.3 .3 1.4 .2 1.6 .4 1.9 .3 2.1 .1 .7 .1 .7 .1 .7 .2 .8 .1 .8 .1 .9 .2 .9 .1 .9 .1 1 .2 1 .1 1 .2 1.1 .1 1 .2 1.1 .2 1.2 .1 1.1 .2 1.1 .1 1.2 .2 1.2 .2 1.2 .1 1.2 .2 1.2 .2 1.2 .1 1.2 .2 1.2 .2 1.2 .1 1.2 .2 1.2 .2 1.2 .1 1.2 .2 1.1 .2 1.2 .1 1.2 .2 1.1 .1 1.1 .2 1.1 .1 1.1 .2 1 .1 1 .1 1 .2 1 .1 1 .1 .9 .1 .8 .2 .9 .1 .8 .1 .7 .1 .7 .1 .7 0 .6 .2 1.1 0 1.8 .3-3.1 .3-2.7 .3-2.5 .3-2.4 .3-2.4 .3-2.4 .3-2.2 .3-2.3 .3-2.2 .3-2.1 .3-2.2 .3-2.1 .3-2 .3-2 .3-1.9 .3-2 .3-1.8 .3-1.8 .3-1.8 .3-1.7 .3-1.7 .3-1.6 .3-1.5 .3-1.5 .3-1.5 .3-1.3 .3-1.3 .3-1.2 .3-1.2 .3-1.1 .3-1 .3-1 .3-.8 .3-.8 .3-.7 .3-.6 .6-1 .6-.7 .9-.2 .9 .5 .6 .9 .6 1.2 .3 .7 .3 .9 .3 1 .3 1 .3 1.2 .3 1.2 .3 1.4 .3 1.5 .3 1.5 .3 1.6 .3 1.8 .3 1.8 .3 1.9 .3 2.1 .3 2.1 .3 2.2 .3 2.3 .3 2.4 .3 2.4 .3 2.6 .3 2.6 .3 2.8 .3 2.8 .3 2.9 .3 3 .3 3.1 .3 3.2 .3 3.4 .3 3.6 .3 3 .3-4 .3-3.5 .3-3.3 .3-3.1 .3-3.1 .3-3 .3-3 .3-2.8 .3-2.8 .3-2.7 .3-2.7 .3-2.5 .3-2.5 .3-2.4 .3-2.3 .3-2.2 .3-2.1 .3-2.1 .3-1.9 .3-1.8 .3-1.7 .3-1.6 .3-1.4 .3-1.4 .3-1.2 .3-1 .3-1 .3-.8 .3-.7 .6-.9 .9-.2 .9 1.1 .3 .7 .3 .8 .3 1 .3 1.1 .3 1.4 .3 1.4 .3 1.6 .3 1.8 .3 2 .3 2 .3 2.3 .3 2.3 .3 2.6 .3 2.6 .3 2.8 .3 2.9 .3 3.1 .3 3.1 .3 3.4 .3 3.4 .3 3.6 .3 3.7 .3 3.8 .3 4 .3 4.3 .3 4.5 .3-5 .3-4.3 .3-4 .3-3.9 .3-3.8 .3-3.7 .3-3.5 .3-3.4 .3-3.3 .3-3.1 .3-3.1 .3-2.9 .3-2.7 .3-2.6 .3-2.5 .3-2.2 .3-2.2 .3-1.9 .3-1.7 .3-1.6 .3-1.4 .3-1.2 .3-1 .3-.7 .6-1 .9 .3 .6 1.3 .3 .9 .3 1.2 .3 1.5 .3 1.6 .3 1.9 .3 2 .3 2.3 .3 2.5 .3 2.7 .3 2.9 .3 3.1 .3 3.3 .3 3.5 .3 3.7 .3 3.8 .3 4 .3 4.2 .3 4.4 .3 4.6 .3 5 .3 4.2 .3-5.6 .3-4.9 .3-4.6 .3-4.4 .3-4.2 .3-4.1 .3-3.9 .3-3.7 .3-3.6 .3-3.4 .3-3.1 .3-3 .3-2.8 .3-2.5 .3-2.3 .3-2.1 .3-1.8 .3-1.5 .3-1.3 .3-.9 .3-.8 .9-.3 .6 1.2 .3 1.1 .3 1.3 .3 1.7 .3 1.9 .3 2.3 .3 2.5 .3 2.8 .3 3.1 .3 3.3 .3 3.6 .3 3.9 .3 4 .3 4.4 .3 4.5 .3 4.8 .3 5.1 .3 5.2 .3 5.8 .3-1.8 .3-5.9 .3-5.5 .3-5.2 .3-5 .3-4.7 .3-4.4 .3-4.2 .3-4 .3-3.6 .3-3.4 .3-3 .3-2.7 .3-2.4 .3-2.1 .3-1.6 .3-1.4 .3-1 .3-.6 .9 .5 .3 .9 .3 1.2 .3 1.6 .3 2 .3 2.3 .3 2.7 .3 3 .3 3.2 .3 3.6 .3 3.9 .3 4.1 .3 4.4 .3 4.7 .3 4.9 .3 5.2 .3 5.5 .3 1.7 .3-6.1 .3-5.5 .3-5.2 .3-4.8 .3-4.5 .3-4.3 .3-4 .3-3.8 .3-3.4 .3-3 .3-2.8 .3-2.3 .3-2 .3-1.6 .3-1.2 .3-.7 .9 .2 .3 .8 .3 1.1 .3 1.6 .3 2 .3 2.5 .3 2.8 .3 3.3 .3 3.7 .3 4.1 .3 4.4 .3 4.8 .3 5.2 .3 5.6 .3 6.1 .3 12 .3-7.8 .3-7 .3-6.9 .3-6.5 .3-6.1 .3-5.6 .3-5.2 .3-4.8 .3-4.2 .3-3.7 .3-3.2 .3-2.6 .3-2.1 .3-1.5 .3-.8 .9 .9 .3 1.4 .3 2 .3 2.6 .3 3.1 .3 3.5 .3 4.1 .3 4.5 .3 4.8 .3 5.3 .3 5.6 .3 6.1 .3 6.7 .3-3.7 .3-7.1 .3-6.5 .3-6.1 .3-5.6 .3-5.3 .3-4.8 .3-4.3 .3-3.8 .3-3.3 .3-2.8 .3-2.1 .3-1.6 .3-1 .9 .8 .3 1.5 .3 2 .3 2.6 .3 3.1 .3 3.7 .3 4.1 .3 4.6 .3 5 .3 5.4 .3 5.8 .3 6.5 .3-7.1 .3-6.7 .3-6.1 .3-5.6 .3-5.1 .3-4.6 .3-4.1 .3-3.6 .3-3 .3-2.4 .3-1.8 .3-1.3 .3-.6 .9 1.4 .3 1.6 .3 2.1 .3 2.5 .3 2.9 .3 3.3 .3 3.6 .3 3.9 .3 4.2 .3 4.5 .3 2 .3-6.1 .3-5 .3-4.4 .3-4.2 .3-4 .3-3.5 .3-3.2 .3-2.7 .3-2.1 .3-1.6 .3-.9 .9 1.3 .3 1.9 .3 2.7 .3 3.4 .3 4.2 .3 4.9 .3 5.6 .3 6.3 1.1-34.4 0-.9 0-1 .1-1 0-1.2 0-.7 0-.6 0-.7 0-.7 0-.7 .1-.8 0-.7 0-.8 0-.8 0-.8 0-.9 0-.8 .1-.9 0-.9 0-.9 0-.9 0-1 0-.9 .1-1 0-1 0-1 0-1 0-1 0-1 .1-1 0-1.1 0-1 0-1.1 0-1.1 0-1.1 .1-1 0-1.1 0-1.1 0-1.1 0-1.1 .1-1.1 0-1.1 0-1.2 0-1.1 0-1.1 .1-1.1 0-1.1 0-1.1 0-1.1 0-1.1 .1-1.1 0-1.1 0-1.1 0-1.1 0-1.1 .1-1.1 0-1.1 0-1.1 0-1 .1-1.1 0-1 0-1.1 0-1 0-1 .1-1 0-1 0-1 0-.9 0-1 .1-.9 0-.9 0-1 0-.9 .1-.8 0-.9 0-.8 0-.8 0-.8 .1-.8 0-.8 0-.7 0-.8 0-.7 .1-.6 0-.7 0-.6 0-.6 .1-1.1 0-1.1 0-.9 .1-.8 0-.7 .1-.7 .1-.7 .1 .8 .1 .8 0 .7 .1 .8 0 .9 0 1.1 .1 1.1 0 1.2 0 .6 0 .7 .1 .7 0 .7 0 .7 0 .8 0 .7 .1 .8 0 .8 0 .8 0 .9 0 .8 0 .9 .1 .9 0 .9 0 .9 0 .9 0 1 .1 .9 0 1 0 1 0 1 0 1 0 1 .1 1 0 1 0 1.1 0 1 0 1.1 .1 1 0 1.1 0 1.1 0 1 0 1.1 .1 1.1 0 1.1 0 1.1 0 1.1 0 1.1 0 1.1 .1 1.1 0 1.1 0 1 0 1.1 0 1.1 .1 1.1 0 1.1 0 1.1 0 1.1 0 1 0 1.1 .1 1.1 0 1 0 1.1 0 1 0 1.1 .1 1 0 1 0 1 0 1 0 1 0 1 .1 1 0 .9 0 1 0 .9 0 .9 .1 .9 0 .9 0 .9 0 .8 0 .9 0 .8 .1 .8 0 .8 0 .7 0 .8 0 .7 .1 .7 0 .7 0 .6 0 .7 0 .6 .1 1.2 0 2.1 .1 1.6 .1 1.5 0 1.4 .1 1.4 0 1.3 .1 1.2 0 1.2 .1 1.2 0 1.1 .1 1 .1 1 0 1 .1 .9 0 .8 .1 .8 0 .8 .1 .7 0 .7 .1 .7 .1 .6 .1 1.2 .1 1 .1 .9 .1 .8 .1 .7 .1 .7 .3 1.1 .3-1 .2-1.2 .1-1.4 .2-1.6 .2-1.5 .1-1.3 .2-1 .6 1 .1 .8 .1 .9 .1 1.1 .1 1.1 .1 1.1 0 1.2 .1 1.3 .1 1.2 .1 1.3 .1 1.2 .1 1.1 .1 1.1 .1 1 .1 .9 0 .8 .1 .7 .2 .7 .4-.9 .1-1.1 0-.6 .1-.8 0-.8 .1-.8 0-1 .1-.9 .1-1 0-1.1 .1-1.1 0-1.1 .1-1.1 0-1.2 .1-1.1 0-1.2 .1-1.1 .1-1.1 0-1.1 .1-1.1 0-1.1 .1-1 0-1 .1-.9 0-.9 .1-.8 0-.8 .1-.7 0-.6 .2-.9 .2-.7 .2 .9 .1 .6 .1 .9 .1 .9 .1 1.1 .1 1.1 0 1.2 .1 1.3 .1 1.2 .1 1.3 .1 1.2 .1 1.1 0 1.1 .1 1 .1 .9 .1 .7 .2 .9 .4-.9 .3-1.6 .2-1.8 .2-1.7 .2-1.2 .6 .9 .1 1 0 .6 .1 .7 0 .8 .1 .8 0 .9 .1 .9 0 1 .1 1 0 1.1 .1 1.1 0 1.1 .1 1.1 0 1.2 .1 1.2 0 1.2 .1 1.1 .1 1.2 0 1.2 .1 1.1 0 1.2 .1 1.1 0 1 .1 1.1 0 1 .1 .9 0 .9 .1 .9 0 .8 .1 .7 0 .6 .1 1.1 .1 .7 .4-.8 0-.9 .1-1.2 0-.7 0-.7 .1-.7 0-.8 0-.9 .1-.8 0-1 0-.9 .1-1 0-1 0-1.1 0-1.1 .1-1 0-1.2 0-1.1 .1-1.1 0-1.2 0-1.1 .1-1.2 0-1.2 0-1.2 0-1.1 .1-1.2 0-1.2 0-1.1 .1-1.2 0-1.1 0-1.1 0-1.1 .1-1.1 0-1 0-1 .1-1 0-1 0-.9 0-.9 .1-.8 0-.8 0-.7 .1-.7 0-.7 .1-1.1 0-.9 .1-.7 .3 .9 .1 1.1 0 .7 .1 .7 0 .7 0 .9 .1 .8 0 1 .1 .9 0 1 0 1.1 .1 1.1 0 1.1 .1 1.1 0 1.2 0 1.2 .1 1.2 0 1.2 .1 1.2 0 1.2 0 1.3 .1 1.2 0 1.2 .1 1.2 0 1.2 0 1.2 .1 1.2 0 1.1 .1 1.1 0 1.1 0 1.1 .1 1 0 1 .1 .9 0 .9 0 .8 .1 .8 0 .7 .1 .6 0 1.1 .1 .8 .4-.8 .1-1 0-1.3 .1-.7 0-.7 0-.8 .1-.8 0-.9 0-.9 .1-.9 0-1 0-1 .1-1.1 0-1 0-1.1 .1-1.1 0-1.1 0-1.1 .1-1.2 0-1.1 0-1.2 .1-1.2 0-1.1 0-1.2 .1-1.2 0-1.1 0-1.1 .1-1.2 0-1.1 0-1.1 .1-1.1 0-1 0-1.1 .1-1 0-1 0-.9 .1-.9 0-.9 .1-.8 0-.8 0-.7 .1-.7 0-.7 .1-1.1 0-.9 .1-.6 .4 1 .1 .7 .1 .9 0 1 .1 1 .1 1.2 0 1.2 .1 1.2 .1 1.3 0 1.3 .1 1.4 .1 1.3 0 1.3 .1 1.3 .1 1.3 0 1.2 .1 1.2 .1 1.1 0 .9 .1 .9 .1 .8 0 .7 .2 .8 .3-1 .1-1.3 .1-.7 0-.9 .1-.9 0-.9 .1-1.1 0-1.1 .1-1.1 .1-1.1 0-1.2 .1-1.2 0-1.3 .1-1.2 0-1.2 .1-1.3 0-1.2 .1-1.2 0-1.2 .1-1.1 0-1.1 .1-1 .1-1 0-.9 .1-.9 0-.8 .1-.7 .1-1.1 .1-.6 .3 .6 0 .8 .1 1.1 0 .6 .1 .6 0 .8 .1 .7 0 .8 0 .9 .1 .9 0 .9 0 1 .1 1 0 1 .1 1 0 1.1 0 1.1 .1 1.1 0 1.1 0 1.2 .1 1.1 0 1.2 .1 1.1 0 1.2 0 1.1 .1 1.2 0 1.1 0 1.1 .1 1.1 0 1.1 0 1.1 .1 1.1 0 1 .1 1 0 1 0 .9 .1 .9 0 .9 0 .8 .1 .8 0 .7 .1 .7 0 .6 .1 1.1 0 .9 .2 .7 .2-.7 .1-1 .1-.6 0-.7 .1-.7 0-.8 0-.9 .1-.9 0-1 .1-1 0-1 .1-1.1 0-1.1 .1-1.1 0-1.2 .1-1.2 0-1.2 .1-1.2 0-1.2 .1-1.2 0-1.2 0-1.2 .1-1.1 0-1.2 .1-1.1 0-1.1 .1-1.1 0-1 .1-1 0-.9 .1-.9 0-.8 .1-.8 0-.7 .1-.7 0-1 .1-.7 .5 .7 .1 .7 .1 .8 0 .9 .1 1 .1 1.1 .1 1.2 .1 1.2 .1 1.2 0 1.3 .1 1.3 .1 1.2 .1 1.2 .1 1.2 0 1.1 .1 1.1 .1 .9 .1 .9 .1 .7 .1 1.1 .6-.7 .1-1 .2-1.2 .1-1.3 .2-1.4 .1-1.5 .2-1.3 .1-1.2 .2-.9 .1-.7 .5 1 .1 .6 .1 .7 .1 .8 0 .9 .1 1 .1 1 .1 1 0 1.1 .1 1.1 .1 1.2 .1 1.1 0 1.1 .1 1.2 .1 1.1 .1 1 0 1 .1 1 .1 .9 .1 .8 0 .7 .1 .7 .1 .9 .5-1.1 .1-.9 .1-1 .1-1.2 0-1.2 .1-1.3 .1-1.3 .1-1.4 0-1.4 .1-1.3 .1-1.2 .1-1.2 0-1 .1-.9 .1-.7 .1-.8 .3 .7 .1 1 .1 1.2 0 .8 0 .8 .1 .9 0 .9 .1 1 0 1 .1 1.1 0 1.1 0 1.1 .1 1.2 0 1.1 .1 1.2 0 1.2 .1 1.2 0 1.2 .1 1.2 0 1.2 0 1.2 .1 1.2 0 1.1 .1 1.1 0 1 .1 1 0 1 .1 .9 0 .9 0 .8 .1 .7 0 .6 .1 1.1 .1 .7 .3-.9 .1-.8 0-1.1 .1-1.2 0-.7 0-.7 .1-.8 0-.8 0-.8 .1-.9 0-.9 0-.9 .1-1 0-1 0-1 0-1 .1-1.1 0-1.1 0-1 .1-1.1 0-1.2 0-1.1 .1-1.1 0-1.1 0-1.2 .1-1.1 0-1.1 0-1.2 0-1.1 .1-1.1 0-1.1 0-1.1 .1-1.1 0-1.1 0-1 .1-1.1 0-1 0-1 0-.9 .1-1 0-.9 0-.9 .1-.8 0-.8 0-.8 .1-.7 0-.7 0-.7 0-.6 .1-1.1 .1-.8 0-.7 .2-.6 .2 1 0 .6 .1 .8 .1 .8 0 .9 .1 1 0 1.1 .1 1.2 0 1.1 .1 1.3 0 1.2 .1 1.3 .1 1.3 0 1.2 .1 1.3 0 1.2 .1 1.2 0 1.2 .1 1 0 1 .1 1 .1 .8 0 .7 .1 .6 .1 .9 .5-1.2 .1-1.5 .2-1.7 .2-1.7 .1-1.4 .2-.9 .4 .7 .1 .9 0 .7 .1 .7 0 .7 .1 .9 0 .9 .1 .9 0 1 .1 1.1 0 1.1 .1 1.1 0 1.1 .1 1.2 .1 1.1 0 1.2 .1 1.2 0 1.2 .1 1.1 0 1.2 .1 1.1 0 1.1 .1 1.1 0 1 .1 1 0 .9 .1 .9 0 .8 .1 .7 0 .7 .1 1 .1 .7 .3-.8 .1-.9 .1-1.3 0-.7 .1-.8 0-.8 .1-.9 0-.9 0-1 .1-1 0-1 .1-1.1 0-1.1 0-1.1 .1-1.1 0-1.2 0-1.1 .1-1.2 0-1.2 .1-1.1 0-1.2 0-1.2 .1-1.1 0-1.1 .1-1.1 0-1.1 0-1.1 .1-1 0-1 0-.9 .1-1 0-.8 .1-.8 0-.8 0-.7 .1-.6 0-1.1 .1-.7 .4 .9 .1 .7 0 .7 .1 .9 0 .9 .1 1 0 1 .1 1.1 0 1.2 .1 1.1 0 1.2 .1 1.2 0 1.2 .1 1.2 0 1.2 .1 1.2 0 1.1 .1 1.1 0 1.1 .1 1 0 .9 .1 .8 .1 .8 0 .7 .1 1 .3 .7 .3-1 .2-1.1 .2-1.4 .1-1.5 .2-1.4 .2-1.4 .2-1.1 .2-.7 .6 1.2 .1 .8 .2 1 .1 1.1 .1 1.1 .2 1.1 .1 1.2 .1 1 .2 1 .1 .8 .2 .7 .3 .6 .3-.6 .2-.8 .2-1.1 .2-1.2 .2-1.3 .1-1.2 .2-1.2 .2-1 .2-.8 .7 .9 .1 .9 .1 1.1 .2 1.1 .1 1.2 .1 1.3 .1 1.2 .1 1.2 .1 1.1 .1 1 .2 .9 .1 .7 .2 .6 .3-.7 .2-.8 .1-.9 .2-1.2 0-.6 .1-.7 .1-.7 .1-.8 0-.9 .1-.8 .1-1 0-.9 .1-1 .1-1.1 .1-1.1 0-1.1 .1-1.2 .1-1.2 0-1.2 .1-1.3 .1-1.3 0-1.4 .1-1.2 0-.7 0-.6 .1-.7 0-.8 0-.7 0-.8 .1-.8 0-.9 0-.8 0-.9 .1-.9 0-.9 0-.9 0-.9 .1-1 0-1 0-.9 0-1 .1-1 0-1 0-1 0-1.1 .1-1 0-1 0-1 0-1.1 0-1 .1-1 0-1 0-1.1 0-1 .1-1 0-1 0-1 0-1 .1-.9 0-1 0-.9 0-1 .1-.9 0-.9 0-.9 0-.8 .1-.9 0-.8 0-.8 0-.8 .1-.7 0-.8 0-.7 0-.6 .1-.7 0-.6 .1-1.1 0-1 .1-.8 0-.7 .2-.9 .5 .8 .2 1.2 .1 .7 .1 .8 .1 .9 0 .9 .1 1 .1 1 .1 1.1 .1 1.1 .1 1.2 .1 1.1 .1 1.3 0 1.2 .1 1.2 .1 1.3 .1 1.2 .1 1.3 .1 1.2 0 1.2 .1 1.2 .1 1.2 .1 1.1 0 .7 0 .7 .1 .7 0 .8 .1 .8 0 .8 0 .9 .1 .9 0 .9 0 .9 .1 1 0 1 .1 1 0 1.1 0 1 .1 1.1 0 1 0 1.1 .1 1.1 0 1.1 0 1.1 .1 1.1 0 1.1 0 1.1 .1 1 0 1.1 0 1.1 .1 1.1 0 1 0 1 0 1 .1 1 0 1 0 1 .1 .9 0 .9 0 .8 .1 .9 0 .8 0 .8 .1 .7 0 .7 0 .6 .1 .6 0 1.1 .1 .9 .1 .6 .1 .6 .2-.7 .1-.9 0-.8 .1-1 .1-1 0-1.2 0-.7 .1-.6 0-.7 0-.8 .1-.7 0-.8 0-.8 .1-.8 0-.8 0-.9 .1-.9 0-.9 0-.9 0-.9 .1-1 0-.9 0-1 .1-1 0-1 0-1 .1-1 0-1.1 0-1 .1-1.1 0-1 0-1.1 .1-1 0-1.1 0-1.1 .1-1 0-1.1 0-1.1 .1-1.1 0-1 0-1.1 .1-1.1 0-1 0-1.1 .1-1 0-1 0-1.1 .1-1 0-1 0-1 .1-1 0-.7 0-.7 .1-.7 0-.8 0-.8 0-.8 .1-.8 0-.8 0-.9 0-.8 .1-.9 0-.9 0-.9 0-.9 .1-1 0-.9 0-1 .1-.9 0-1 0-1 .1-1 0-1 0-1 0-1.1 .1-1 0-1 0-1.1 .1-1 0-1.1 0-1 .1-1.1 0-1 0-1.1 0-1 .1-1.1 0-1 0-1.1 .1-1 0-1.1 0-1 .1-1 0-1.1 0-1 0-1 .1-1 0-1 0-1 .1-1 0-1 0-.9 .1-1 0-.9 0-1 0-.9 .1-.9 0-.9 0-.8 .1-.9 0-.8 0-.9 0-.8 .1-.7 0-.8 0-.8 .1-.7 0-.7 0-.7 0-.6 .1-.7 0-.6 0-1.1 .1-1.1 0-.9 .1-.8 0-.7 .1-.8 .1-.6 .2 .6 0 .6 .1 .8 0 1 0 1.1 .1 .7 0 .6 0 .7 0 .7 0 .8 0 .8 .1 .8 0 .8 0 .9 0 .9 0 .9 0 .9 .1 1 0 1 0 1 0 1 0 1 0 1.1 0 1 .1 1.1 0 1.1 0 1.1 0 1.1 0 1.1 0 1.1 0 1.1 .1 1.1 0 1.1 0 1.1 0 1.1 0 1.1 0 1.1 0 1.1 .1 1.1 0 1.1 0 1.1 0 1.1 0 1 0 1.1 .1 1 0 1 0 1 0 .9 0 1 0 .9 .1 .9 0 .9 0 .9 0 .8 0 .8 .1 .8 0 .7 0 .7 0 .7 .1 .6 0 1.2 0 1.1 .1 1.2 0 1.1 .1 1.2 0 1.2 .1 1.2 0 1.2 0 1.1 .1 1.2 0 1.2 .1 1.1 0 1.2 .1 1.1 0 1.1 .1 1.1 0 1 .1 1 0 1 .1 1 0 .9 .1 .9 .1 .9 0 .8 .1 .7 0 .8 .1 .6 0 .6 .1 1.1 .1 .8 .2 .7 .3-.8 .1-.8 .1-1.1 0-.6 0-.7 .1-.7 0-.8 0-.8 .1-.9 0-.9 .1-.9 0-1 0-1 .1-1 0-1.1 .1-1 0-1.2 0-1.1 .1-1.1 0-1.2 .1-1.1 0-1.2 0-1.2 .1-1.1 0-1.2 .1-1.2 0-1.1 0-1.2 .1-1.1 0-1.2 0-1.1 .1-1.1 0-1.1 .1-1 0-1 0-1 .1-1 0-.9 .1-.9 0-.8 0-.8 .1-.8 0-.7 0-.6 .1-1.2 .1-.9 .1-.6 .3 .8 .1 1 0 1.2 .1 .7 0 .7 .1 .8 0 .8 0 .9 .1 .9 0 1 0 .9 .1 1.1 0 1 0 1.1 .1 1.1 0 1.1 0 1.1 .1 1.1 0 1.2 0 1.2 .1 1.1 0 1.2 0 1.1 .1 1.2 0 1.1 .1 1.2 0 1.1 0 1.1 .1 1.1 0 1.1 0 1 .1 1 0 1 0 1 .1 .9 0 .9 0 .8 .1 .8 0 .7 0 .7 .1 .7 0 1.1 .1 .8 .2 1 .5-1.4 .1-1.1 .1-1.3 .1-1.4 .2-1.4 .1-1.5 .1-1.4 .1-1.3 .1-1.1 .2-.9 .1-.7 .6 1.1 .1 1 .2 1.2 .1 1.3 .2 1.2 .1 1.3 .2 1.2 .1 1 .1 .8 .3 .6 .3-.7 .1-.8 .1-1.1 .1-1.2 .2-1.2 .1-1.4 .1-1.3 .1-1.3 .1-1.1 .2-.9 .1-.7 .5 1 .1 1.1 0 .6 0 .7 .1 .8 0 .8 .1 .8 0 .9 .1 1 0 .9 .1 1 0 1 .1 1.1 0 1 0 1.1 .1 1 0 1.1 .1 1 0 1.1 .1 1 0 1 .1 1 0 1 .1 .9 0 .9 0 .8 .1 .8 0 .8 .1 .7 0 .7 .1 1 .1 .8 .3 .8 .2-.7 .3-1.7 .3-1.9 .3-1.8 .2-.9 .3 .8 .1 1.1 .1 .6 .1 .7 0 .8 .1 .9 0 .9 .1 .9 0 1 .1 1.1 0 1 .1 1.1 0 1.1 .1 1.1 0 1.1 .1 1.1 0 1 .1 1.1 0 1 .1 .9 0 1 .1 .8 0 .8 .1 .8 .1 .7 .1 1 .1 .7 .4-1.1 .1-.9 .1-.9 .1-1.1 .1-1.2 .1-1.3 .1-1.3 .1-1.4 .1-1.3 .1-1.3 .1-1.2 .1-1.1 .1-1.1 .1-.8 .1-.8 .2-.8 .3 .7 .1 .8 .1 1.2 .1 .6 0 .7 .1 .8 0 .8 .1 .9 0 .9 .1 .9 0 1 .1 1 0 1 .1 1.1 0 1 0 1.1 .1 1.1 0 1.1 .1 1.1 0 1.1 .1 1 0 1.1 .1 1.1 0 1 .1 1 0 1 .1 .9 0 .9 .1 .9 0 .8 .1 .8 0 .7 .1 .7 0 .6 .1 1 .1 .8 .2 .6 .5-1.4 .2-1.1 .1-1.4 .2-1.5 .2-1.4 .1-1.3 .2-1.1 .2-.7 .7 1.2 .1 1 .2 1.2 .2 1.2 .2 1.2 .1 1 .2 .9 .2 .6 .6-.7 .2-1.1 .2-1.3 .2-1.3 .3-1.2 .2-.8 .6 1 .2 1.2 .2 1.4 .2 1.4 .2 1.4 .2 1.1 .2 .8 .5-.9 .2-1.1 0-.6 .1-.8 .1-.7 0-.9 .1-.9 0-.9 .1-1 .1-1 0-1.1 .1-1 0-1.1 .1-1 .1-1.1 0-1 .1-1 .1-1 0-1 .1-.9 0-.9 .1-.8 .1-.8 0-.7 .1-.6 .1-1.1 .9 2.4 .4 3.2 .4 1.2 .5-2.8 0-.8 .1-1 0-1.2 .1-.6 0-.7 0-.7 0-.7 .1-.7 0-.8 0-.8 .1-.9 0-.8 0-.9 .1-.9 0-1 0-.9 0-1 .1-1 0-1 0-1 .1-1 0-1.1 0-1 .1-1.1 0-1.1 0-1.1 .1-1.1 0-1.1 0-1.1 0-1.1 .1-1.1 0-1.1 0-1.1 .1-1.1 0-1.1 0-1.1 .1-1.1 0-1 0-1.1 .1-1.1 0-1 0-1.1 0-1 .1-1 0-1 0-1 .1-.9 0-1 0-.9 .1-.9 0-.9 0-.8 .1-.8 0-.8 0-.8 0-.8 .1-.7 0-.6 0-.7 .1-.6 0-1.1 .1-.9 0-.8 .1-.6 .1-.7 .2 .8 .1 .7 0 1 .1 1.2 0 .7 0 .7 .1 .8 0 .8 0 .8 .1 .9 0 .9 0 .9 .1 1 0 1 0 1 0 1.1 .1 1.1 0 1.1 0 1.1 .1 1.1 0 1.1 0 1.2 0 1.2 .1 1.1 0 1.2 0 1.2 .1 1.1 0 1.2 0 1.2 0 1.1 .1 1.2 0 1.1 0 1.1 .1 1.1 0 1.1 0 1.1 .1 1 0 1 0 1 0 1 .1 1 0 .9 0 .8 .1 .9 0 .7 0 .8 .1 .7 0 .7 0 .6 .1 1 0 .9 .2 1.2 .4-.9 .2-1.2 .1-1.4 .2-1.7 .1-1.7 .1-1.7 .2-1.6 .1-1.4 .2-1.1 .1-.7 .4 .9 .1 1 0 1.2 .1 .7 0 .8 .1 .8 0 .8 .1 .9 0 .9 0 1 .1 1 0 1 .1 1.1 0 1 .1 1.1 0 1.1 0 1.1 .1 1.1 0 1.1 .1 1.1 0 1 0 1.1 .1 1.1 0 1 .1 1 0 1 .1 1 0 .9 0 .9 .1 .8 0 .8 .1 .7 0 .7 .1 .6 0 1.1 .1 .8 .2 .6 .3-1 .1-.9 .2-1.1 .1-1.3 .1-1.4 .1-1.4 .1-1.4 .2-1.4 .1-1.3 .1-1.1 .1-1 .1-.7 .5 .6 .1 .7 .1 .9 .1 1 .1 1.1 .1 1.2 .1 1.2 .1 1.2 .1 1.3 .1 1.2 0 1.1 .1 1.2 .1 1 .1 .9 .1 .7 .1 .6 .2 .7 .3-1 .1-1.3 .1-.8 .1-.9 .1-1 0-1.1 .1-1.1 .1-1.1 .1-1.2 0-1.2 .1-1.2 .1-1.2 .1-1.2 0-1.2 .1-1.1 .1-1 0-1 .1-.9 .1-.8 .1-.7 .1-1.1 .5 .7 .1 1.3 .1 .8 0 .8 .1 .9 0 1 .1 1 .1 1.1 0 1.1 .1 1.2 0 1.1 .1 1.2 .1 1.2 0 1.2 .1 1.1 0 1.2 .1 1.1 .1 1.1 0 1.1 .1 1 0 .9 .1 .9 0 .8 .1 .7 .1 .6 .1 .9 .5-1 0-.8 .1-.9 .1-1 0-1 .1-1.1 .1-1.2 0-1.2 .1-1.2 .1-1.3 .1-1.1 0-1.2 .1-1.1 .1-1 0-.9 .1-.9 .1-.7 .1-1 .4 .7 .1 .8 .2 1.1 .1 1.2 .1 1.2 .1 1.3 .1 1.3 .1 1.3 .2 1.1 .1 .9 .1 .8 .6-1.2 .2-.9 .1-.9 .1-1.1 .1-1 .1-1.2 .1-1.1 .1-1.1 .1-1.1 .1-1 .1-.9 0-.8 .1-.7" stroke="#FFC000"/><path d="M143.2 205.0l1 0 1.2 0 1.2 0 .6 0 .6 0 .7 0 .7 0 .7 0 .7 0 .7 0 .7-.1 .8 0 .8 0 .8 0 .8 0 .8 0 .8 0 .9 0 .8 0 .9 0 .9 0 .9 0 .9 0 .9 0 .9 0 1 0 1-.1 .9 0 1 0 1 0 1 0 1 0 1 0 1.1 0 1 0 1 0 1.1 0 1.1 0 1 0 1.1-.1 1.1 0 1.1 0 1.1 0 1.1 0 1.1 0 1.1 0 1.1 0 1.2 0 1.1 0 1.1 0 1.2 0 1.1 0 1.2-.1 1.1 0 1.2 0 1.2 0 1.1 0 1.2 0 1.2 0 1.1 0 1.2 0 1.2 0 1.2 0 1.1 0 1.2 0 1.2 0 1.2 0 1.1 0 1.2 0 1.2 0 1.2-.1 1.1 0 1.2 0 1.2 0 1.1 0 1.2 0 1.2 0 1.1 0 1.2 0 1.1 0 1.2 0 1.1 0 1.1 0 1.2 0 1.1 0 1.1 0 1.1 0 1.1 0 1.1 0 1.1 0 1.1 0 1.1 0 1.1 0 1 0 1.1 .1 1 0 1.1 0 1 0 1 0 1 0 1 0 1 0 1 0 1 0 1.1 0 1 0 1.1 0 1 0 1.1 .1 1 0 1.1 0 1 0 1.1 0 1.1 0 1 0 1.1 0 1.1 .1 1 0 1.1 0 1.1 0 1.1 0 1.1 0 1 0 1.1 0 1.1 .1 1.1 0 1.1 0 1.1 0 1 0 1.1 0 1.1 .1 1.1 0 1.1 0 1.1 0 1 0 1.1 0 1.1 .1 1.1 0 1.1 0 1.1 0 1 0 1.1 .1 1.1 0 1.1 0 1 0 1.1 0 1.1 .1 1 0 1.1 0 1.1 0 1 0 1.1 .1 1.1 0 1 0 1.1 0 1 .1 1 0 1.1 0 1 0 1.1 0 1 .1 1 0 1 0 1 0 1.1 .1 1 0 1 0 1 0 1 .1 1 0 .9 0 1 0 1 .1 1 0 .9 0 1 0 .9 .1 1 0 .9 0 .9 .1 1 0 .9 0 .9 0 .9 .1 .9 0 .9 0 .9 0 .9 .1 .8 0 .9 0 .9 .1 .8 0 .9 0 .8 0 .8 .1 .8 0 .8 0 .8 .1 .8 0 .8 0 .8 0 .7 .1 .8 0 1.5 .1 1.4 0 1.4 .1 1.4 0 1.4 .1 1.3 .1 1.3 0 1.3 .1 1.2 .1 1.2 .1 1.2 0 1.2 .1 1.1 .1 1.1 .1 1.1 0 1.1 .1 1 .1 1 .1 1 .1 1 0 1 .1 1 .1 .9 .1 .9 .1 .9 0 .9 .1 .9 .1 .9 .1 .9 .1 .8 0 .9 .1 .8 .1 .9 .1 .8 .1 .8 .1 .9 0 .8 .1 .8 .1 .8 .1 .8 .1 .9 0 .8 .1 .8 .1 .8 .1 .9 0 .8 .1 .8 .1 .9 .1 .8 0 .9 .1 1.2 .1 1.1 .1 1.2 .1 1.1 .1 1.2 .1 1.1 .1 1.2 0 1.1 .1 1.1 .1 1.1 .1 1.1 .1 1.1 .1 1 .1 1.1 .1 1.1 .1 1 0 1 .1 1.1 .1 1 .1 1 .1 1 .1 1 .1 .9 0 1 .1 .9 .1 1 .1 .9 .1 .9 0 .9 .1 .8 .1 .9 .1 .9 0 .8 .1 .8 .1 .8 .1 .8 0 .8 .1 1.4 .1 1.2 .1 1.1 .1 1 .1 1 .1 .8 .1 .8 0 .8 .1 .8 .1 .7 .1 .8 0 .8 .1 .8 .1 .8 .1 1 .1 1 .1 1.1 .1 1.2 .2 1.4 .1 1.5 .2 .7 .1 .8 .1 .7 .1 .8 .1 .8 .1 .7 .1 .8 .1 .8 .1 .8 .1 .9 .1 .8 .1 .8 .1 .9 .2 .9 .1 .8 .1 .9 .1 .9 .1 .9 .2 1 .1 .9 .1 1 .2 1 .1 .9 .1 1 .2 1.1 .1 1 .1 1.1 .2 1 .1 1.1 .1 1.1 .2 1.1 .1 1.2 .2 1.1 .1 1.2 .1 1.2 .2 1.2 .1 1.3 .2 1.2 .1 1.3 .1 1.3 .2 1.3 .1 1.3 .2 1.4 .1 .8 .1 .8 .1 .8 0 .9 .1 .8 .1 .9 .1 .9 .1 .9 .1 .9 .1 .9 .1 1 .1 .9 .1 1 .1 .9 .1 1 .1 1 .1 1 .1 1 .1 1.1 .1 1 .1 1 .1 1.1 .1 1 .1 1.1 .1 1 .1 1.1 .1 1.1 .1 1.1 .1 1 .1 1.1 .1 1.1 .1 1.1 .1 1.1 .1 1.1 .1 1.1 .1 1.1 .1 1.1 .1 1.1 .1 1.1 .1 1.1 .1 1.1 .1 1.1 .1 1.1 .1 1.1 .1 1.1 .1 1.1 .1 1.1 .1 1.1 .1 1.1 .1 1 .1 1.1 .1 1.1 .1 1 0 1.1 .1 1 .1 1.1 .1 1 .1 1 0 1 .1 1 .1 1 0 1 .1 .9 .1 1 0 1 .1 .9 0 .9 .1 .9 0 .9 .1 .9 0 .9 .1 .8 0 .9 0 .8 .1 .8 0 1.3 0 1.3 .1 1.3 0 1.2 0 1.2 0 1.2 .1 1.2 0 1.1 0 1.2 0 1.1-.1 1 0 1.1 0 1.1 0 1 0 1-.1 1 0 1-.1 1 0 .9-.1 1 0 .9-.1 .9 0 1-.1 .9-.1 .9 0 .9-.1 .9-.1 .9-.1 .9 0 .9-.1 .8-.1 .9-.1 .9-.1 .9-.1 .9-.1 .9-.1 .9-.1 .9-.1 .9-.1 1-.1 .9-.1 .9-.1 1-.1 .9-.1 1-.1 1-.1 1.1-.1 1-.2 1-.1 1-.1 1.1-.2 1-.1 1-.2 1.1-.1 1-.2 1-.2 1.1-.1 1-.2 1-.2 1-.2 1.1-.2 1-.2 1-.1 1-.2 1.1-.2 1-.2 1-.2 1-.2 1-.2 1-.2 1-.1 1-.2 1-.2 1-.2 1-.2 1-.2 1-.1 1-.2 .9-.2 1-.1 1-.2 .9-.1 1-.2 .9-.1 .9-.1 1-.2 .9-.1 .9-.1 1.1-.1 1.1-.1 1.1-.2 1 0 1.1-.1 1-.1 1-.1 1-.1 1 0 1-.1 .9 0 1-.1 1 0 .9 0 1-.1 .9 0 1 0 .9-.1 1 0 .9 0 1-.1 .9 0 1-.1 1 0 1-.1 1 0 1-.1 1-.1 1.1 0 1-.1 1.1-.1 1.1-.1 1.1-.1 1.1-.2 1.2-.1 .9-.1 .9-.1 1-.2 .9-.1 1-.2 1-.1 1.1-.2 1-.2 1.1-.1 1-.2 1.1-.2 1.1-.2 1.1-.2 1.1-.2 1.1-.2 1.1-.2 1.1-.2 1.2-.2 1.1-.2 1.1-.2 1.2-.2 1.1-.3 1.1-.2 1.1-.2 1.1-.2 1.1-.2 1.1-.2 1.1-.2 1.1-.2 1.1-.2 1-.2 1-.2 1.1-.1 1-.2 .9-.2 1-.1 .9-.2 .9-.1 .9-.1 .9-.2 .8-.1 .9-.1 .7-.1 .8-.1 .7 0 .7-.1 1.9-.2 1.7-.1 1.5 0 1.2-.1 1.1 0 1 .1 .8 .1 .8 .1 .7 .2 .7 .3 .7 .3 .7 .4 .8 .5 .8 .5 1 .6 .7 .5 .7 .4 .7 .5 .7 .6 .7 .5 .7 .6 .7 .7 .7 .6 .7 .7 .7 .7 .7 .7 .7 .8 .7 .8 .7 .8 .7 .9 .7 .9 .7 .9 .7 .9 .7 1 .7 1 .7 1 .7 1.1 .5 .7 .4 .8 .5 .8 .4 .8 .5 .8 .4 .9 .5 .9 .5 .9 .4 1 .5 .9 .4 1 .5 1 .5 1 .4 1 .5 1 .5 1 .4 1 .5 1.1 .4 1 .5 1 .5 1 .4 1 .5 1 .4 .9 .5 1 .4 .9 .5 .9 .4 .9 .4 .8 .5 .8 .4 .8 .4 .8 .5 .7 .4 .7 .8 1.2 .7 1.1 .8 1.1 .7 1.1 .8 1.1 .7 1 .8 .9 .7 1 .7 .8 .8 .8 .7 .8 .7 .7 .7 .6 .7 .5 .6 .5 .7 .4 .7 .3 .6 .3 .6 .1 .8 0 .7-.1 .7-.3 .7-.4 .6-.6 .6-.7 .6-.8 .6-.9 .6-1 .6-1.1 .7-1.1 .8-1.1 .7-1.2 .9-1.2 .5-.7 .5-.7 .5-.7 .5-.8 .6-.8 .5-.9 .6-.9 .6-1 .6-.9 .6-1 .6-1 .6-1 .6-.9 .6-1 .7-1 .6-1 .6-1 .6-.9 .6-.9 .6-.9 .6-.9 .6-.8 .6-.8 .5-.7 .6-.7 .5-.6 1.6-1.7 1-1.1 1.1-.9 .9-.8 1-.6 .9-.6 .9-.4 .9-.3 .9-.2 .9 0 1 0 .9 .2 .7 .2 .8 .3 .7 .4 .8 .5 .7 .5 .8 .6 .8 .6 .7 .8 .8 .8 .7 .8 .8 .9 .7 .9 .7 1 .6 1.1 .7 1.1 .6 1.1 .4 .7 .3 .8 .4 .8 .3 .9 .4 .9 .3 1 .3 1 .3 1 .4 1 .3 1 .3 1.1 .3 1.1 .3 1.1 .3 1 .2 1.1 .3 1.1 .3 1.1 .3 1 .2 1 .3 1 .2 1 .3 1 .3 .9 .2 .9 .3 .8 .2 .8 .4 1.4 .4 1.4 .3 1.4 .4 1.5 .3 1.5 .3 1.4 .3 1.3 .3 1.2 .3 1.1 .3 .9 .3 .8 .7 .9 .7-.2 .4-.7 .5-1.1 .2-.7 .3-.8 .2-.9 .3-1 .2-1 .3-1.1 .2-1.1 .3-1.2 .3-1.2 .2-1.2 .3-1.3 .2-1.2 .3-1.3 .2-1.2 .3-1.2 .2-1.2 .3-1.1 .2-1.1 .3-1.1 .2-1 .3-.9 .2-.8 .2-.8 .4-1.4 .4-1.3 .4-1.1 .4-1 .4-1 .3-.8 .4-.8 .3-.8 .4-.8 .4-.8 .4-.8 .5-.8 .5-.9 .5-.9 .5-1.1 .6-1.1 .6-1.1 .6-1.2 .6-1.1 .6-1.2 .6-1 .7-1 .6-.8 .6-.7 .7-.5 .6-.3 .6 0 1.1 .4 1 1 .6 .7 .5 .7 .6 .9 .5 .9 .6 1.1 .5 1.1 .5 1.1 .6 1.3 .5 1.2 .5 1.3 .5 1.4 .5 1.3 .3 .8 .2 .9 .3 1 .3 1 .2 1.2 .3 1.2 .3 1.2 .2 1.3 .3 1.3 .2 1.3 .3 1.4 .2 1.3 .3 1.4 .2 1.3 .3 1.4 .2 1.2 .3 1.3 .2 1.2 .3 1.1 .2 1.1 .2 1 .3 .9 .2 .8 .2 .7 .5 1 .7 .6 .6-.7 .4-.9 .2-.7 .2-.7 .2-.8 .2-.9 .1-1 .2-1 .2-1.1 .2-1.1 .2-1.2 .1-1.2 .2-1.2 .2-1.3 .2-1.3 .2-1.4 .1-1.3 .2-1.3 .2-1.3 .2-1.4 .2-1.3 .2-1.3 .2-1.2 .2-1.2 .2-1.2 .2-1.2 .3-1.1 .2-1 .2-1 .3-1.1 .2-1.2 .2-1.2 .3-1.2 .2-1.2 .3-1.3 .2-1.3 .3-1.4 .2-1.3 .3-1.3 .3-1.3 .2-1.4 .3-1.3 .3-1.2 .2-1.3 .3-1.2 .3-1.1 .3-1.2 .2-1 .3-1 .3-1 .3-.8 .3-.8 .3-.7 .3-.6 .6-.9 .6-.5 .6 .1 .6 .7 .3 .6 .4 .8 .3 .9 .3 1 .4 1 .3 1.2 .3 1.3 .4 1.3 .3 1.4 .4 1.5 .4 1.4 .3 1.5 .4 1.6 .3 1.5 .4 1.5 .3 1.4 .4 1.4 .3 1.4 .4 1.4 .3 1.2 .3 1.2 .4 1 .3 1 .3 .8 .3 .7 .6 1 .8 .2 .5-.8 .4-.9 .3-1.2 .2-.7 .1-.7 .2-.8 .1-.9 .2-.9 .1-.9 .2-1 .1-1 .2-1.1 .1-1.1 .1-1.1 .2-1.2 .1-1.2 .2-1.2 .1-1.2 .1-1.3 .1-1.2 .2-1.3 .1-1.3 .1-1.3 .1-1.3 .1-1.3 .2-1.2 .1-1.3 .1-1.3 .1-1.3 .1-1.2 .1-1.3 .1-1.2 .1-1.2 .1-1.1 .1-1.2 .1-1.1 .1-1 .1-1.1 .1-1 .1-.9 .1-.9 .1-.9 .1-.8 .2-1.4 .1-1.3 .1-1.3 .1-1.3 .1-1.2 .1-1.2 .1-1.1 .1-1.1 .1-1.1 0-1 .1-1 0-1 .1-1 .1-.9 0-.9 .1-1 0-.9 .1-.8 .1-.9 .1-.9 .1-.9 .1-.8 .1-.9 .1-.9 .1-.8 .2-.9 .2-1.1 .3-.9 .2-.8 .3-.7 .3-.6 .6-1.1 .7-1.1 .7-1.2 .3-.7 .4-.8 .3-.9 .3-1.1 .3-1.2 .3-1.5 .3-1.6 .3-1.9 .2-2.1 .1-.7 0-.7 .1-.7 0-.9 .1-.8 .1-.9 0-1 .1-.9 0-1.1 .1-1 0-1.1 .1-1.2 .1-1.1 0-1.2 .1-1.2 0-1.3 .1-1.2 0-1.3 .1-1.3 0-1.4 .1-1.3 0-1.4 0-1.4 .1-1.4 0-1.4 .1-1.4 0-1.4 .1-1.4 0-1.4 .1-1.4 0-1.4 0-1.5 .1-1.4 0-1.4 .1-1.4 0-1.3 0-1.4 .1-1.4 0-1.3 .1-1.3 0-1.3 0-1.3 .1-1.3 0-1.2 0-1.2 .1-1.2 0-1.1 .1-1.2 0-1 0-1.1 .1-1 0-1 0-.9 .1-.9 0-.8 0-.8 .1-.7 0-.7 .1-.7 0-1.1 .1-.9 .1-.6 .3 .9 .1 .7 .1 .9 0 1.1 .1 1.2 0 .6 0 .7 0 .7 .1 .7 0 .8 0 .8 .1 .8 0 .9 0 .9 0 .9 .1 .9 0 1 0 .9 0 1 .1 1.1 0 1 0 1.1 0 1.1 .1 1.1 0 1.1 0 1.2 0 1.1 .1 1.2 0 1.2 0 1.2 0 1.2 .1 1.2 0 1.3 0 1.2 0 1.3 .1 1.3 0 1.2 0 1.3 0 1.3 .1 1.3 0 1.3 0 1.4 0 1.3 .1 1.3 0 1.3 0 1.3 0 1.4 0 1.3 .1 1.3 0 1.3 0 1.3 0 1.3 .1 1.4 0 1.3 0 1.3 0 1.2 .1 1.3 0 1.3 0 1.3 0 1.2 .1 1.3 0 1.2 0 1.2 0 1.2 .1 1.2 0 1.2 0 1.2 0 1.1 .1 1.2 0 1.1 0 1.1 0 1 .1 1.1 0 1 0 1 0 1 .1 1 0 .9 0 1 0 .9 0 .8 .1 .9 0 .8 0 .7 0 .8 .1 .7 0 .7 .1 2 0 1.8 .1 1.8 .1 1.8 0 1.6 .1 1.6 .1 1.6 0 1.4 .1 1.4 0 1.3 .1 1.3 .1 1.2 0 1.1 .1 1.1 0 1.1 .1 .9 .1 1 0 .8 .1 .9 .1 .7 0 .8 .1 .6 .1 .7 .1 1.1 .2 1 .2 .9 .3 .7 .7 .1 .4-1 .3-1.4 .4-1.8 .4-2 .4-2 .4-2 .5-1.8 .4-1.4 .5-1 1-.1 .5 1.1 .2 .9 .3 1.1 .1 .7 .2 .7 .1 .8 .1 .8 .2 .9 .1 1 .1 .9 .2 1 .1 1.1 .2 1.1 .1 1.1 .1 1.2 .2 1.1 .1 1.3 .2 1.2 .1 1.3 .2 1.2 .1 1.3 .2 1.4 .1 1.3 .2 1.3 .1 1.4 .2 1.3 .1 1.4 .2 1.3 .1 1.4 .2 1.3 .1 1.3 .2 1.4 .1 1.3 .2 1.3 .1 1.3 .2 1.2 .1 1.3 .2 1.2 .2 1.2 .1 1.1 .2 1.2 .1 1.1 .2 1 .1 1 .2 1 .1 1 .2 .8 .1 .9 .2 .8 .1 .7 .2 .7 .1 .6 .3 1 .3 .8 .5 .7 .7-.5 .4-1.1 .2-.8 .3-.8 .2-1 .2-1.1 .2-1.1 .3-1.3 .2-1.3 .2-1.4 .2-1.4 .3-1.5 .2-1.5 .2-1.6 .2-1.6 .2-1.5 .3-1.6 .2-1.5 .2-1.6 .2-1.5 .2-1.5 .2-1.4 .3-1.3 .2-1.3 .2-1.3 .2-1.1 .2-1 .2-1 .2-.8 .2-.7 .4-1 .6-.1 .3 .6 .3 1.1 .1 .7 .1 .8 .2 .8 .1 1 .1 1 .1 1 .1 1.2 .2 1.2 .1 1.2 .1 1.3 .1 1.3 .1 1.4 .1 1.4 .1 1.4 .1 1.5 .2 1.5 .1 1.5 .1 1.5 .1 1.5 .1 1.5 .1 1.5 .1 1.4 .1 1.5 .1 1.4 .1 1.5 .1 1.4 .1 1.3 .1 1.3 .1 1.3 .1 1.2 .1 1.2 .1 1.1 .1 1 .2 1 .1 .9 .1 .8 .1 .8 .1 .6 .2 1 .4 .7 .5-1 .3-1 .1-.6 .1-.8 .1-.7 .1-.9 .1-.9 .1-1 .2-1 .1-1.1 .1-1.2 .1-1.1 .1-1.3 .1-1.2 .2-1.4 .1-1.3 .1-1.4 .1-1.4 .1-1.4 .1-1.4 .2-1.4 .1-1.5 .1-1.5 .1-1.4 .1-1.5 .2-1.4 .1-1.5 .1-1.4 .1-1.5 .1-1.4 .1-1.3 .2-1.4 .1-1.3 .1-1.3 .1-1.3 .1-1.2 .1-1.1 .2-1.2 .1-1 .1-1 .1-1 .1-.9 .1-.8 .1-.7 .1-.7 .3-1.1 .2-.8 .6-.1 .2 .9 .2 .6 .1 .7 .1 .9 .1 .9 .2 1.1 .1 1.1 .1 1.2 .1 1.2 .2 1.4 .1 1.4 .1 1.4 .1 1.5 .1 1.5 .1 1.5 .2 1.6 .1 1.5 .1 1.6 .1 1.6 .1 1.6 .2 1.5 .1 1.5 .1 1.5 .1 1.5 .1 1.4 .1 1.4 .2 1.3 .1 1.2 .1 1.2 .1 1 .2 1 .1 .9 .1 .8 .1 .7 .3 1 .6 .2 .3-.9 .2-1 .2-1.2 .1-.7 .1-.7 .1-.8 .1-.9 .1-.8 .1-1 .1-.9 .1-1.1 .1-1 .1-1.1 .2-1.1 .1-1.2 .1-1.1 .1-1.2 .1-1.3 .1-1.2 .1-1.3 .1-1.3 .1-1.3 .1-1.3 .2-1.3 .1-1.4 .1-1.3 .1-1.4 .1-1.3 .1-1.4 .1-1.3 .1-1.4 .1-1.3 .1-1.3 .1-1.4 .1-1.3 .1-1.3 .1-1.2 .1-1.3 .1-1.2 .2-1.3 .1-1.1 .1-1.2 0-1.1 .1-1.1 .1-1.1 .1-1 .1-1 .1-.9 .1-.9 .1-.9 .1-.8 .1-.8 .1-.7 .1-.6 .1-1.1 .7-2.4 .5 .7 .4 2.4 .4 3.1 .4 3.1 .4 2.1 .8-2.3 .1-1 .1-1.2 0-.6 .1-.7 0-.8 .1-.7 0-.8 .1-.9 0-.9 .1-.9 0-.9 .1-1 0-1 0-1 .1-1.1 0-1.1 .1-1.1 0-1.1 .1-1.2 0-1.1 .1-1.2 0-1.2 .1-1.2 0-1.3 .1-1.2 0-1.3 .1-1.3 0-1.2 0-1.3 .1-1.3 0-1.3 .1-1.3 0-1.3 .1-1.3 0-1.3 .1-1.3 0-1.3 .1-1.3 0-1.3 .1-1.3 0-1.2 0-1.3 .1-1.2 0-1.3 .1-1.2 0-1.2 .1-1.2 0-1.2 .1-1.1 0-1.2 0-1.1 .1-1.1 0-1 .1-1.1 0-1 .1-1 0-.9 .1-1 0-.8 0-.9 .1-.8 0-.8 .1-.8 0-.7 .1-.6 0-.7 .1-1.1 .1-.9 .2-1.7 .1-.9 .1-.6 .7 1.2 .1 1 .1 1.2 .1 1.4 .2 1.6 .1 1.8 .1 2 .2 2.1 .1 2.3 .2 2.4 .2 2.5 .2 2.6 0 .6 .1 .7 0 .7 .1 .8 .1 .8 0 .8 .1 .8 0 .9 .1 .9 0 .9 .1 .9 0 1 .1 1 .1 1 0 1.1 .1 1 0 1.1 .1 1.1 .1 1.2 0 1.1 .1 1.2 .1 1.1 0 1.2 .1 1.2 .1 1.2 0 1.3 .1 1.2 .1 1.2 0 1.3 .1 1.3 .1 1.2 0 1.3 .1 1.3 .1 1.3 0 1.3 .1 1.2 .1 1.3 0 1.3 .1 1.3 .1 1.3 0 1.3 .1 1.2 .1 1.3 0 1.3 .1 1.2 .1 1.3 .1 1.2 0 1.2 .1 1.3 .1 1.2 0 1.2 .1 1.1 .1 1.2 0 1.1 .1 1.2 .1 1.1 0 1.1 .1 1 .1 1.1 0 1 .1 1 .1 1 0 1 .1 .9 .1 .9 0 .9 .1 .8 .1 .8 0 .8 .1 .7 0 .8 .1 .6 .1 .7 0 .6 .1 1.1 .1 1 .1 .8 .2 .9 .6-1 .2-.9 .1-1.1 .1-1.3 .1-1.4 .1-1.6 .1-1.6 .1-1.7 .1-1.8 .1-1.9 .1-1.8 .1-1.9 .1-1.8 .1-1.8 .1-1.7 .1-1.6 .1-1.6 .1-1.4 .1-1.2 .1-1.1 .1-.9 .1-.7 .3-.7 .3 .7 .1 .8 .1 1.1 .1 .6 .1 .7 0 .7 .1 .8 .1 .9 0 .9 .1 1 .1 1 0 1 .1 1.1 .1 1.2 0 1.1 .1 1.2 .1 1.3 0 1.2 .1 1.3 .1 1.3 .1 1.4 0 1.3 .1 1.4 .1 1.4 .1 1.3 0 1.5 .1 1.4 .1 1.4 0 1.4 .1 1.4 .1 1.4 .1 1.4 0 1.4 .1 1.4 .1 1.4 .1 1.3 0 1.3 .1 1.4 .1 1.3 .1 1.2 0 1.3 .1 1.2 .1 1.1 .1 1.2 0 1.1 .1 1 .1 1 .1 1 0 .9 .1 .9 .1 .8 0 .7 .1 .7 .1 .7 .1 1 .2 .9 .2 .6 .5-.9 .1-1.1 .1-.7 .1-.8 .1-.9 .1-1 .1-1 .1-1.1 .1-1.2 .1-1.2 .1-1.3 .1-1.4 .1-1.3 .1-1.5 .1-1.4 0-1.5 .1-1.5 .1-1.5 .1-1.5 .1-1.6 .1-1.5 .1-1.6 .1-1.5 .1-1.5 .1-1.5 .1-1.5 .1-1.5 .1-1.4 0-1.4 .1-1.3 .1-1.3 .1-1.3 .1-1.1 .1-1.1 .1-1.1 .1-1 0-.9 .1-.8 .1-.7 .1-.6 .2-1 .2-.6 .3 .9 .2 1.1 .1 .6 0 .8 .1 .9 .1 .9 .1 1 0 1.1 .1 1.2 .1 1.2 0 1.2 .1 1.4 .1 1.3 .1 1.4 0 1.4 .1 1.5 .1 1.5 0 1.4 .1 1.5 .1 1.6 0 1.5 .1 1.5 .1 1.5 0 1.4 .1 1.5 .1 1.4 0 1.4 .1 1.4 .1 1.3 0 1.3 .1 1.3 .1 1.1 0 1.2 .1 1 .1 1 0 .9 .1 .8 .1 .7 .1 .7 .1 1 .2 .6 .3-.9 .1-1.1 .1-.7 .1-.8 .1-.9 0-1 .1-1.1 .1-1.1 0-1.2 .1-1.2 .1-1.3 .1-1.4 0-1.4 .1-1.4 .1-1.4 .1-1.5 0-1.5 .1-1.5 .1-1.5 0-1.5 .1-1.5 .1-1.5 .1-1.4 0-1.5 .1-1.4 .1-1.3 .1-1.4 0-1.2 .1-1.3 .1-1.1 .1-1.1 0-1 .1-1 .1-.8 .1-.8 .1-.6 .1-1.1 .3-.6 .3 .7 .2 1.3 .1 .9 .1 .9 .1 1.1 .1 1.2 .1 1.4 .1 1.4 .1 1.4 .2 1.6 .1 1.6 .1 1.6 .1 1.7 .1 1.8 .1 1.7 .1 1.8 .1 1.7 .2 1.8 .1 1.7 .1 1.7 .1 1.6 .1 1.7 .1 1.5 .1 1.5 .1 1.4 .2 1.3 .1 1.2 .1 1.2 .1 1 .1 .8 .1 .8 .2 1 .6-1.3 .1-.7 0-.8 .1-1 .1-1.1 0-1.2 .1-.6 0-.7 0-.7 .1-.7 0-.8 0-.8 .1-.8 0-.8 0-.9 .1-.9 0-.9 0-.9 .1-1 0-.9 0-1 0-1 .1-1.1 0-1 0-1.1 .1-1.1 0-1.1 0-1.1 .1-1.1 0-1.2 0-1.2 0-1.1 .1-1.2 0-1.2 0-1.3 .1-1.2 0-1.2 0-1.3 0-1.2 .1-1.3 0-1.3 0-1.3 .1-1.3 0-1.2 0-1.3 0-1.4 .1-1.3 0-1.3 0-1.3 .1-1.3 0-1.3 0-1.4 0-1.3 .1-1.3 0-1.4 0-1.3 .1-1.3 0-1.3 0-1.3 0-1.4 .1-1.3 0-1.3 0-1.3 .1-1.3 0-1.3 0-1.2 0-1.3 .1-1.3 0-1.2 0-1.3 0-1.2 .1-1.2 0-1.2 0-1.2 .1-1.2 0-1.2 0-1.2 0-1.1 .1-1.1 0-1.2 0-1.1 .1-1 0-1.1 0-1 0-1.1 .1-1 0-1 0-.9 0-1 .1-.9 0-.9 0-.9 .1-.8 0-.8 0-.8 0-.8 .1-.8 0-.7 0-.7 .1-.7 0-.6 0-.6 .1-1.1 0-1 .1-.9 .2-1.7 .1-1.2 .2-.6 .4 .8 .2 1 .2 1.3 .1 1.6 .2 1.7 .2 1.9 .1 2 .2 2.1 .1 2.1 .2 2 .1 2 .2 1.8 .1 1.7 .2 1.4 .1 1.1 .2 .8 .6-.9 .2-2 .2-2.6 .2-2.7 .1-2.5 .2-2.1 .2-1.4 .5 .8 .2 2.7 .1 1 0 1.1 .1 .6 0 .6 0 .7 .1 .7 0 .8 0 .7 0 .9 .1 .8 0 .9 0 .9 .1 .9 0 .9 0 1 .1 1 0 1 0 1.1 .1 1 0 1.1 .1 1.1 0 1.2 0 1.1 .1 1.2 0 1.2 0 1.1 .1 1.3 0 1.2 0 1.2 .1 1.3 0 1.2 0 1.3 .1 1.3 0 1.3 .1 1.3 0 1.3 0 1.3 .1 1.3 0 1.3 0 1.3 .1 1.3 0 1.3 0 1.4 .1 1.3 0 1.3 .1 1.3 0 1.3 0 1.3 .1 1.3 0 1.3 0 1.3 .1 1.3 0 1.3 .1 1.3 0 1.2 0 1.3 .1 1.2 0 1.2 0 1.2 .1 1.2 0 1.2 .1 1.1 0 1.1 0 1.2 .1 1.1 0 1 0 1.1 .1 1 0 1 .1 1 0 1 0 .9 .1 .9 0 .9 0 .9 .1 .8 0 .8 .1 .7 0 .8 0 .7 .1 .6 0 .7 .1 1.1 .1 1 0 .8 .1 .7 .2 1 .4-1.2 .1-.7 .1-.9 .1-1.1 .1-1.1 .1-1.3 .1-1.3 .1-1.5 .1-1.5 .1-1.6 .1-1.6 .1-1.7 .1-1.7 .1-1.7 0-1.7 .1-1.7 .1-1.7 .1-1.7 .1-1.6 .1-1.5 .1-1.5 .1-1.5 .1-1.3 .1-1.2 0-1.2 .1-1 .1-.8 .1-.7 .1-1 .4 1.1 .2 1.3 0 .8 .1 .8 0 1 .1 1 0 1.1 .1 1.2 0 1.2 .1 1.3 0 1.3 .1 1.4 0 1.4 .1 1.4 0 1.5 0 1.5 .1 1.5 0 1.5 .1 1.5 0 1.4 .1 1.5 0 1.5 .1 1.4 0 1.4 .1 1.4 0 1.3 0 1.3 .1 1.2 0 1.2 .1 1.1 0 1.1 .1 .9 0 .9 .1 .8 .1 .7 0 .6 .1 .9 .5-1 .1-1.1 .1-.7 .1-.8 .1-.8 0-.9 .1-.9 .1-1 .1-1.1 0-1.1 .1-1.1 .1-1.2 .1-1.2 .1-1.3 0-1.3 .1-1.3 .1-1.3 .1-1.4 .1-1.3 0-1.4 .1-1.4 .1-1.4 .1-1.4 0-1.4 .1-1.4 .1-1.3 .1-1.4 0-1.3 .1-1.3 .1-1.3 0-1.3 .1-1.2 .1-1.2 0-1.1 .1-1.1 0-1.1 .1-1 0-1 .1-.8 0-.9 .1-.7 0-.7 .1-.7 3.2 30 .3-.7 .7-.7 .3-.9 .2-.7 .2-.9 .2-1.2 .2-1.4 .1-1.8 .2-2.1 .2-2.6 0-1 .1-1.1 0-1.2 0-.6 .1-.7 0-.7 0-.7 0-.7 .1-.8 0-.8 0-.8 0-.8 0-.8 .1-.9 0-.8 0-.9 0-.9 .1-.9 0-.9 0-1 0-.9 .1-1 0-1 0-1 0-1 0-1 .1-1 0-1 0-1.1 0-1 .1-1 0-1.1 0-1 0-1.1 0-1.1 .1-1 0-1.1 0-1 0-1.1 0-1.1 .1-1 0-1.1 0-1.1 0-1 .1-1.1 0-1 0-1 0-1.1 0-1 .1-1 0-1 0-1 0-1 .1-1 0-1 0-.9 0-1 .1-.9 0-.9 0-.9 0-.9 0-.9 .1-.9 0-.8 0-.8 0-.8 .1-.8 0-.8 0-.7 0-.7 .1-.7 0-.7 0-.7 0-.6 .1-.6 0-1.1 .1-1 0-.9 .1-.8 .1-.7 0-.7 .6 .8 .1 .8 .1 1 .1 1.1 0 .7 .1 .7 0 .7 .1 .7 .1 .8 0 .8 .1 .8 0 .9 .1 .9 0 .9 .1 .9 .1 1 0 1 .1 1 0 1 .1 1 0 1.1 .1 1.1 .1 1 0 1.1 .1 1.1 0 1.1 .1 1.1 0 1.1 .1 1.2 0 1.1 .1 1.1 .1 1.1 0 1.2 .1 1.1 0 1.1 .1 1.1 0 1.1 .1 1.1 0 1.1 .1 1 .1 1.1 0 1 .1 1 0 1 .1 1 0 1 .1 .9 0 .9 .1 .9 0 .9 .1 .8 0 .8 .1 .8 0 .9 .1 .8 0 .9 .1 1 0 .9 .1 .9 0 1 0 1 .1 1 0 1 .1 1 0 1 .1 1 0 1 .1 1.1 0 1 .1 1 0 1.1 .1 1 0 1.1 0 1 .1 1 0 1 .1 1.1 0 1 .1 1 0 1 0 1 .1 1 0 .9 .1 1 0 .9 0 .9 .1 .9 0 .9 .1 .9 0 .8 .1 .8 0 .8 0 .8 .1 .8 0 .7 .1 .7 0 .6 0 .7 .1 .6 .1 1.1 0 1 .1 .8 .1 .7 .2 .7 .4-1.1 .1-1.2 .1-.7 0-.9 .1-.9 0-.9 .1-1 .1-1.1 0-1.1 .1-1.2 .1-1.1 0-1.2 .1-1.3 0-1.2 .1-1.3 .1-1.2 0-1.3 .1-1.2 .1-1.2 0-1.2 .1-1.2 0-1.1 .1-1 .1-1.1 0-.9 .1-.9 .1-.9 0-.7 .1-.7 .1-1.1 .1-.7 .4 .8 .2 1 0 .7 .1 .8 0 .8 .1 .9 .1 1 0 1 .1 1.1 .1 1.1 0 1.1 .1 1.2 .1 1.2 0 1.2 .1 1.3 .1 1.2 0 1.3 .1 1.2 .1 1.2 0 1.3 .1 1.2 .1 1.1 0 1.2 .1 1.1 .1 1 0 1 .1 .9 .1 .9 0 .8 .1 .7 0 .7 .2 1 .1 .6 .4-.7 .1-.7 .1-.9 0-1 .1-1.2 .1-.6 0-.6 .1-.7 0-.8 0-.7 .1-.8 0-.8 .1-.8 0-.9 .1-.8 0-.9 0-.9 .1-.9 0-1 .1-.9 0-1 0-1 .1-1 0-1 .1-1 0-1 .1-1.1 0-1 0-1 .1-1.1 0-1 .1-1.1 0-1 .1-1 0-1 .1-1.1 0-1 0-1 .1-1 0-1 .1-.9 0-1 .1-.9 0-1 .1-.9 0-.9 .1-.8 0-.9 .1-.8 0-.8 .1-.8 0-.7 .1-.9 0-1 .1-.9 .1-1 0-1 .1-1.1 .1-1 0-1.1 .1-1.1 .1-1.1 0-1.1 .1-1.1 .1-1.1 0-1.1 .1-1.2 .1-1.1 0-1.1 .1-1.1 .1-1.2 .1-1.1 0-1 .1-1.1 .1-1.1 0-1 .1-1 .1-1 0-1 .1-1 .1-.9 .1-.9 0-.8 .1-.9 .1-.7 0-.8 .1-.7 .1-.6 0-.6 .2-1.1 .1-.8 .1-.6 .6 .9 .1 .7 .1 1 0 1 .1 1.3 0 .6 .1 .7 0 .7 0 .8 .1 .7 0 .8 0 .8 .1 .9 0 .9 0 .8 .1 1 0 .9 0 .9 .1 1 0 1 0 1 .1 1 0 1 0 1 .1 1 0 1.1 0 1 .1 1.1 0 1 0 1.1 .1 1.1 0 1 0 1.1 .1 1.1 0 1 0 1.1 .1 1 0 1.1 0 1 .1 1 0 1.1 0 1 .1 1 0 .9 0 1 .1 1 0 .9 0 .9 0 .9 .1 .9 0 .8 .1 .8 0 .8 0 .8 .1 .8 0 .7 0 .7 .1 .7 0 .6 .1 1.1 .1 1.7 .1 1.7 .1 1.7 .1 1.8 .1 1.9 .1 1.8 .1 1.8 .2 1.7 .1 1.7 .1 1.7 .1 1.5 .1 1.3 .1 1.3 .1 1 .2 .9 .1 .7 .2 .6 .3-1.2 .1-1 .1-1.4 .1-1.8 0-.7 .1-.8 0-.9 0-1 .1-1 0-1.2 0-.6 0-.6 0-.7 0-.6 .1-.7 0-.7 0-.7 0-.8 0-.7 0-.8 0-.8 .1-.8 0-.8 0-.8 0-.8 0-.9 0-.9 0-.9 0-.9 .1-.9 0-.9 0-.9 0-1 0-.9 0-1 0-1 0-1 .1-1 0-1 0-1 0-1 0-1.1 0-1 0-1.1 0-1 0-1.1 .1-1.1 0-1 0-1.1 0-1.1 0-1.1 0-1.1 0-1.1 0-1.1 0-1.1 .1-1.1 0-1.1 0-1.1 0-1.2 0-1.1 0-1.1 0-1.1 0-1.1 .1-1.2 0-1.1 0-1.1 0-1.1 0-1.1 0-1.1 0-1.2 0-1.1 0-1.1 .1-1.1 0-1.1 0-1.1 0-1.1 0-1.1 0-1 0-1.1 0-1.1 0-1.1 .1-1 0-1.1 0-1 0-1 0-1.1 0-1 0-1 0-1 .1-1 0-1 0-.9 0-1 0-.9 0-1 0-.9 0-.9 .1-.9 0-.9 0-.9 0-.8 0-.9 0-.8 0-.8 0-.8 .1-.8 0-.8 0-.7 0-.7 0-.8 0-.7 0-.6 .1-.7 0-.6 0-.7 0-.6 0-1.1 .1-1.1 0-1 0-.9 .1-.8 0-.7 0-.6 .1-.7 0-.6 .3 .7 0 .9 .1 .7 0 .8 0 .9 .1 1 0 1.1 .1 1.2 0 .6 0 .7 0 .7 .1 .7 0 .7 0 .7 0 .8 .1 .8 0 .8 0 .8 0 .8 .1 .9 0 .8 0 .9 0 .9 .1 .9 0 1 0 .9 0 1 0 .9 .1 1 0 1 0 1 0 1.1 .1 1 0 1 0 1.1 0 1.1 .1 1 0 1.1 0 1.1 0 1.1 .1 1.1 0 1.1 0 1.1 0 1.2 .1 1.1 0 1.1 0 1.2 .1 1.1 0 1.2 0 1.1 0 1.2 .1 1.2 0 1.1 0 1.2 0 1.2 .1 1.1 0 1.2 0 1.2 0 1.1 .1 1.2 0 1.2 0 1.1 0 1.2 .1 1.1 0 1.2 0 1.1 0 1.2 .1 1.1 0 1.1 0 1.2 .1 1.1 0 1.1 0 1.1 0 1.1 .1 1.1 0 1.1 0 1.1 0 1 .1 1.1 0 1 0 1.1 0 1 .1 1 0 1 0 1 .1 1 0 .9 0 1 0 .9 .1 .9 0 .9 0 .9 0 .9 .1 .8 0 .8 0 .9 .1 .7 0 .8 0 .8 0 .7 .1 .7 0 .7 0 .7 0 .7 .1 .6 0 .6 0 1.2 .1 1 .1 1 0 .9 .1 .7 0 .7 .1 .7 .1 .7 .3-.7 .1-.8 .1-1 .1-1.3 .1-.7 0-.7 .1-.8 0-.8 .1-.9 0-.9 .1-1 .1-1 0-1 .1-1.1 0-1.1 .1-1.1 0-1.1 .1-1.2 0-1.2 .1-1.2 0-1.2 .1-1.3 0-1.2 .1-1.3 0-1.3 .1-1.3 0-1.3 .1-1.3 0-1.3 .1-1.3 0-1.3 .1-1.3 0-1.3 .1-1.3 0-1.3 .1-1.2 0-1.3 .1-1.2 0-1.2 .1-1.2 0-1.2 .1-1.1 0-1.1 .1-1.1 0-1.1 .1-1 0-1 .1-1 0-.9 .1-.9 0-.8 0-.8 .1-.8 0-.6 .1-.7 .1-1.1 0-.9 .1-.7 .4 .7 0 .7 .1 .9 0 1 .1 1.2 0 .7 0 .6 0 .7 .1 .7 0 .8 0 .8 0 .8 0 .8 .1 .9 0 .9 0 .9 0 .9 0 .9 .1 1 0 1 0 1 0 1 0 1.1 .1 1 0 1.1 0 1.1 0 1 0 1.1 0 1.2 .1 1.1 0 1.1 0 1.1 0 1.2 0 1.1 0 1.2 .1 1.1 0 1.2 0 1.1 0 1.2 0 1.1 0 1.2 0 1.1 .1 1.2 0 1.1 0 1.1 0 1.2 0 1.1 0 1.1 .1 1.1 0 1.1 0 1 0 1.1 0 1.1 0 1 .1 1 0 1 0 1 0 .9 0 1 0 .9 .1 .9 0 .9 0 .9 0 .8 0 .8 0 .8 .1 .7 0 .7 0 .7 0 .7 0 .6 .1 1.2 0 1 .1 .9 0 .7 .1 .8 .1 .6 .2-.7 .1-.7 .1-.8 .1-1 0-1.2 .1-.6 0-.7 .1-.7 0-.8 0-.8 .1-.8 0-.9 .1-.9 0-.9 0-.9 .1-1 0-1 .1-1 0-1 .1-1 0-1.1 0-1.1 .1-1.1 0-1.1 .1-1.1 0-1.2 .1-1.1 0-1.2 .1-1.1 0-1.2 .1-1.2 0-1.2 .1-1.1 0-1.2 .1-1.2 0-1.2 .1-1.1 0-1.2 .1-1.2 0-1.1 .1-1.1 0-1.2 .1-1.1 0-1.1 .1-1.1 .1-1 0-.7 0-.7 .1-.7 0-.7 0-.8 .1-.7 0-.8 .1-.8 0-.8 0-.9 .1-.8 0-.9 .1-.9 0-.9 .1-.9 0-.9 0-.9 .1-1 0-1 .1-.9 0-1 .1-1 0-1 .1-1 0-1 0-1.1 .1-1 0-1.1 .1-1 0-1 .1-1.1 0-1.1 .1-1 0-1.1 .1-1.1 0-1 .1-1.1 0-1.1 .1-1 0-1.1 .1-1.1 0-1 .1-1.1 0-1 .1-1.1 0-1 .1-1.1 0-1 .1-1.1 0-1 .1-1 0-1 .1-1 0-1 .1-1 0-.9 .1-1 0-.9 .1-.9 0-1 .1-.9 0-.8 0-.9 .1-.9 0-.8 .1-.8 0-.8 .1-.8 0-.8 .1-.7 0-.7 .1-.8 0-.6 0-.7 .1-.6 0-.7 .1-1.1 .1-1.1 .1-.9 0-.9 .1-.7 .1-.6 .1-.7 .4 .9 0 .7 0 .8 .1 1 0 1.1 .1 1.2 0 .7 0 .6 0 .7 0 .8 .1 .7 0 .8 0 .8 0 .8 0 .9 0 .8 0 .9 .1 .9 0 .9 0 1 0 .9 0 1 0 1 0 1 0 1 0 1 .1 1 0 1.1 0 1 0 1.1 0 1 0 1.1 0 1.1 0 1.1 0 1 .1 1.1 0 1.1 0 1.1 0 1.1 0 1.1 0 1.1 0 1.1 0 1.1 0 1.1 .1 1.1 0 1.1 0 1 0 1.1 0 1.1 0 1 0 1.1 0 1 .1 1 0 1 0 1 0 1 0 1 0 1 0 .9 .1 .9 0 .9 0 .9 0 .9 0 .9 .1 .8 0 .8 0 .8 0 .7 0 .8 .1 .7 0 .7 0 .7 0 .6 .1 1.1 0 1.2 .1 1.1 0 1.1 .1 1.1 0 1.1 .1 1.1 0 1.1 .1 1.1 0 1.1 .1 1 .1 1.1 0 1 .1 1.1 0 1 .1 1 .1 1 0 .9 .1 1 .1 .9 0 1 .1 .9 0 .8 .1 .9 .1 .9 0 .8 .1 .8 .1 .8 0 .7 .1 .8 .1 .7 0 .7 .1 .6 .1 .6 0 .7 .2 1.1 .1 1 .1 .9 .2 .7 .1 .7 .3 .7 .4-.8 .1-.8 .2-.9 .1-1.1 .2-1.2 .1-1.3 .1-1.4 .2-1.4 .1-1.4 .2-1.4 .1-1.4 .2-1.2 .1-1.2 .2-1 .1-.8 .1-.7 .7 .6 .2 1 0 .7 .1 .7 .1 .8 .1 .8 0 .9 .1 1 .1 1 .1 1 .1 1.1 0 1.1 .1 1.1 .1 1.1 .1 1.1 0 1.2 .1 1.1 .1 1.1 .1 1.2 .1 1.1 0 1.1 .1 1 .1 1.1 .1 .9 0 1 .1 .9 .1 .8 .1 .8 0 .7 .1 .7 .2 1 .1 .7 .6-1 .1-.7 .1-.7 .1-.8 0-.9 .1-1 .1-1 .1-1.1 .1-1.1 .1-1.2 .1-1.2 .1-1.2 0-1.2 .1-1.2 .1-1.2 .1-1.2 .1-1.2 .1-1.1 0-1.1 .1-1.1 .1-.9 .1-.9 .1-.9 .1-.7 0-.7 .2-.9 .6 .7 .1 .8 .1 .9 .1 1.1 .1 1.1 0 1.2 .1 1.3 .1 1.3 .1 1.4 .1 1.3 .1 1.4 .1 1.3 .1 1.2 .1 1.1 .1 1 .1 .9 .1 .8 .2 1 .4-.8 .1-.9 .1-1.1 .1-.7 .1-.7 0-.8 .1-.8 0-.9 .1-.9 0-1 .1-1 0-1.1 .1-1 .1-1.1 0-1.2 .1-1.1 0-1.2 .1-1.1 0-1.2 .1-1.2 .1-1.2 0-1.2 .1-1.2 0-1.2 .1-1.2 .1-1.1 0-1.2 .1-1.1 0-1.1 .1-1.1 .1-1 0-1 .1-1 0-.9 .1-.9 0-.9 .1-.8 .1-.7 0-.7 .1-.6 .1-1 .1-.8 .5 1 .1 1 .1 1.2 0 .7 .1 .8 0 .7 .1 .9 0 .9 .1 .9 0 1 0 1 .1 1 0 1.1 .1 1.1 0 1.1 .1 1.1 0 1.2 .1 1.2 0 1.2 0 1.2 .1 1.3 0 1.2 .1 1.3 0 1.3 .1 1.2 0 1.3 0 1.3 .1 1.3 0 1.2 .1 1.3 0 1.3 .1 1.2 0 1.2 0 1.3 .1 1.2 0 1.1 .1 1.2 0 1.1 .1 1.1 0 1.1 .1 1 0 1 0 1 .1 .9 0 .9 .1 .9 0 .8 .1 .7 0 .7 0 .7 .1 1.1 .1 .9 .1 .7 .4-.8 0-.9 .1-.7 0-.8 .1-1 0-1 .1-1.1 0-1.3 0-.6 .1-.7 0-.6 0-.8 0-.7 0-.7 .1-.8 0-.8 0-.8 0-.8 0-.8 .1-.9 0-.8 0-.9 0-.9 .1-.9 0-1 0-.9 0-1 0-.9 .1-1 0-1 0-1 0-1.1 0-1 .1-1 0-1.1 0-1 0-1.1 .1-1.1 0-1.1 0-1 0-1.1 0-1.2 .1-1.1 0-1.1 0-1.1 0-1.1 0-1.2 .1-1.1 0-1.1 0-1.2 0-1.1 0-1.2 .1-1.1 0-1.2 0-1.1 0-1.2 .1-1.1 0-1.2 0-1.1 0-1.1 0-1.2 .1-1.1 0-1.2 0-1.1 0-1.1 0-1.2 .1-1.1 0-1.1 0-1.1 0-1.1 .1-1.1 0-1.1 0-1.1 0-1 0-1.1 .1-1 0-1.1 0-1 0-1 0-1.1 .1-1 0-.9 0-1 0-1 0-.9 .1-1 0-.9 0-.9 0-.9 .1-.9 0-.8 0-.9 0-.8 0-.8 .1-.8 0-.8 0-.7 0-.8 0-.7 .1-.7 0-.6 0-.7 0-.6 .1-.6 0-1.2 0-1 .1-1 0-.8 .1-.8 0-.6 .1-.8 .1-.6 .2 .7 .1 .9 0 .7 .1 .9 0 .9 .1 1.1 0 1.2 .1 .7 0 .6 0 .7 0 .7 .1 .8 0 .7 0 .8 0 .8 .1 .8 0 .8 0 .9 .1 .9 0 .9 0 .9 0 .9 .1 1 0 1 0 .9 0 1 .1 1 0 1.1 0 1 0 1 .1 1.1 0 1.1 0 1.1 0 1 .1 1.1 0 1.2 0 1.1 .1 1.1 0 1.1 0 1.2 0 1.1 .1 1.1 0 1.2 0 1.1 0 1.2 .1 1.2 0 1.1 0 1.2 0 1.1 .1 1.2 0 1.2 0 1.1 .1 1.2 0 1.1 0 1.2 0 1.1 .1 1.2 0 1.1 0 1.1 0 1.2 .1 1.1 0 1.1 0 1.1 0 1.1 .1 1.1 0 1 0 1.1 .1 1 0 1.1 0 1 0 1 .1 1 0 1 0 1 0 .9 .1 .9 0 1 0 .9 0 .8 .1 .9 0 .9 0 .8 .1 .8 0 .8 0 .7 0 .8 .1 .7 0 .7 0 .6 0 .7 .1 .6 0 1.1 .1 1.1 0 .9 .1 .8 0 .6 .2 1.1 .1 .6 .3-.7 .2-1.1 0-.7 .1-.7 .1-.9 .1-.9 0-1 .1-1.1 .1-1.1 0-1.1 .1-1.2 .1-1.3 .1-1.3 0-1.3 .1-1.3 .1-1.4 0-1.3 .1-1.4 .1-1.4 0-1.3 .1-1.4 .1-1.3 0-1.3 .1-1.3 .1-1.2 .1-1.2 0-1.1 .1-1.1 .1-1.1 0-.9 .1-.9 0-.8 .1-.8 .1-.6 .1-1 .2-.7 .3 .9 .1 1.1 0 .7 .1 .8 .1 .8 0 1 .1 1 0 1.1 .1 1.1 0 1.2 .1 1.2 0 1.3 .1 1.3 .1 1.3 0 1.3 .1 1.3 0 1.3 .1 1.3 0 1.3 .1 1.3 0 1.2 .1 1.3 0 1.1 .1 1.1 .1 1.1 0 1 .1 .9 0 .9 .1 .8 .1 .6 .1 1.1 .1 .6 .4-.8 .1-.7 .1-.9 .1-1 .1-1.2 0-.6 .1-.7 0-.7 .1-.8 0-.8 .1-.8 0-.8 .1-.9 0-.9 .1-.9 0-1 .1-1 0-.9 .1-1.1 0-1 .1-1.1 0-1 .1-1.1 0-1.1 .1-1.1 .1-1.1 0-1.2 .1-1.1 0-1.2 .1-1.1 0-1.2 .1-1.1 0-1.2 .1-1.2 0-1.1 .1-1.2 .1-1.2 0-1.1 .1-1.2 0-1.1 .1-1.1 0-1.2 .1-1.1 0-1.1 .1-1.1 0-1.1 .1-1 0-1.1 .1-1 .1-1 0-1 .1-.9 0-1 .1-.9 0-.9 .1-.8 0-.9 .1-.8 0-.7 .1-.8 0-.7 .1-.6 0-.7 .1-1.1 .1-1 .1-.8 .1-.6 .1-.7 .3 .8 0 .6 .1 .8 0 .9 .1 1.1 0 1.2 .1 .6 0 .7 0 .7 .1 .8 0 .8 0 .8 0 .8 0 .8 .1 .9 0 .9 0 .9 0 1 .1 .9 0 1 0 1 0 1 0 1.1 .1 1 0 1.1 0 1.1 0 1 .1 1.1 0 1.1 0 1.2 0 1.1 0 1.1 .1 1.2 0 1.1 0 1.1 0 1.2 0 1.2 0 1.1 .1 1.2 0 1.1 0 1.2 0 1.1 0 1.2 .1 1.1 0 1.1 0 1.2 0 1.1 0 1.1 .1 1.1 0 1.1 0 1 0 1.1 0 1.1 .1 1 0 1 0 1 0 1 0 1 .1 .9 0 .9 0 .9 0 .9 0 .9 .1 .8 0 .8 0 .8 0 .7 .1 .7 0 .7 0 .7 0 .6 .1 1.2 0 1 .1 .8 0 .7 .1 .8 .4-.8 .1-1.2 .1-.7 .1-.8 0-.8 .1-.9 0-1 .1-1 .1-1 0-1.2 .1-1.1 0-1.2 .1-1.2 .1-1.2 0-1.3 .1-1.3 0-1.2 .1-1.3 .1-1.3 0-1.3 .1-1.3 .1-1.2 0-1.3 .1-1.2 0-1.2 .1-1.2 .1-1.1 0-1.1 .1-1 .1-1 0-1 .1-.8 .1-.8 0-.8 .1-.6 .1-1.1 .1-.8 .5 .7 .2 1 .1 .6 0 .7 .1 .8 .1 .8 .1 .9 0 1 .1 1 .1 1 .1 1.1 0 1 .1 1.2 .1 1.1 .1 1.2 0 1.1 .1 1.2 .1 1.2 .1 1.2 0 1.1 .1 1.2 .1 1.1 .1 1.1 0 1.1 .1 1 .1 1 .1 1 .1 .9 0 .8 .1 .8 .1 .7 .1 .7 .1 1 .2 .7 .7-.8 .1-.6 .2-.8 .1-1 .1-1 .1-1 .2-1.2 .1-1.1 .1-1.2 .2-1.3 .1-1.2 .1-1.2 .2-1.1 .1-1.1 .1-1.1 .1-.9 .2-.9 .1-.7 .1-.6 .2-.8 .5 1.1 .3 1.6 .2 2.1 .2 2.2 .2 2.1 .2 1.7 .2 1.2 .5-.7 .2-2.3 .1-.8 0-.9 .1-1.1 0-1.1 .1-.7 0-.7 0-.7 .1-.7 0-.7 0-.8 0-.8 .1-.8 0-.9 0-.9 0-.9 .1-.9 0-.9 0-1 .1-.9 0-1 0-1 0-1 .1-1.1 0-1 0-1.1 .1-1.1 0-1 0-1.1 0-1.1 .1-1.2 0-1.1 0-1.1 .1-1.1 0-1.2 0-1.1 0-1.2 .1-1.1 0-1.2 0-1.1 .1-1.2 0-1.1 0-1.2 0-1.1 .1-1.1 0-1.2 0-1.1 .1-1.1 0-1.1 0-1.1 0-1.1 .1-1.1 0-1.1 0-1.1 .1-1 0-1.1 0-1 .1-1 0-1 0-1 0-.9 .1-1 0-.9 0-.9 .1-.9 0-.8 0-.9 0-.8 .1-.8 0-.7 0-.8 .1-.7 0-.6 0-.7 .1-.6 0-1.1 .1-1.1 0-.8 .1-.8 .1-.8 .3 .7 .1 .6 .1 .7 0 .9 .1 .9 0 1.1 .1 1.2 0 .6 0 .6 0 .7 .1 .7 0 .7 0 .7 0 .8 .1 .8 0 .8 0 .8 0 .8 .1 .9 0 .9 0 .8 .1 1 0 .9 0 .9 0 1 .1 .9 0 1 0 1 0 1 .1 1 0 1.1 0 1 .1 1 0 1.1 0 1.1 0 1 .1 1.1 0 1.1 0 1.1 0 1.1 .1 1.1 0 1.2 0 1.1 .1 1.1 0 1.1 0 1.2 0 1.1 .1 1.1 0 1.2 0 1.1 0 1.1 .1 1.2 0 1.1 0 1.1 0 1.2 .1 1.1 0 1.1 0 1.2 .1 1.1 0 1.1 0 1.1 0 1.1 .1 1.1 0 1.1 0 1 0 1.1 .1 1.1 0 1 0 1.1 .1 1 0 1 0 1 0 1 .1 1 0 .9 0 1 0 .9 .1 .9 0 .9 0 .9 0 .9 .1 .9 0 .8 0 .8 0 .8 .1 .8 0 .7 0 .8 0 .7 .1 .7 0 .7 0 .6 0 .6 .1 1.2 0 1 .1 1 0 .9 .1 .7 0 .6 .1 .7 .1 .6 .3-.9 .1-.7 .1-1 .1-1.2 0-.7 0-.7 .1-.7 0-.8 0-.8 .1-.9 0-.8 .1-1 0-.9 0-1 .1-1 0-1 .1-1.1 0-1.1 0-1.1 .1-1.1 0-1.1 0-1.2 .1-1.1 0-1.2 0-1.2 .1-1.1 0-1.2 .1-1.2 0-1.2 0-1.2 .1-1.2 0-1.2 0-1.1 .1-1.2 0-1.2 0-1.1 .1-1.1 0-1.2 0-1.1 .1-1 0-1.1 0-1.1 .1-1 0-1 0-.9 .1-.9 0-.9 0-.9 .1-.8 0-.8 0-.8 .1-.7 0-.7 0-.6 .1-1.2 0-1.2 .1-1.3 0-1.2 .1-1.2 0-1.2 .1-1.3 0-1.2 .1-1.1 0-1.2 .1-1.2 0-1.1 .1-1.1 0-1.1 0-1 .1-1 0-1 .1-.9 0-.8 0-.8 .1-.8 0-.7 .1-.6 .1-1.1 .1-.8 .6 .7 .1 .8 .1 .9 .2 1.2 0 .6 .1 .6 .1 .7 0 .8 .1 .7 .1 .8 0 .8 .1 .8 .1 .9 0 .9 .1 .9 .1 .9 .1 .9 0 1 .1 1 .1 1 0 1 .1 1 .1 1 .1 1 0 1 .1 1 .1 1.1 .1 1 0 1 .1 1 .1 1 0 1 .1 1 .1 1 .1 1 0 1 .1 .9 .1 .9 0 .9 .1 .9 .1 .9 .1 .8 0 .8 .1 .8 0 .8 .1 .9 .1 1 .1 1 .1 1.1 0 1.2 .1 1.2 .1 1.2 .1 1.2 0 1.3 .1 1.4 .1 1.3 .1 1.3 .1 1.4 0 1.4 .1 1.3 .1 1.4 .1 1.3 0 1.3 .1 1.3 .1 1.3 .1 1.2 .1 1.3 0 1.1 .1 1.1 .1 1.1 .1 1 0 .9 .1 .9 .1 .8 0 .7 .1 .7 .1 1 .2 .6 .3-1 .1-.6 .1-.8 0-.9 0-.8 .1-.8 0-1 0-1 .1-1.2 0-.6 0-.6 0-.7 0-.7 0-.6 0-.8 .1-.7 0-.7 0-.8 0-.8 0-.8 0-.8 0-.9 0-.8 .1-.9 0-.9 0-.9 0-.9 0-.9 0-.9 0-1 0-1 0-.9 0-1 .1-1 0-1.1 0-1 0-1 0-1.1 0-1 0-1.1 0-1 0-1.1 0-1.1 0-1.1 .1-1.1 0-1.1 0-1.1 0-1.1 0-1.1 0-1.2 0-1.1 0-1.1 0-1.1 0-1.2 0-1.1 0-1.2 .1-1.1 0-1.1 0-1.2 0-1.1 0-1.2 0-1.1 0-1.1 0-1.2 0-1.1 0-1.1 0-1.1 0-1.2 .1-1.1 0-1.1 0-1.1 0-1.1 0-1.1 0-1.1 0-1.1 0-1 0-1.1 0-1 0-1.1 .1-1 0-1.1 0-1 0-1 0-1 0-1 0-.9 0-1 0-.9 .1-1 0-.9 0-.9 0-.9 0-.9 0-.8 0-.9 0-.8 0-.8 .1-.8 0-.8 0-.7 0-.8 0-.7 0-.7 0-.7 .1-.6 0-.7 0-.6 0-1.2 .1-1 0-1 0-.9 .1-.8 0-.6 .1-.8 0-.7 .3 .6 .1 .8 0 .7 .1 .8 .1 .8 0 1 .1 1 .1 1.2 0 .6 0 .6 .1 .7 0 .6 0 .7 .1 .7 0 .7 .1 .8 0 .7 0 .8 .1 .8 0 .8 0 .8 .1 .9 0 .8 .1 .9 0 .9 0 .9 .1 .9 0 .9 .1 1 0 .9 0 1 .1 1 0 1 .1 .9 0 1.1 0 1 .1 1 0 1 .1 1.1 0 1 0 1.1 .1 1 0 1.1 .1 1.1 0 1.1 0 1.1 .1 1 0 1.1 .1 1.1 0 1.1 0 1.1 .1 1.2 0 1.1 .1 1.1 0 1.1 0 1.1 .1 1.1 0 1.1 .1 1.2 0 1.1 0 1.1 .1 1.1 0 1.1 .1 1.1 0 1.1 0 1.1 .1 1.1 0 1.1 .1 1.1 0 1.1 0 1 .1 1.1 0 1.1 0 1 .1 1.1 0 1 .1 1 0 1 0 1.1 .1 1 0 1 0 .9 .1 1 0 1 0 .9 .1 1 0 .9 0 .9 .1 .9 0 .9 0 .8 0 .9 .1 .8 0 .8 0 .8 .1 .8 0 .8 0 .8 0 .7 .1 .7 0 .7 0 .7 0 .6 .1 .7 0 .6 0 1.2 .1 1.1 0 .9 0 .9" stroke="#4472C4"/></g>
</svg>
<div class="yl" style="top:497.2px">0</div><div class="yl" style="top:448.1px">10</div><div class="yl" style="top:398.9px">20</div><div class="yl" style="top:349.8px">30</div><div class="yl" style="top:300.6px">40</div><div class="yl" style="top:251.4px">50</div><div class="yl" style="top:202.3px">60</div><div class="yl" style="top:153.1px">70</div><div class="yl" style="top:104.0px">80</div><div class="yl" style="top:54.8px">90</div><div class="yl" style="top:5.6px">100</div><div class="xl" style="left:-4.5px">0.01</div><div class="xl" style="left:201.4px">0.1</div><div class="xl" style="left:407.3px">1</div><div class="xl" style="left:613.2px">10</div><div class="xl" style="left:819.2px">100</div><div class="xl" style="left:1025.1px">1000</div><div class="xl" style="left:1231.0px">10000</div>
<div class="xt">FREQUENCY (MHZ)</div>
<div class="yt">SHIELDING EFFECTIVENESS (DB)</div>
<div class="lgl" style="left:122.0px;width:25.4px;background:#5B9BD5"></div><div class="lgt" style="left:150.3px;transform:scaleX(0.7280)">15030201-X-STEEL-Z-18-Ni&nbsp;&nbsp; 1 Ohm 1m</div><div class="lgl" style="left:366.0px;width:24.7px;background:#ED7D31"></div><div class="lgt" style="left:393.6px;transform:scaleX(0.7631)">15030202-Amberstrand-Z-166-Ni&nbsp;&nbsp; 1 Ohm 1m</div><div class="lgl" style="left:637.0px;width:24.3px;background:#A5A5A5"></div><div class="lgt" style="left:664.8px;transform:scaleX(0.7487)">15030203-StainlessSteel-Z-18&nbsp; 1 Ohm 1m</div><div class="lgl" style="left:888.6px;width:25.1px;background:#FFC000"></div><div class="lgt" style="left:916.7px;transform:scaleX(0.7641)">15030205-Liberator-Z-40-Ni&nbsp; 1 Ohm 1m</div><div class="lgl" style="left:1133.0px;width:25.4px;background:#4472C4"></div><div class="lgt" style="left:1160.6px;transform:scaleX(0.7116)">RG58</div>
</body></html>
